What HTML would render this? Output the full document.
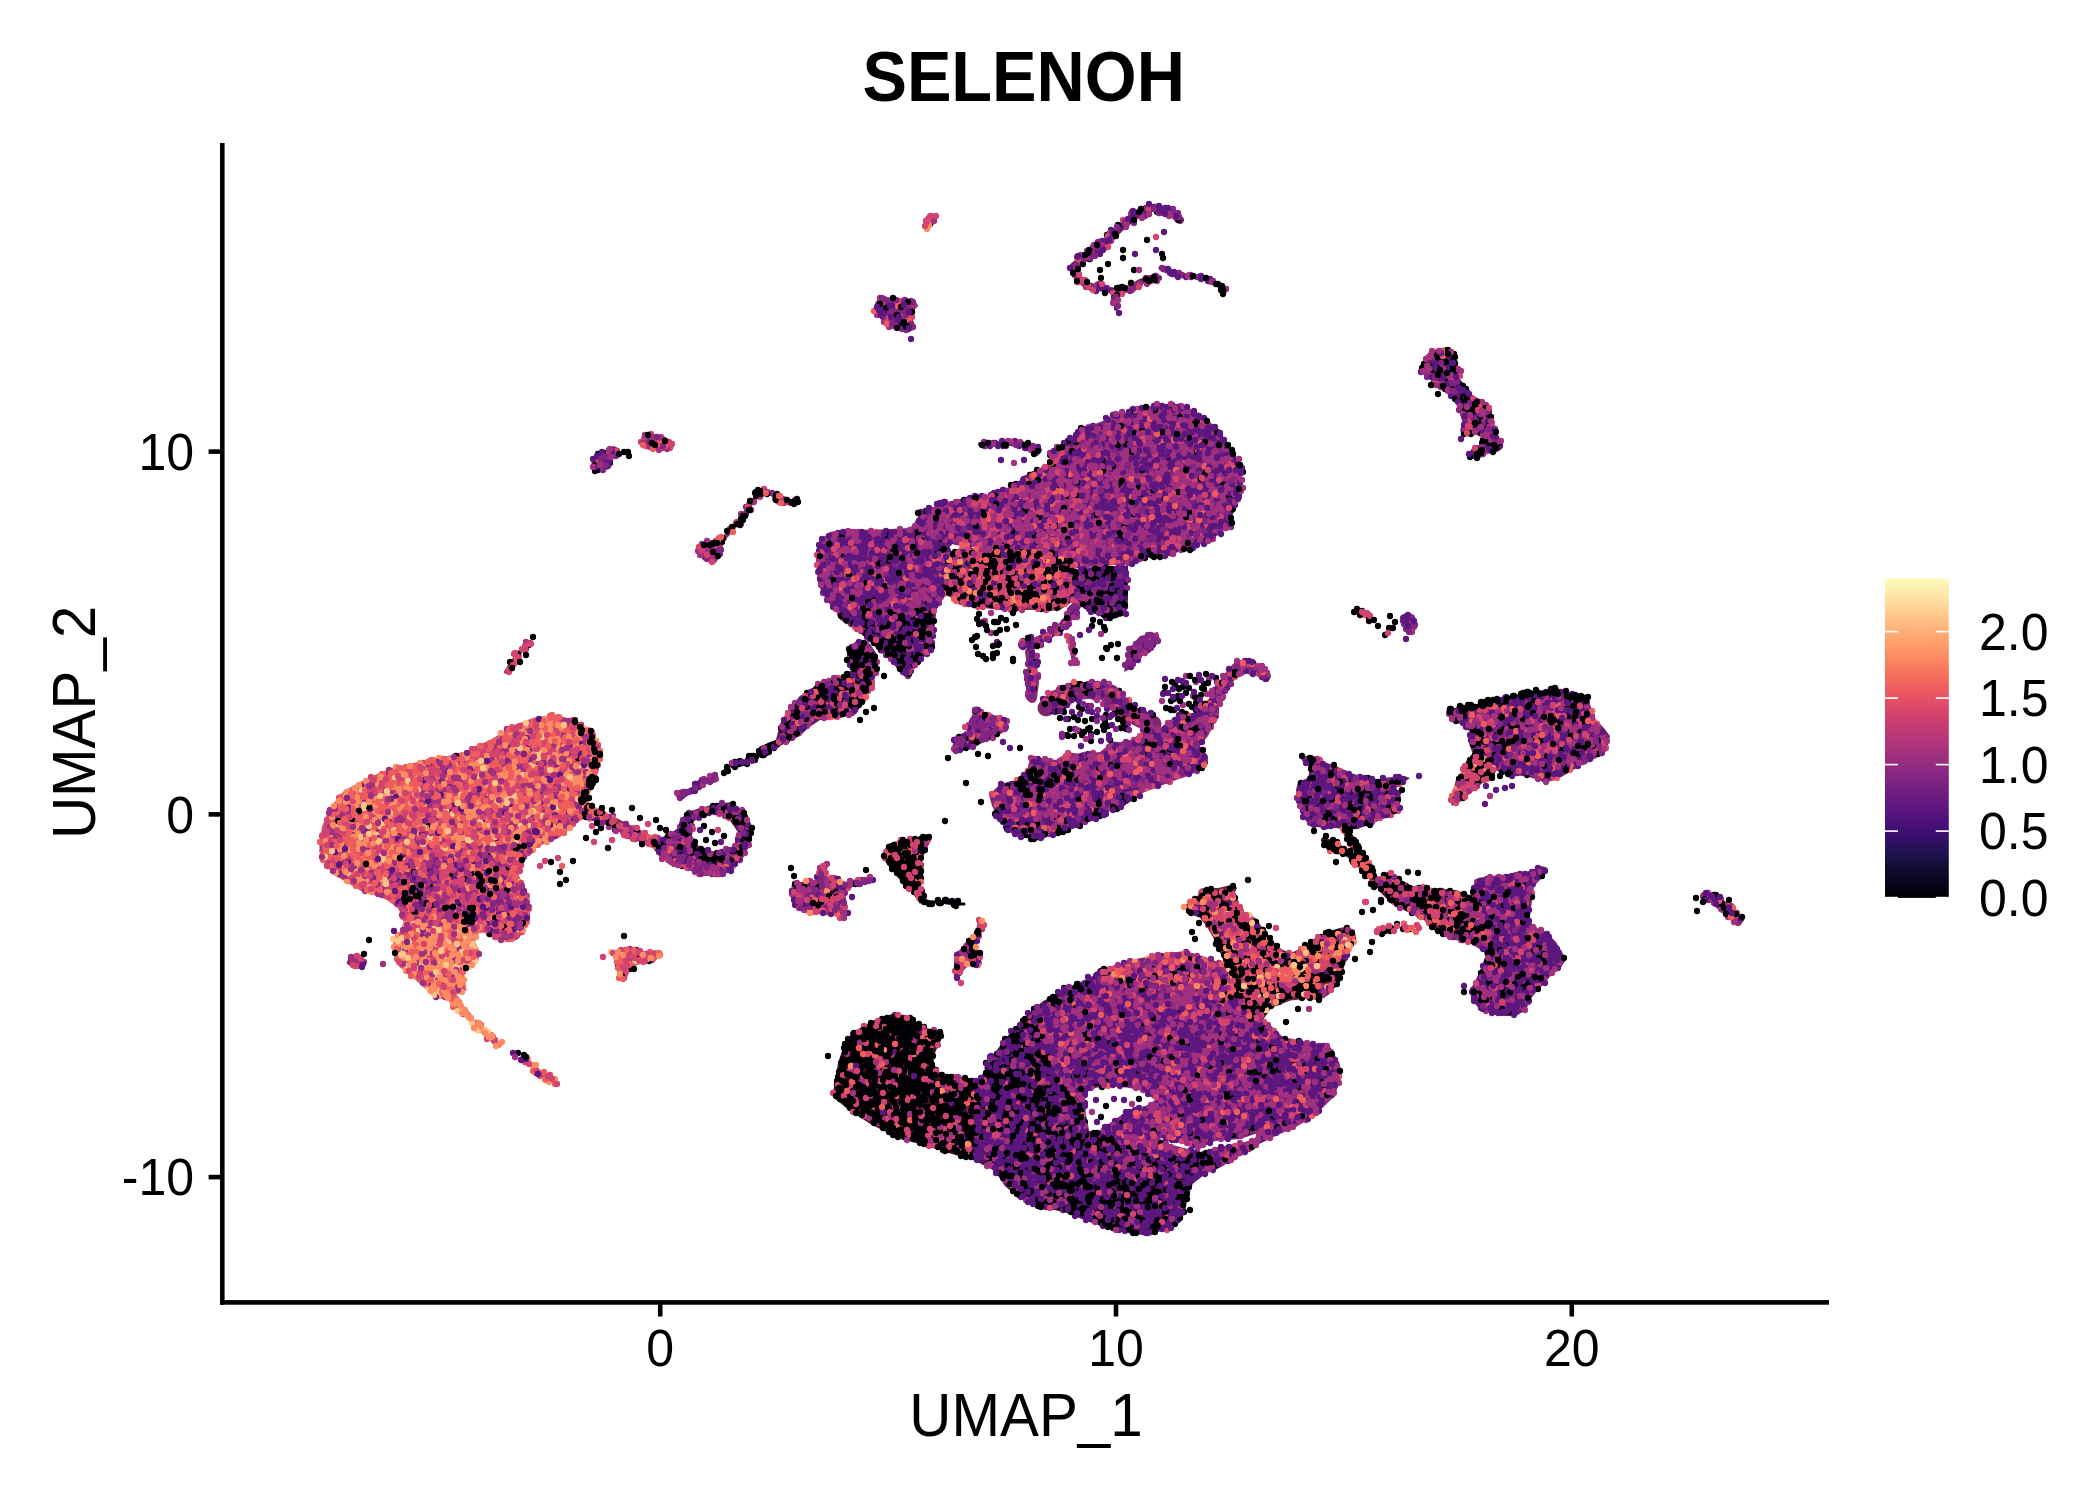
<!DOCTYPE html><html><head><meta charset="utf-8"><title>SELENOH</title><style>
html,body{margin:0;padding:0;background:#fff;width:2100px;height:1500px;overflow:hidden}
svg{position:absolute;left:0;top:0;display:block}
text{font-family:"Liberation Sans", Arial, Helvetica, sans-serif;fill:#000}
</style></head><body>
<svg width="2100" height="1500" viewBox="0 0 2100 1500">
<defs><linearGradient id="mg" x1="0" y1="1" x2="0" y2="0">
<stop offset="0.00" stop-color="#000004"/>
<stop offset="0.05" stop-color="#07061C"/>
<stop offset="0.10" stop-color="#140E36"/>
<stop offset="0.15" stop-color="#251255"/>
<stop offset="0.20" stop-color="#3B0F70"/>
<stop offset="0.25" stop-color="#51127C"/>
<stop offset="0.30" stop-color="#641A80"/>
<stop offset="0.35" stop-color="#782281"/>
<stop offset="0.40" stop-color="#8C2981"/>
<stop offset="0.45" stop-color="#A1307E"/>
<stop offset="0.50" stop-color="#B73779"/>
<stop offset="0.55" stop-color="#CA3E72"/>
<stop offset="0.60" stop-color="#DE4968"/>
<stop offset="0.65" stop-color="#ED5A5F"/>
<stop offset="0.70" stop-color="#F7705C"/>
<stop offset="0.75" stop-color="#FC8961"/>
<stop offset="0.80" stop-color="#FE9F6D"/>
<stop offset="0.85" stop-color="#FEB77E"/>
<stop offset="0.90" stop-color="#FECF92"/>
<stop offset="0.95" stop-color="#FDE7A9"/>
<stop offset="1.00" stop-color="#FCFDBF"/>
</linearGradient></defs>
<rect width="2100" height="1500" fill="#fff"/>
<style>.u path{}
.c0{stroke:#000004}.c1{stroke:#5C177F}.c2{stroke:#802582}.c3{stroke:#A1307E}.c4{stroke:#D24370}.c5{stroke:#EE5C5E}.c6{stroke:#FC8D63}.c7{stroke:#FEC589}
.pt path{fill:none;stroke-width:6.30;stroke-linecap:round}</style>
<g class="u"><path fill="#d65c6c" d="M319.1 851.2 321.9 826.6 330.1 807.5 343.7 791.1 368.3 777.5 395.7 766.5 423.0 761.1 450.3 755.6 469.4 750.1 491.3 739.2 513.2 725.5 535.0 717.3 556.9 714.6 573.3 720.1 589.7 728.3 600.6 744.7 600.6 761.1 595.2 777.5 589.7 793.9 587.0 813.0 573.3 826.6 559.6 837.6 546.0 843.0 535.0 848.5 524.1 859.4 518.6 875.8 526.8 892.2 529.6 908.6 526.8 925.0 518.6 938.7 505.0 941.4 491.3 936.0 480.4 930.5 464.0 925.0 436.6 922.3 414.8 919.6 403.9 919.6 398.4 908.6 387.5 900.4 376.5 895.0 362.9 892.2 349.2 884.0 335.5 875.8 324.6 864.9 Z"/><path fill="#ae3d6c" d="M403.9 864.9 436.6 859.4 464.0 854.0 491.3 848.5 518.6 843.0 535.0 848.5 524.1 859.4 518.6 875.8 526.8 892.2 529.6 908.6 526.8 925.0 518.6 938.7 505.0 941.4 491.3 936.0 480.4 930.5 464.0 925.0 436.6 922.3 414.8 919.6 403.9 919.6 398.4 908.6 392.9 886.8 Z"/><path fill="#e8766d" d="M403.9 919.6 414.8 916.8 436.6 922.3 464.0 925.0 480.4 930.5 474.9 941.4 480.4 952.4 477.6 963.3 464.0 971.5 466.7 990.6 453.0 996.1 436.6 998.8 414.8 979.7 398.4 966.0 392.9 952.4 392.9 938.7 401.1 930.5 Z"/><path fill="none" stroke="#f37f6a" stroke-width="5.0" stroke-linecap="round" stroke-linejoin="round" d="M444.8 993.4 458.5 1007.0 472.2 1020.7 485.8 1034.4 499.5 1045.3"/><path fill="none" stroke="#ee6b64" stroke-width="7.0" stroke-linecap="round" stroke-linejoin="round" d="M442.1 987.9 458.5 1001.6"/><path fill="none" stroke="#d75b6a" stroke-width="4.0" stroke-linecap="round" stroke-linejoin="round" d="M522.0 1058.0 532.0 1066.0 542.0 1074.0 552.0 1080.0 556.0 1085.0"/><path fill="none" stroke="#5f2036" stroke-width="6.0" stroke-linecap="round" stroke-linejoin="round" d="M573.3 722.8 589.7 733.7 597.9 752.9 595.2 772.0 587.0 788.4 584.2 804.8 589.7 818.5"/><path fill="#842769" d="M346.5 963.3 349.2 956.5 354.7 953.7 361.5 955.1 365.6 963.3 361.5 968.8 353.3 968.8 Z"/><path fill="none" stroke="#8e2e60" stroke-width="11.0" stroke-linecap="round" stroke-linejoin="round" d="M588.0 812.0 604.0 818.0 620.0 826.0 636.0 834.0 652.0 842.0 666.0 848.0"/><path fill="#52184f" fill-rule="evenodd" d="M680.0 820.0 688.0 812.0 700.0 808.0 716.0 804.0 732.0 802.0 744.0 812.0 752.0 826.0 752.0 840.0 744.0 856.0 736.0 866.0 720.0 876.0 704.0 874.0 688.0 868.0 676.0 864.0 664.0 858.0 654.0 850.0 660.0 840.0 670.0 834.0 678.0 828.0 Z M694.0 820.0 712.0 814.0 728.0 818.0 738.0 832.0 734.0 846.0 716.0 852.0 700.0 848.0 692.0 836.0 Z"/><path fill="#9a2f7a" d="M656.0 850.0 668.0 846.0 684.0 856.0 700.0 862.0 716.0 866.0 730.0 866.0 736.0 868.0 720.0 876.0 704.0 876.0 688.0 870.0 672.0 864.0 660.0 858.0 Z"/><path fill="none" stroke="#7f247f" stroke-width="4.0" stroke-linecap="round" stroke-linejoin="round" d="M678.0 796.0 690.0 790.0 705.0 782.0 716.0 776.0"/><path fill="none" stroke="#000004" stroke-width="2.0" stroke-linecap="round" stroke-linejoin="round" d="M722.0 772.0 728.0 768.0"/><path fill="none" stroke="#2a0c2d" stroke-width="4.0" stroke-linecap="round" stroke-linejoin="round" d="M732.0 766.0 744.0 762.0 756.0 756.0 768.0 750.0 778.0 744.0"/><path fill="#5e1d4a" d="M776.0 740.0 780.0 724.0 788.0 710.0 800.0 696.0 812.0 688.0 824.0 680.0 840.0 676.0 852.0 670.0 860.0 660.0 870.0 666.0 874.0 686.0 864.0 700.0 856.0 714.0 840.0 718.0 820.0 720.0 808.0 728.0 800.0 736.0 784.0 744.0 772.0 750.0 Z"/><path fill="#501746" d="M846.0 660.0 850.0 646.0 858.0 640.0 870.0 644.0 878.0 656.0 876.0 676.0 866.0 682.0 856.0 672.0 Z"/><path fill="#bb4562" d="M925.0 229.0 923.6 220.0 928.0 213.6 937.0 213.6 938.0 218.0 934.0 224.0 929.0 230.0 Z"/><path fill="#832968" d="M873.0 312.0 875.6 302.0 880.0 297.0 896.0 297.6 912.0 300.0 918.4 305.6 912.4 312.4 912.0 318.0 916.4 328.0 909.0 332.4 900.0 328.4 888.0 328.4 882.0 320.0 876.0 315.0 Z"/><path fill="#6c1f68" d="M591.0 468.0 592.0 460.0 596.0 454.4 606.0 450.0 613.6 446.0 620.0 449.0 618.0 456.0 610.4 458.4 609.0 468.4 602.0 472.4 593.6 471.0 Z"/><path fill="#b34067" d="M640.0 442.4 642.0 435.0 648.0 433.0 662.0 435.0 670.4 440.0 674.0 447.0 668.0 451.0 652.0 451.0 643.0 448.0 Z"/><path fill="none" stroke="#7c2854" stroke-width="4.0" stroke-linecap="round" stroke-linejoin="round" d="M710.0 552.0 720.0 542.0 730.0 532.0 740.0 520.0 748.0 508.0 754.0 500.0 760.0 491.0 768.0 492.0 780.0 499.0 790.0 504.0 798.0 502.0"/><path fill="#81275c" d="M697.0 552.0 700.0 543.0 710.0 540.0 720.0 542.0 722.0 550.0 718.0 560.0 710.0 563.0 703.0 560.0 Z"/><path fill="none" stroke="#a5356c" stroke-width="4.0" stroke-linecap="round" stroke-linejoin="round" d="M506.0 672.0 512.0 662.0 520.0 652.0 530.0 642.0"/><path fill="none" stroke="#6c1f68" stroke-width="8.0" stroke-linecap="round" stroke-linejoin="round" d="M1074.0 266.0 1084.0 258.0 1096.0 250.0 1110.0 238.0 1120.0 228.0 1132.0 218.0 1144.0 210.0 1154.0 207.6 1164.0 212.0 1174.0 215.0 1180.0 220.0"/><path fill="none" stroke="#6b205b" stroke-width="6.0" stroke-linecap="round" stroke-linejoin="round" d="M1074.0 266.0 1076.0 276.0 1084.0 284.0 1098.0 288.0 1110.0 290.0 1120.0 292.0 1130.0 288.0 1140.0 282.0 1150.0 278.0 1159.0 278.0"/><path fill="none" stroke="#571864" stroke-width="3.0" stroke-linecap="round" stroke-linejoin="round" d="M1160.0 268.0 1170.0 272.0 1182.0 275.0 1192.0 276.0 1204.0 279.0 1216.0 284.0 1225.0 292.0"/><path fill="none" stroke="#681e62" stroke-width="4.0" stroke-linecap="round" stroke-linejoin="round" d="M1116.0 294.0 1116.0 309.0"/><path fill="none" stroke="#571861" stroke-width="4.0" stroke-linecap="round" stroke-linejoin="round" d="M980.0 444.0 992.0 443.0 1010.0 444.0 1026.0 446.0 1040.0 450.0"/><path fill="#7d2473" d="M816.0 550.0 820.0 540.0 830.0 532.0 850.0 529.0 870.0 530.0 890.0 529.0 910.0 528.0 918.0 520.0 940.0 512.0 950.0 530.0 950.0 560.0 946.0 594.0 936.0 610.0 934.0 630.0 932.0 650.0 920.0 660.0 906.0 678.0 890.0 660.0 872.0 644.0 860.0 632.0 840.0 616.0 826.0 600.0 818.0 584.0 816.0 560.0 Z"/><path fill="#46134d" d="M840.0 616.0 860.0 610.0 890.0 612.0 920.0 615.0 936.0 612.0 934.0 630.0 932.0 650.0 920.0 660.0 906.0 678.0 890.0 660.0 872.0 644.0 860.0 632.0 Z"/><path fill="#862777" d="M918.0 514.0 940.0 504.0 960.0 499.0 990.0 496.0 1010.0 488.0 1030.0 476.0 1046.0 466.0 1054.0 450.0 1064.0 444.0 1080.0 430.0 1100.0 422.0 1120.0 414.0 1140.0 408.0 1160.0 405.0 1172.0 405.0 1190.0 410.0 1210.0 422.0 1222.0 436.0 1230.0 448.0 1236.0 458.0 1242.0 468.0 1242.0 482.0 1240.0 494.0 1234.0 510.0 1230.0 526.0 1220.0 534.0 1206.0 542.0 1190.0 548.0 1170.0 554.0 1150.0 556.0 1140.0 558.0 1130.0 564.0 1100.0 566.0 1075.0 568.0 1060.0 560.0 1040.0 552.0 1000.0 548.0 960.0 546.0 940.0 540.0 918.0 530.0 Z"/><path fill="#972e75" d="M960.0 500.0 990.0 496.0 1010.0 488.0 1030.0 476.0 1046.0 466.0 1060.0 470.0 1080.0 490.0 1090.0 520.0 1085.0 550.0 1075.0 566.0 1060.0 560.0 1040.0 552.0 1000.0 548.0 960.0 546.0 945.0 530.0 Z"/><path fill="#7c2b49" d="M946.0 556.0 960.0 548.0 1000.0 548.0 1040.0 552.0 1070.0 560.0 1080.0 575.0 1075.0 600.0 1060.0 610.0 1040.0 610.0 1000.0 610.0 960.0 605.0 946.0 594.0 Z"/><path fill="#4a1459" d="M1072.0 570.0 1100.0 566.0 1128.0 566.0 1128.0 600.0 1126.0 615.0 1110.0 620.0 1090.0 612.0 1078.0 600.0 Z"/><path fill="none" stroke="#742172" stroke-width="8.0" stroke-linecap="round" stroke-linejoin="round" d="M1082.0 596.0 1074.0 612.0 1062.0 626.0 1048.0 636.0 1034.0 642.0 1022.0 645.0"/><path fill="none" stroke="#8d2b6d" stroke-width="10.0" stroke-linecap="round" stroke-linejoin="round" d="M1030.0 652.0 1032.0 666.0 1034.0 682.0 1032.0 698.0"/><path fill="none" stroke="#772368" stroke-width="4.0" stroke-linecap="round" stroke-linejoin="round" d="M1070.0 636.0 1072.0 650.0 1074.0 664.0"/><path fill="#752270" d="M1124.0 672.0 1128.0 650.0 1140.0 636.0 1158.0 632.0 1160.0 642.0 1146.0 652.0 1132.0 668.0 Z"/><path fill="#882972" d="M989.0 795.0 1000.0 784.0 1016.0 780.0 1028.0 768.0 1030.0 758.0 1044.0 758.0 1056.0 760.0 1068.0 752.0 1080.0 754.0 1100.0 752.0 1110.0 744.0 1130.0 740.0 1140.0 734.0 1160.0 728.0 1170.0 720.0 1180.0 716.0 1192.0 714.0 1200.0 706.0 1210.0 698.0 1216.0 692.0 1224.0 680.0 1234.0 668.0 1244.0 661.0 1254.0 662.0 1262.0 670.0 1269.0 681.0 1264.0 682.0 1254.0 672.0 1242.0 672.0 1232.0 680.0 1222.0 692.0 1218.0 704.0 1216.0 720.0 1208.0 736.0 1200.0 746.0 1208.0 756.0 1208.0 764.0 1200.0 770.0 1188.0 776.0 1176.0 780.0 1160.0 786.0 1140.0 794.0 1120.0 806.0 1100.0 816.0 1080.0 824.0 1060.0 832.0 1040.0 838.0 1024.0 838.0 1010.0 832.0 1000.0 820.0 992.0 806.0 Z"/><path fill="none" stroke="#7e2668" stroke-width="17.0" stroke-linecap="round" stroke-linejoin="round" d="M1046.0 708.0 1055.0 699.0 1073.0 692.0 1095.0 689.5 1111.0 693.0 1119.0 703.0 1127.0 712.0 1140.0 719.0 1153.0 724.0"/><path fill="none" stroke="#8f2b75" stroke-width="10.0" stroke-linecap="round" stroke-linejoin="round" d="M1266.0 676.0 1250.0 664.0 1236.0 668.0 1226.0 680.0 1216.0 696.0 1210.0 712.0 1206.0 728.0"/><path fill="#812671" d="M952.0 748.0 954.0 738.0 966.0 734.0 970.0 720.0 976.0 706.0 986.0 714.0 1000.0 716.0 1008.0 720.0 1004.0 732.0 990.0 740.0 980.0 744.0 968.0 750.0 956.0 752.0 Z"/><path fill="none" stroke="#ac395d" stroke-width="4.0" stroke-linecap="round" stroke-linejoin="round" d="M1353.0 612.0 1360.0 613.0 1366.0 616.0 1371.0 619.0"/><path fill="#84267f" d="M1400.0 616.0 1406.0 613.0 1413.0 617.0 1415.6 625.0 1412.0 632.4 1408.0 632.4 1403.0 625.0 Z"/><path fill="#631d58" d="M1420.1 369.2 1423.9 358.0 1429.5 351.5 1437.9 348.7 1445.3 347.3 1454.6 351.5 1456.5 354.3 1453.7 360.8 1459.3 367.3 1463.0 373.9 1459.3 378.5 1465.8 386.0 1469.6 393.5 1473.3 397.2 1480.8 399.0 1487.3 404.6 1492.0 409.3 1492.0 419.6 1494.8 428.0 1499.4 437.3 1502.2 442.9 1501.3 449.4 1496.6 452.2 1486.4 453.2 1482.6 456.9 1478.0 458.8 1469.6 457.8 1468.6 453.2 1473.3 446.6 1478.0 444.8 1480.8 447.6 1482.6 437.3 1478.0 433.6 1468.6 436.4 1461.2 434.5 1460.2 428.9 1464.0 423.3 1462.1 417.7 1459.3 412.1 1456.5 404.6 1451.8 397.2 1445.3 389.7 1437.9 386.0 1432.3 387.9 1429.5 385.0 1431.3 380.4 1426.7 376.7 1421.1 372.9 Z"/><path fill="#742363" d="M1446.0 710.0 1460.0 707.0 1480.0 705.0 1498.0 698.0 1520.0 694.0 1540.0 692.0 1554.0 688.0 1570.0 693.0 1588.0 698.0 1592.0 710.0 1596.0 720.0 1604.0 728.0 1610.0 736.0 1608.0 746.0 1604.0 754.0 1592.0 760.0 1580.0 766.0 1570.0 772.0 1556.0 780.0 1546.0 782.0 1532.0 778.0 1524.0 775.0 1510.0 777.0 1500.0 772.0 1490.0 768.0 1480.0 760.0 1472.0 752.0 1468.0 740.0 1470.0 732.0 1464.0 726.0 1452.0 720.0 Z"/><path fill="none" stroke="#0f0418" stroke-width="3.0" stroke-linecap="round" stroke-linejoin="round" d="M1448.0 712.0 1470.0 707.0 1500.0 700.0 1530.0 694.0 1554.0 690.0 1572.0 696.0 1588.0 700.0"/><path fill="#8a3446" d="M1472.0 754.0 1492.0 756.0 1496.0 772.0 1486.0 780.0 1472.0 792.0 1460.0 802.0 1452.0 806.0 1450.0 800.0 1456.0 780.0 1464.0 768.0 Z"/><path fill="#641c64" d="M1300.0 757.0 1312.0 755.0 1324.0 762.0 1336.0 766.0 1348.0 772.0 1360.0 776.0 1376.0 780.0 1384.0 778.0 1392.0 777.0 1404.0 776.0 1410.0 778.0 1396.0 788.0 1400.0 800.0 1400.0 810.0 1392.0 816.0 1380.0 820.0 1372.0 824.0 1360.0 828.0 1348.0 830.0 1336.0 828.0 1324.0 828.0 1310.0 826.0 1302.0 816.0 1298.0 804.0 1296.0 790.0 1298.0 782.0 1308.0 778.0 1310.0 768.0 1302.0 760.0 Z"/><path fill="none" stroke="#4c1b24" stroke-width="8.0" stroke-linecap="round" stroke-linejoin="round" d="M1344.0 826.0 1350.0 838.0 1356.0 850.0 1362.0 862.0 1370.0 874.0 1378.0 884.0"/><path fill="#6e1f6e" d="M1474.0 888.0 1478.0 878.0 1492.0 876.0 1510.0 875.0 1520.0 874.0 1532.0 870.0 1542.0 866.0 1548.0 869.0 1542.0 878.0 1534.0 886.0 1532.0 900.0 1530.0 916.0 1532.0 926.0 1546.0 932.0 1556.0 942.0 1562.0 952.0 1566.0 960.0 1560.0 968.0 1552.0 974.0 1544.0 984.0 1536.0 992.0 1530.0 1000.0 1526.0 1010.0 1516.0 1016.0 1500.0 1016.0 1480.0 1010.0 1472.0 1000.0 1470.0 990.0 1476.0 980.0 1480.0 970.0 1486.0 960.0 1484.0 952.0 1472.0 944.0 1460.0 940.0 1450.0 936.0 Z"/><path fill="none" stroke="#87277c" stroke-width="3.0" stroke-linecap="round" stroke-linejoin="round" d="M1478.0 884.0 1500.0 880.0 1520.0 878.0 1536.0 874.0"/><path fill="#5c1e3c" d="M1376.0 878.0 1392.0 872.0 1408.0 886.0 1432.0 888.0 1456.0 890.0 1472.0 896.0 1480.0 910.0 1490.0 924.0 1492.0 940.0 1476.0 944.0 1456.0 940.0 1436.0 932.0 1424.0 920.0 1404.0 910.0 1392.0 904.0 1380.0 892.0 Z"/><path fill="none" stroke="#3c171a" stroke-width="6.0" stroke-linecap="round" stroke-linejoin="round" d="M1324.0 840.0 1340.0 848.0 1356.0 860.0 1372.0 874.0"/><path fill="#3a1325" d="M832.9 1093.7 838.0 1062.9 845.7 1039.7 861.1 1026.9 876.6 1019.1 892.0 1014.0 907.4 1015.3 915.1 1021.7 930.6 1029.4 943.4 1032.0 938.3 1044.9 933.1 1057.7 935.7 1068.0 943.4 1075.7 958.9 1075.7 974.3 1080.9 975.0 1110.0 974.3 1160.6 948.6 1152.9 922.9 1145.1 897.1 1137.4 871.4 1124.6 850.9 1111.7 835.4 1098.9 Z"/><path fill="#491451" d="M974.3 1080.9 987.1 1070.6 1000.0 1057.7 1012.9 1037.1 1025.7 1024.3 1040.0 1040.0 1060.0 1080.0 1100.0 1130.0 1160.0 1160.0 1200.0 1150.0 1231.4 1160.6 1218.6 1168.3 1205.7 1173.4 1192.8 1183.7 1187.7 1196.6 1185.1 1212.0 1180.0 1222.3 1167.1 1230.0 1154.3 1232.6 1136.3 1235.1 1115.7 1230.0 1090.0 1222.3 1064.3 1212.0 1038.6 1206.9 1020.6 1199.1 1005.1 1186.3 994.9 1170.9 974.3 1160.6 975.0 1110.0 Z"/><path fill="#7d2475" d="M1025.7 1024.3 1038.6 1011.4 1051.4 998.6 1066.8 990.9 1090.0 980.6 1105.4 970.3 1128.6 962.6 1154.3 960.0 1180.0 965.0 1210.0 985.0 1240.0 1000.0 1265.0 1020.0 1282.8 1037.1 1308.6 1042.3 1329.1 1044.9 1339.4 1062.9 1342.0 1075.7 1334.3 1096.3 1321.4 1109.1 1308.6 1119.4 1295.7 1127.1 1277.7 1134.9 1257.1 1145.1 1244.3 1152.9 1231.4 1160.6 1200.0 1150.0 1160.0 1160.0 1100.0 1130.0 1060.0 1080.0 1040.0 1040.0 Z"/><path fill="none" stroke="#330e3f" stroke-width="11.0" stroke-linecap="round" stroke-linejoin="round" d="M990.0 1068.0 1004.0 1050.0 1016.0 1034.0 1030.0 1020.0 1046.0 1006.0 1066.0 994.0 1090.0 984.0 1110.0 974.0"/><path fill="#9b3369" d="M1100.0 971.9 1119.0 964.3 1138.1 958.6 1166.7 952.9 1185.7 951.0 1204.8 956.7 1223.8 964.3 1233.3 971.9 1237.1 987.1 1233.3 998.6 1223.8 1002.4 1204.8 994.8 1185.7 991.0 1166.7 991.0 1147.6 987.1 1128.6 983.3 1109.5 983.3 1100.0 983.3 Z"/><path fill="#6a293b" d="M1183.8 907.1 1191.4 899.5 1202.9 891.9 1206.7 888.1 1218.1 888.1 1233.3 884.3 1237.1 888.1 1233.3 895.7 1244.8 912.9 1256.2 918.6 1263.8 930.0 1271.4 939.5 1281.0 949.0 1290.5 952.9 1300.0 949.0 1309.5 941.4 1319.0 935.7 1328.6 931.9 1340.0 928.1 1347.6 926.2 1353.3 930.0 1355.2 939.5 1347.6 956.7 1343.8 968.1 1338.1 983.3 1328.6 994.8 1319.0 1000.5 1309.5 998.6 1290.5 1000.5 1281.0 1004.3 1271.4 1008.1 1261.9 1021.4 1252.4 1021.4 1242.9 1013.8 1237.1 1002.4 1233.3 987.1 1229.5 971.9 1221.9 956.7 1214.3 939.5 1206.7 926.2 1199.0 916.7 1189.5 912.9 Z"/><path fill="none" stroke="#c34f5f" stroke-width="10.0" stroke-linecap="round" stroke-linejoin="round" d="M1203.0 893.0 1215.0 905.0 1226.0 922.0 1238.0 942.0 1252.0 958.0 1268.0 970.0"/><path fill="none" stroke="#be4e5c" stroke-width="19.0" stroke-linecap="round" stroke-linejoin="round" d="M1258.0 982.0 1285.0 976.0 1310.0 966.0 1330.0 952.0 1345.0 938.0"/><path fill="#591e31" d="M882.0 854.0 888.0 844.0 900.0 840.0 916.0 838.0 926.0 834.0 932.0 838.0 926.0 850.0 922.0 860.0 924.0 872.0 920.0 884.0 924.0 896.0 920.0 904.0 912.0 892.0 900.0 880.0 890.0 868.0 884.0 860.0 Z"/><path fill="none" stroke="#000004" stroke-width="3.0" stroke-linecap="round" stroke-linejoin="round" d="M918.0 898.0 930.0 902.0 942.0 902.0 954.0 904.0 964.0 904.0"/><path fill="#922f6a" d="M790.0 896.0 792.0 884.0 800.0 882.0 816.0 880.0 818.0 870.0 824.0 862.0 828.0 864.0 826.0 876.0 836.0 878.0 846.0 882.0 860.0 878.0 872.0 876.0 874.0 880.0 860.0 884.0 848.0 888.0 844.0 898.0 848.0 912.0 846.0 920.0 840.0 918.0 830.0 914.0 816.0 914.0 810.0 916.0 796.0 906.0 Z"/><path fill="#ca5460" d="M610.0 952.0 620.0 949.0 632.0 948.0 644.0 951.0 656.0 950.0 662.0 954.0 656.0 960.0 640.0 964.0 630.0 968.0 628.0 976.0 624.0 981.0 618.0 978.0 618.0 968.0 616.0 958.0 Z"/><path fill="#8e335d" d="M978.0 918.0 984.0 920.0 985.0 930.0 980.0 934.0 978.0 940.0 974.0 944.0 980.0 952.0 982.0 964.0 978.0 968.0 970.0 964.0 964.0 970.0 958.0 978.0 954.0 978.0 954.0 960.0 958.0 952.0 964.0 946.0 976.0 932.0 Z"/><path fill="none" stroke="#8d2d64" stroke-width="8.0" stroke-linecap="round" stroke-linejoin="round" d="M1704.0 896.0 1715.0 899.0 1724.0 905.0 1731.0 913.0 1738.0 922.0"/><path fill="#fff" d="M1084.8 1090.5 1104.0 1086.3 1125.4 1087.3 1141.4 1090.5 1155.2 1100.1 1146.7 1105.5 1130.7 1109.7 1120.0 1116.1 1109.3 1123.6 1098.7 1131.1 1089.1 1131.1 1085.9 1114.0 Z"/><path fill="#fff" d="M1160.0 1138.0 1180.0 1143.0 1200.0 1148.0 1215.0 1141.0 1240.0 1139.0 1258.0 1133.0 1259.0 1137.0 1242.0 1143.0 1218.0 1147.0 1200.0 1152.0 1180.0 1147.0 1160.0 1142.0 Z"/></g>
<g class="pt"><path class="c6" d="M528 725h0m25-2h0m17 5h0m10 9h0m-6 2h0m-23 0h0m0 5h0m-36 8h0m28 1h0m55-1h0m-4 5h0m-2-1h0m-133 8h0m-16 3h0m-4-9h0m105 21h0m11-10h0m12 4h0m4-3h0m16 20h0m-101-5h0m-77-1h0m-31 2h0m-21 7h0m165 17h0m-22-3h0m-23 2h0m-53-3h0m-14-2h0m-8 1h0m-2 4h0m-14 1h0m24 12h0m0-5h0m60 7h0m84 2h0m10 4h0m-158 0h0m-16 5h0m-40-4h0m99 18h0m79 4h0m-174 4h0m-10 11h0m28 3h0m52 1h0m17-7h0m45 5h0m0-4h0m-81 19h0m-58-4h0m99 9h0m39 12h0m-45 3h0m-14-1h0m-2 4h0m98 19h0"/><path class="c4" d="M560 723h0m-21 12h0m-23 5h0m-1-1h0m-3-4h0m-19 16h0m49-5h0m45-2h0m-2 13h0m-65 4h0m-9 0h0m-34-1h0m-7 4h0m-47-1h0m-15 5h0m123 1h0m17 6h0m-3 11h0m-54 1h0m-43-6h0m-12 8h0m-33 1h0m-34-7h0m39 12h0m41-2h0m7 0h0m75 6h0m27-2h0m-5 12h0m-5 4h0m-5-2h0m-22 3h0m-107 1h0m-76 1h0m-11 9h0m69-1h0m8-5h0m25 3h0m92-2h0m20 7h0m-32 3h0m-27 5h0m-16 0h0m-61 2h0m-30-6h0m-52 4h0m85 14h0m61-1h0m40 12h0m-49-7h0m-43 5h0m-56-4h0m-22 15h0m56 4h0m101-1h0m8 14h0m-106 10h0m49 1h0m45 2h0m2-7h0m31 4h0m4 11h0m-14-2h0m-6 6h0m-4-2h0m-10-8h0m-45 6h0m13 6h0m7 8h0m29-3h0m4 0h0m17-1h0m-7 12h0m-22 0h0"/><path class="c3" d="M496 747h0m27 9h0m-134 14h0m134 0h0m61 9h0m-25 9h0m-115 2h0m-34-9h0m-40 11h0m73 5h0m15 7h0m10-9h0m74 10h0m-79 8h0m-21-5h0m-17 6h0m-33 6h0m40-1h0m78 8h0m2-6h0m20 13h0m-106 0h0m-10 4h0m-2-3h0m-11 1h0m-10 2h0m-40-5h0m-20 3h0m35 15h0m36-9h0m106 5h0m-13 12h0m-5-1h0m-10-6h0m-102 20h0m9-4h0m78 17h0m-112-9h0m10 15h0m146-3h0m-37 31h0m23-7h0"/><path class="c2" d="M506 752h0m83 2h0m-152 8h0m69 45h0m-56 2h0m-19 54h0m-92 11h0m74-8h0m-50 17h0m122 21h0m-4 8h0"/><path class="c0" d="M401 832h0"/><path class="c1" d="M580 744h0m-219 42h0m150 21h0m-58-1h0m12 36h0m41 15h0m-54 24h0"/><path class="c7" d="M421 779h0m166-9h0m-225 20h0m91 24h0m35 12h0m33 0h0m-91 11h0m91 4h0m-96 21h0m-9 12h0m51-9h0m35 4h0m5 12h0m-32-1h0m-52 7h0m-30 0h0m61 3h0m-48 19h0m-5-4h0m59 14h0m5-1h0m14 3h0"/><path class="c5" d="M532 735h0m-23 9h0m-19-1h0m51 7h0m6 1h0m30-3h0m6 1h0m8 3h0m-111 12h0m-103 15h0m5-5h0m14-2h0m72 5h0m15 0h0m7-2h0m2 4h0m65 0h0m27 13h0m0-11h0m-47-1h0m-56 6h0m-65 0h0m-21-3h0m-11 4h0m-31 4h0m-3 10h0m16-3h0m31-5h0m48 2h0m57 0h0m72 8h0m-17 11h0m-12-10h0m-5 10h0m-44-6h0m-14 0h0m-79 5h0m-5-9h0m-48 11h0m91 7h0m7-1h0m17 6h0m59-9h0m40 15h0m-30 5h0m-45-7h0m-12 2h0m-11 4h0m-24 1h0m-120 6h0m38 1h0m18 3h0m119 3h0m41-6h0m-70 7h0m-60 4h0m-11-2h0m-25 5h0m-6 0h0m-28 4h0m-3-7h0m-12 4h0m0-5h0m23 14h0m147 5h0m16 3h0m-12 0h0m-39 4h0m-5 0h0m-16 7h0m-16-7h0m-46 3h0m-19 2h0m19 6h0m1-1h0m124-1h0m6 11h0m-110 1h0m-3-2h0m15 15h0m9 0h0m8 2h0m60 7h0m-1 4h0m-18-4h0m32 13h0"/><path class="c6" d="M561 728h0m17 5h0m-51 1h0m31 33h0m-23-1h0m-41-7h0m-44 1h0m49 14h0m83 11h0m-63 3h0m-18-2h0m-91 2h0m-18 4h0m-14-10h0m-20 19h0m113-4h0m45 4h0m37 2h0m3 8h0m-6-7h0m-13 0h0m-33 1h0m-19 1h0m-19 2h0m-43 8h0m-43 0h0m-24-11h0m-6-1h0m2 18h0m161-4h0m21 4h0m-49 15h0m-6-1h0m-23-7h0m-1 5h0m-101-5h0m-24 7h0m5 15h0m38 0h0m60-8h0m25-2h0m62 17h0m-60 6h0m-14 0h0m-84-5h0m-26 14h0m64 1h0m12-4h0m33 4h0m42-2h0m23-2h0m-8 9h0m-31-2h0m-31 2h0m-26 2h0m-21 9h0m95 3h0m2-3h0m33 21h0m-5-8h0m-21-1h0m-88 9h0m21 4h0m47-1h0m16 20h0"/><path class="c3" d="M568 725h0m-65 13h0m-1 13h0m7 1h0m-48 11h0m-64 5h0m164 7h0m14-4h0m-51 21h0m-61-10h0m30 11h0m48 9h0m4 10h0m-34 2h0m-10-3h0m-71-4h0m-100 20h0m5-8h0m101 0h0m20 7h0m5-4h0m85 2h0m-77 7h0m-38 2h0m-69 1h0m-39 14h0m69 14h0m-62 0h0m50 6h0m85 1h0m-68 7h0m-5 7h0m-6-5h0m-4 17h0m39 2h0m102 13h0m-21-7h0m-49 8h0m-50-1h0m4 5h0m22 5h0m71-1h0"/><path class="c0" d="M456 756h0m-28 70h0m155-10h0m-240 21h0m120 54h0"/><path class="c1" d="M529 751h0m38 9h0m-171 37h0m157 10h0m-69 13h0m75 3h0m-61 17h0m27 10h0m-99 14h0m6 39h0m14 11h0"/><path class="c7" d="M583 729h0m-3 36h0m-159 24h0m-34 5h0m52 6h0m68-2h0m-61 12h0m-108 17h0m133 16h0m-89 17h0m-6 4h0m87 34h0m-12 19h0m66-1h0m2 15h0"/><path class="c4" d="M556 731h0m29 7h0m-42 4h0m-21-8h0m-18 9h0m-20 7h0m18 4h0m50-7h0m46-2h0m-7 21h0m-22-8h0m-14 7h0m-5-1h0m-51-7h0m-65 8h0m-31 11h0m70-6h0m73 4h0m4 3h0m13 4h0m-50 3h0m-23-3h0m-38 1h0m-30 3h0m-21-4h0m0 6h0m-19-4h0m-43 15h0m149-2h0m38 5h0m35-1h0m-40 10h0m-50 4h0m-3 1h0m-31-10h0m-75 3h0m-17 7h0m-11 5h0m53 4h0m53-1h0m101 0h0m-10 8h0m-5 0h0m-10-2h0m-106 3h0m-9-1h0m-11 5h0m-53-2h0m-10 0h0m52 16h0m2-6h0m124 1h0m9-1h0m-5 11h0m-23 6h0m-5-4h0m-79 4h0m-24-8h0m-23 2h0m-21 9h0m39 5h0m9 2h0m138 0h0m-19 12h0m-41 2h0m-31-4h0m-67 4h0m-14-9h0m159 17h0m4 16h0m-41-6h0m-56-3h0m28 18h0m5 0h0m27 2h0m43 6h0"/><path class="c2" d="M570 745h0m2 8h0m-34 9h0m-29-3h0m86 19h0m-52 15h0m-15 40h0m-162-2h0m158 26h0m-134 18h0m7 20h0"/><path class="c5" d="M531 728h0m25-5h0m5 16h0m-66 2h0m87 6h0m4 2h0m-6 13h0m-35 4h0m-16-3h0m-7-2h0m-3-3h0m-30 7h0m-13 1h0m-20-7h0m-23 1h0m-30 11h0m17 1h0m93-2h0m70 1h0m12 1h0m-4 10h0m-58 2h0m-7 7h0m-24 0h0m-7-7h0m-19 0h0m-4 1h0m-2 5h0m-8 1h0m-31-4h0m-42-5h0m-24 8h0m38 9h0m34 3h0m77-9h0m57 2h0m11 20h0m-14-3h0m-179-8h0m-19 9h0m-18-5h0m-8 17h0m105-6h0m7 0h0m23-1h0m20 2h0m61 11h0m-58 3h0m0 5h0m-36-8h0m-83 7h0m-35-8h0m-23 18h0m60 2h0m47 1h0m52-11h0m33 4h0m-6 13h0m-62-3h0m-8 6h0m-32-5h0m-48 5h0m42 9h0m70 0h0m13 17h0m-84-5h0m10 13h0m23-1h0m4-4h0m68 10h0m4-3h0m-67 7h0m-1 6h0m-12-1h0m21 6h0"/><path class="c1" d="M584 765h0m-160 15h0m142 10h0m-132-7h0m140 37h0m-95 42h0m-32 14h0m11 15h0m59 2h0"/><path class="c0" d="M338 821h0"/><path class="c4" d="M528 723h0m29 10h0m-77 18h0m2 3h0m7 0h0m87 9h0m-127 0h0m-78 14h0m47-9h0m130 3h0m44 14h0m-54-1h0m-32-1h0m-136 6h0m-17 12h0m6-5h0m106 6h0m69-8h0m12-1h0m-101 13h0m-9-1h0m-24 10h0m-53-1h0m-32 6h0m83 4h0m18-7h0m65 9h0m2 0h0m73-1h0m-28 9h0m-64 3h0m-6-1h0m-51 2h0m-76-4h0m31 13h0m20-6h0m71 7h0m24-4h0m-28 16h0m-47-2h0m-75-5h0m42 13h0m15 5h0m27-2h0m32 3h0m58-7h0m-78 14h0m-64 2h0m18 16h0m36 3h0m15-2h0m58 10h0m-15 1h0m-15-7h0m-32 15h0m2-1h0m19 3h0m7 3h0m54-9h0m-18 22h0"/><path class="c5" d="M512 727h0m32-2h0m29 6h0m0-11h0m5 7h0m-54 20h0m76 12h0m-87-1h0m-45 8h0m-24-7h0m-13 1h0m-25 7h0m2 9h0m80 0h0m22 3h0m26-10h0m2 9h0m55-7h0m-4 17h0m-11-4h0m-37 4h0m-18-8h0m-42 1h0m-78 3h0m-29 18h0m48-4h0m31 1h0m4 4h0m125-6h0m4 9h0m-38 5h0m-73-7h0m-26 2h0m-2 9h0m-17-4h0m-66 3h0m0 5h0m93 2h0m50 0h0m31 18h0m-39-8h0m-29 1h0m-30 2h0m-36-1h0m-48 6h0m8 1h0m7 5h0m20-4h0m22 6h0m5 4h0m1-5h0m21-2h0m14-4h0m17 11h0m17-8h0m14-1h0m0 8h0m5 0h0m-91 10h0m-20 1h0m-24-8h0m-41 13h0m22 6h0m84-7h0m71 5h0m9 9h0m-114 5h0m52 12h0m3-4h0m2 4h0m26 3h0m21-10h0m12 20h0m-61 2h0m-3 11h0m31-10h0m6 3h0m33 7h0m-17 3h0"/><path class="c7" d="M532 765h0m-17 31h0m-122 11h0m-10 16h0m93 5h0m52-3h0m-12 16h0m13 1h0m-10 19h0m-67-6h0m-49 2h0m-21-1h0m-34 17h0m146-2h0m15 4h0m2 18h0m-100 8h0m-4 2h0m12 14h0m42-3h0m38 11h0"/><path class="c6" d="M542 732h0m26 3h0m-19 1h0m-4-2h0m-80 21h0m40-10h0m39 5h0m32-5h0m-61 17h0m-113 12h0m13 3h0m13-6h0m12 5h0m61-2h0m3-6h0m1 8h0m13-6h0m54 11h0m-42 8h0m-62 0h0m-33-5h0m-52 10h0m66 2h0m29 6h0m7-8h0m18 2h0m3-2h0m61 5h0m20-4h0m-3 14h0m-2-5h0m-46 8h0m-25-2h0m-12 6h0m-27-5h0m-5 0h0m-48-2h0m-29 7h0m-15-10h0m-2 8h0m-41 3h0m36 6h0m55 3h0m37 0h0m0-8h0m88 16h0m-128 0h0m-62 0h0m-5 3h0m-28 4h0m69 6h0m89-3h0m23-4h0m28 5h0m-145 9h0m-10 9h0m74 1h0m65 19h0m-37 1h0m0-1h0m-15-5h0m-80 4h0m-3-2h0m-17 0h0m-5-1h0m10 13h0m66 6h0m40-6h0m5-2h0m44 5h0m-28 12h0m-38-1h0m-27-5h0m57 16h0m3 1h0"/><path class="c3" d="M537 722h0m28-1h0m4 0h0m3 46h0m-143-2h0m112 3h0m19 19h0m-30-2h0m-8 2h0m-83 2h0m-55 1h0m-12-5h0m-7 18h0m68-2h0m-18 22h0m-1 26h0m52-5h0m5 3h0m17 1h0m30 5h0m-134 0h0m-40 23h0m156-11h0m-10 18h0m-73 1h0m-6 5h0m61 1h0m28 24h0m16 8h0"/><path class="c2" d="M564 736h0m-53 11h0m46 17h0m-13-1h0m-28 4h0m-11-5h0m49 36h0m-206 9h0m30 21h0m177 8h0m-28 8h0"/><path class="c7" d="M526 723h0m12 29h0m-145 26h0m84-2h0m46-1h0m-115 6h0m-26 20h0m79-6h0m51 2h0m21 14h0m10 5h0m-48 21h0m-101-7h0m-33 7h0m141 21h0m-114 1h0m65 27h0m66 13h0m-59 22h0m46 1h0"/><path class="c1" d="M529 744h0m19 35h0m-126 55h0m-24 5h0m-63 13h0m109 17h0m-16 45h0"/><path class="c4" d="M518 729h0m0-2h0m19 1h0m-4 8h0m-61 13h0m25 6h0m51 0h0m4 0h0m0-4h0m37-1h0m-99 10h0m-9-2h0m-11-2h0m-19 12h0m-53 8h0m14-2h0m26-5h0m18 1h0m0 4h0m72 4h0m34-7h0m2-2h0m-7 13h0m-48 9h0m-19 0h0m-24-11h0m-28 4h0m-7 4h0m-7 1h0m-50-9h0m-21 14h0m58 5h0m9 1h0m-79 8h0m-2-1h0m16 13h0m16-4h0m5 2h0m65-2h0m123 0h0m5 0h0m4 8h0m-207 12h0m-28-4h0m-11 13h0m4-5h0m70 2h0m104 12h0m-90-2h0m-7 8h0m-33 1h0m-24 0h0m-19-1h0m129 13h0m3 1h0m16-6h0m36 14h0m-89 6h0m-8-5h0m-28 4h0m4 9h0m13-2h0m30-3h0m11 5h0m50-3h0m24 13h0m-59 0h0m-16-4h0m54 22h0"/><path class="c3" d="M555 745h0m-63 15h0m-30 3h0m-13 2h0m92 8h0m49 4h0m-48 10h0m-7 1h0m-9-5h0m-134 8h0m30 12h0m6-7h0m11 5h0m32-6h0m15 4h0m91 6h0m-229 6h0m-6 4h0m172 10h0m-53 8h0m-90-4h0m-24 17h0m95-5h0m18 9h0m-49 12h0m-17 1h0m-50-9h0m76 22h0m28-6h0m47 14h0m-26-2h0m-27 0h0m-46 0h0m-18 3h0m0 9h0m149 8h0m-31 8h0m-46 10h0m60 9h0m-7 4h0"/><path class="c5" d="M555 718h0m-23 7h0m47 4h0m-2 11h0m-3 2h0m-9-5h0m-31 6h0m-61 11h0m18-8h0m9 0h0m39-2h0m21 10h0m13 4h0m-39 3h0m-40 7h0m-32-3h0m-24 0h0m-23 6h0m21 6h0m18-2h0m11 0h0m64 5h0m42-5h0m7 6h0m-99 6h0m-53 0h0m-33-4h0m-52 14h0m57 4h0m9-4h0m28 0h0m87 1h0m29-1h0m20 4h0m14 0h0m-13 6h0m-43-3h0m-2 8h0m-60-6h0m-10 7h0m-36-8h0m-11 4h0m-21 0h0m-48-2h0m-1 16h0m23 1h0m32-5h0m4 5h0m18-6h0m56 8h0m79-8h0m27 0h0m-23 15h0m-11-4h0m-59 1h0m-77-1h0m-60 4h0m-13 8h0m92 8h0m35-4h0m27-4h0m-36 15h0m-2-2h0m-22-1h0m-64 10h0m-11 0h0m-26-6h0m19 10h0m30 5h0m12-6h0m73 10h0m36-3h0m18-2h0m4-6h0m-98 23h0m-20 0h0m12 2h0m29 2h0m15 8h0m15-1h0m1-1h0m39-1h0m4-8h0m2 15h0m-11 8h0m-6-10h0m-22 3h0m-81-3h0m12 11h0m4 4h0m52-4h0m18 3h0m5 7h0m2-1h0m34-6h0"/><path class="c2" d="M527 738h0m3 21h0m-88 22h0m124 30h0m-40-5h0m-96 41h0m97 2h0m14-9h0m-200 22h0m32 16h0m135 26h0m-92 7h0"/><path class="c6" d="M522 729h0m36-4h0m1 17h0m-32 8h0m28 5h0m14 6h0m-83 7h0m-19-11h0m-47 6h0m-10 3h0m-14 1h0m-15 10h0m66 0h0m17 0h0m119 12h0m-112-8h0m-105 0h0m-7 4h0m-13 10h0m11 2h0m19 1h0m39-4h0m33 7h0m82-7h0m36 0h0m10 17h0m-60 3h0m-27-8h0m-1 6h0m-109 3h0m-13 2h0m118 8h0m21-9h0m11 5h0m36 8h0m-7 10h0m-48-5h0m-34 4h0m-5 0h0m-6-1h0m-7-3h0m-59-3h0m-52 0h0m6 18h0m33-6h0m5-1h0m7 4h0m7 3h0m34-8h0m15 8h0m14 3h0m38-2h0m30-6h0m16-3h0m-25 18h0m-147 12h0m153 16h0m-31-10h0m-25 5h0m-58-4h0m-3 16h0m76 4h0m-74 9h0m106 9h0m-6 23h0"/><path class="c5" d="M535 724h0m32 6h0m5-4h0m-19 8h0m-15 7h0m-8 2h0m-20-7h0m-21 13h0m41 5h0m64 8h0m-45-2h0m-54 3h0m-23-2h0m-18 0h0m-6 13h0m3 4h0m7-8h0m17 4h0m4-4h0m5 5h0m68 7h0m-34 1h0m-58 2h0m-20 2h0m-21-4h0m-4-3h0m-3 4h0m-60 12h0m15 0h0m15 3h0m26 5h0m7 0h0m67-5h0m14-5h0m55 0h0m11 17h0m-23-3h0m-20-1h0m-75 9h0m-22-2h0m-17-3h0m-21 1h0m-3-6h0m-12 4h0m-32 2h0m-5 2h0m25 4h0m34 7h0m60 0h0m12-7h0m3 5h0m22-3h0m37 7h0m13-2h0m22 7h0m-9 2h0m-30 5h0m-9-3h0m-113-6h0m-56 11h0m14 5h0m64 4h0m28-4h0m7 4h0m42-6h0m0 8h0m-56 5h0m-9 3h0m-41-7h0m-3 6h0m-36-4h0m-12 3h0m-15-4h0m36 10h0m40 1h0m3 3h0m28 5h0m7-3h0m48 16h0m-54 0h0m-19 12h0m92 6h0m-26 6h0m-43 1h0m-14 1h0m101 13h0"/><path class="c6" d="M557 739h0m-37 2h0m-5 4h0m0 5h0m44-2h0m37 13h0m-37 1h0m-72-6h0m-9 7h0m-55 4h0m77 9h0m17 1h0m14 2h0m35-3h0m14 0h0m0 6h0m-6 2h0m-10 0h0m-18-3h0m-8 5h0m-26-3h0m-2 1h0m-99 19h0m5-4h0m129-1h0m16-4h0m-78 15h0m-8 5h0m-39-3h0m-77 14h0m58-1h0m57-5h0m13-2h0m36 11h0m17 3h0m-21 1h0m-8-4h0m-9 2h0m-60-1h0m-30 7h0m-39-4h0m-24 18h0m54-5h0m108-4h0m36 1h0m-36 12h0m-28 10h0m-13-11h0m-48 7h0m-15-8h0m-61 20h0m10-4h0m134-2h0m2 11h0m-17 0h0m-53 9h0m-24-1h0m-29 2h0m49 10h0m1-5h0m6 3h0m95-3h0m-50 16h0m-9-6h0m-8 10h0m-32-10h0m-8 2h0m93 12h0m-3 11h0m-27-2h0"/><path class="c1" d="M539 719h0m42 35h0m-21 21h0m-119 20h0m20 14h0m-8 37h0m-75 13h0m-39 6h0m168 19h0m-108-3h0m116 34h0"/><path class="c2" d="M446 771h0m133 37h0m-24 7h0m-103 7h0m-38 9h0m66 15h0m52-5h0m-129 14h0m81 20h0m-49 29h0m-31 11h0"/><path class="c0" d="M578 758h0m-226 61h0m157 32h0"/><path class="c4" d="M520 726h0m52 9h0m-35 0h0m-61 14h0m9-3h0m52 3h0m26-4h0m9 6h0m10 7h0m-159 11h0m4 9h0m13-4h0m60-5h0m36 4h0m26 6h0m25 6h0m-65 6h0m-4-5h0m-11-1h0m-7-3h0m-125 8h0m109 11h0m0-8h0m43 8h0m14-4h0m-48 17h0m-122 12h0m104-5h0m15-4h0m18 2h0m26 6h0m12-8h0m9 1h0m5-1h0m-35 18h0m-17 4h0m-139 0h0m-32-9h0m60 18h0m8-3h0m37 7h0m-85 23h0m82-2h0m11 0h0m24 12h0m-17 0h0m-63-7h0m131 30h0m-46-1h0m-43 4h0"/><path class="c7" d="M380 796h0m179 11h0m-166 5h0m87 10h0m-104 13h0m47 9h0m22 4h0m52 12h0m-60 12h0m34 14h0m-68 12h0"/><path class="c3" d="M517 752h0m-15 12h0m-62-1h0m-51 11h0m54-6h0m31 9h0m8-2h0m9-4h0m65 16h0m-12 1h0m-59-6h0m-62 12h0m47 8h0m7-8h0m79-2h0m21 0h0m-59 24h0m-12-8h0m-22 6h0m-96-2h0m9 8h0m169 6h0m-15 13h0m-72-11h0m-100 10h0m-47-6h0m54 9h0m60 2h0m75 17h0m-170 9h0m14 7h0m62-2h0m24-5h0m15-3h0m29 1h0m2 4h0m13-6h0m-94 28h0m67 6h0m11 7h0m-72-2h0m-1 6h0m-15-9h0m-2 15h0m7 0h0m30 6h0m4-2h0"/><path class="c7" d="M564 725h0m-22 12h0m-22 11h0m-23 54h0m-133 6h0m5 18h0m12 1h0m148-9h0m-160 16h0m-37 17h0m47-10h0m89-1h0m-143 17h0m59 21h0m132 56h0"/><path class="c6" d="M545 719h0m0 4h0m5 7h0m46 11h0m-27-4h0m-44 2h0m-15-7h0m-9 1h0m63 14h0m2 6h0m33 3h0m-23 10h0m-26-8h0m-36 9h0m-30 1h0m-12-3h0m-67 10h0m103-2h0m9 0h0m59 6h0m2-8h0m2 4h0m-136 9h0m-51 3h0m-38 1h0m-8 4h0m-8 9h0m51 2h0m4-1h0m63-3h0m41 0h0m40 3h0m48 10h0m-55 0h0m-9-5h0m-59-1h0m-58 20h0m30-2h0m125 2h0m10 2h0m-54 6h0m-23 1h0m-54 4h0m-45-6h0m-7 2h0m-44-7h0m-2 16h0m23 1h0m108 19h0m-77-7h0m-24 6h0m3 3h0m35 1h0m8 2h0m1-4h0m61 10h0m27-10h0m-6 22h0m-116 0h0m-27-7h0m112 21h0m12 16h0m29 5h0"/><path class="c1" d="M597 765h0m-110-4h0m-59 40h0m77 12h0m-135-4h0m15 10h0m150 12h0m-97 2h0m-93 16h0m185-5h0m-182 18h0m44 8h0m19 13h0m19 7h0"/><path class="c0" d="M369 807h0m148 30h0m-117 21h0m-34 6h0"/><path class="c3" d="M507 729h0m79 13h0m-70-7h0m46 15h0m5-2h0m17 13h0m-62 6h0m-68-10h0m-25 15h0m3 7h0m11-3h0m111-1h0m24-3h0m8 0h0m-85 9h0m-2 8h0m-43 1h0m-87-4h0m62 7h0m68 7h0m35 1h0m43 1h0m-87 9h0m-62 4h0m-13-6h0m-80 0h0m-5 1h0m32 18h0m38-10h0m2 2h0m93 2h0m38-4h0m12 3h0m22 1h0m7-6h0m-66 16h0m-172 4h0m-4 9h0m85-2h0m102 5h0m-34 7h0m-18 8h0m-23-4h0m-97-1h0m7 8h0m17 7h0m75 12h0m-61 3h0m102 0h0m10 7h0m4 1h0m2-2h0m-57 17h0m-6-10h0m-43 3h0m72 14h0"/><path class="c5" d="M559 717h0m-50 13h0m35-9h0m8 3h0m37 19h0m-25-2h0m-25-5h0m-59 10h0m54-1h0m51 8h0m-59 5h0m-18 9h0m-6-9h0m-40 1h0m-34 3h0m-37 11h0m24 0h0m114-5h0m48 20h0m-7-3h0m-20 1h0m-56 3h0m-10 2h0m-93-5h0m-11 4h0m-29 4h0m12 1h0m15 7h0m108-1h0m35 0h0m6-2h0m59 0h0m3-1h0m-17 15h0m-127 0h0m-49 0h0m-50-4h0m15 12h0m14 6h0m12-5h0m28 2h0m5-2h0m59 3h0m16-9h0m7 9h0m35-8h0m-89 21h0m-12 1h0m-91 0h0m53 7h0m6 5h0m32-10h0m9 4h0m34-2h0m34 17h0m-11 3h0m-9 0h0m-19-5h0m-4 3h0m-113-5h0m-11-1h0m20 19h0m35-8h0m1 10h0m18-5h0m30-7h0m10 7h0m13 1h0m13 7h0m-48 7h0m-5-3h0m-9-4h0m-8-1h0m-8 2h0m-33 3h0m5 7h0m48 2h0m66-2h0m27 9h0m-75 5h0m-18 14h0m10 2h0m4-6h0m85-2h0m-46 14h0"/><path class="c2" d="M467 753h0m129-5h0m-126 21h0m-20 18h0m37 46h0m-78 39h0m74 23h0m19 33h0"/><path class="c4" d="M513 729h0m34 6h0m-21 7h0m-7-4h0m-2 6h0m60 5h0m-10 15h0m-23-8h0m-42 6h0m-82 17h0m13-6h0m36-1h0m-38 9h0m-56 12h0m12 9h0m15-1h0m89 1h0m19-9h0m1 8h0m36 0h0m25-2h0m-65 15h0m-52-4h0m-75 1h0m-35 12h0m4 3h0m1-9h0m17 5h0m47-5h0m19 3h0m10 5h0m40-8h0m20 3h0m27 0h0m-26 12h0m-6 4h0m-44-6h0m-3 3h0m-28 3h0m-98-5h0m-3 5h0m18 4h0m109 2h0m75-1h0m-37 21h0m-25-5h0m-23-2h0m-3 4h0m-109 7h0m36 6h0m153 1h0m-6 10h0m-66 4h0m-13-8h0m-3 5h0m-19-6h0m-45 6h0m106 6h0m2 4h0m6-5h0m-3 21h0m30 5h0m17 17h0m-16 3h0"/><path class="c0" d="M359 811h0"/><path class="c5" d="M552 715h0m-2 1h0m-5 12h0m44 11h0m-34 2h0m-50-3h0m-28 16h0m4-8h0m28 9h0m39-9h0m46 1h0m-31 19h0m-54 2h0m-10-1h0m-53-5h0m-30 4h0m-27 12h0m10-10h0m112 6h0m14 6h0m47 9h0m-5-7h0m-3 7h0m-97-2h0m-10-3h0m-1 2h0m-40 5h0m22 5h0m25 0h0m2-3h0m8 8h0m2-3h0m45-3h0m17 4h0m0-4h0m25 2h0m4 6h0m9-8h0m3 17h0m-12-5h0m-3 5h0m-2-6h0m-46 2h0m-21-2h0m-100 2h0m-11-1h0m-5 4h0m-23 4h0m-10 4h0m210 2h0m-67 17h0m-28-7h0m-20 0h0m-7-3h0m-2 3h0m-47-2h0m-10 9h0m-22 2h0m-32 2h0m17 4h0m12-3h0m0 1h0m4 5h0m34-3h0m25-4h0m2 4h0m18-1h0m52 5h0m32-2h0m-28 5h0m-9 5h0m-5-5h0m-5 6h0m-29 3h0m-15-7h0m-2 2h0m-57-2h0m20 19h0m1-8h0m36-1h0m68 6h0m15 3h0m-70 7h0m-56-4h0m-13 13h0m26 5h0m8-6h0m31 10h0m20-4h0m60 5h0m-23 7h0m-35-3h0m19 8h0m15 8h0m39 2h0m-15 2h0"/><path class="c1" d="M550 780h0m-71 9h0m71 36h0m-13 7h0m-117 20h0m49 20h0"/><path class="c6" d="M541 725h0m9-1h0m38 6h0m-8 3h0m-68 17h0m22 5h0m26 2h0m-134 16h0m24-1h0m11 1h0m66 2h0m62-1h0m-183 14h0m-7 1h0m-53 13h0m23 0h0m32-9h0m26 2h0m17 7h0m48-5h0m63 5h0m15 9h0m-131 4h0m-105-9h0m-1 19h0m42-5h0m58 7h0m11-1h0m25-9h0m79 6h0m-122 5h0m-60 12h0m-7 3h0m0 6h0m40 1h0m59-3h0m75 3h0m-59 13h0m-23-1h0m-20 2h0m-4-7h0m-38 4h0m-21-8h0m-11 10h0m-13-7h0m86 13h0m48-2h0m33 17h0m-23-2h0m-7-6h0m-24 1h0m-10 6h0m-3-4h0m-57 13h0m21 5h0m45 3h0m26 0h0m9 1h0m-16 3h0m-8 4h0m29 19h0m-6 3h0"/><path class="c7" d="M538 758h0m-55 10h0m-2-7h0m69 9h0m20 7h0m-75 6h0m-108 8h0m71 12h0m49 0h0m71-4h0m-214 6h0m84 26h0m-41 11h0m86 3h0m-7 11h0m-25 3h0m-5 3h0m1 6h0m61 14h0m-21-1h0m-111 3h0m130 5h0m-76 20h0"/><path class="c4" d="M536 725h0m45 0h0m-12 17h0m-56 2h0m-21 10h0m5-3h0m78 5h0m-22 2h0m-12 6h0m-15 2h0m-106 1h0m-34 12h0m45-10h0m32 1h0m32 7h0m2-7h0m22 8h0m12-3h0m24 14h0m-6 2h0m-37 0h0m-38-1h0m-8-3h0m-17 2h0m-68-2h0m24 6h0m8 8h0m4-6h0m108 17h0m-37-1h0m-54 2h0m-8-3h0m-5 0h0m-16 3h0m3 10h0m96 4h0m60-6h0m-16 8h0m-20 8h0m-54-5h0m-52-3h0m-39 3h0m-56-1h0m110 17h0m37-3h0m2 5h0m17 4h0m-46 8h0m-14-9h0m-87 11h0m24 12h0m36-3h0m29-3h0m44 12h0m-26-4h0m-34 10h0m-67-10h0m19 11h0m53 3h0m40 2h0m3 15h0m-36-7h0m-12 5h0m62 16h0m37-3h0m-29 14h0m-11-5h0m23 7h0m8 3h0"/><path class="c2" d="M592 737h0m-68 17h0m-177 44h0m44 1h0m80 7h0m-46 15h0m70 10h0m-81 44h0m34 17h0m22 5h0m10-5h0m18 30h0m16 12h0"/><path class="c3" d="M530 731h0m62 2h0m-7 2h0m-86 7h0m88 19h0m-25-2h0m-11 3h0m-17-5h0m-80 21h0m4 0h0m35-5h0m-39 15h0m-83 8h0m17 3h0m39-3h0m41 3h0m31 16h0m-20-3h0m-150 1h0m24 14h0m25-4h0m95 0h0m52-1h0m51-2h0m-46 19h0m-167 10h0m60-7h0m97 12h0m-88 2h0m-110 1h0m11 14h0m28-1h0m115-1h0m36 7h0m-158 5h0m95 8h0m15 4h0m33 38h0m-27-5h0m45 11h0"/><path class="c6" d="M408 869h0m112 41h0m-47-2h0m50 22h0"/><path class="c1" d="M413 913h0m100 15h0"/><path class="c4" d="M499 855h0m-77 15h0m15 8h0m-30 7h0m-13 1h0m5 7h0m1 4h0m94-2h0m33 1h0m-9 10h0m-77 0h0m-25-2h0m33 10h0"/><path class="c0" d="M516 849h0m-66 26h0m22-2h0m-7 6h0m-5 25h0m50 9h0"/><path class="c5" d="M476 853h0m3 19h0m15-1h0m22 3h0m-1 8h0m-67-3h0m-32 6h0m43 10h0m2 2h0m51 0h0m11 0h0m6 12h0m-13 2h0m-33-10h0m-60 12h0m19 8h0m16 1h0m30-6h0"/><path class="c3" d="M522 856h0m-41 0h0m-56 7h0m77 2h0m14 21h0m-11-2h0m-18-4h0m-78 13h0m53 5h0m46-3h0m-2 10h0m-3 6h0m-32-9h0m-34 14h0m38-3h0m37 6h0"/><path class="c2" d="M500 862h0m-20-7h0m-73 11h0m49 7h0m25 12h0m-66 3h0m113 19h0m-7 20h0"/><path class="c5" d="M525 850h0m-53 11h0m-6-4h0m-33 6h0m-11 13h0m5-1h0m51-2h0m9-8h0m21 12h0m-4 4h0m-29-1h0m-13 4h0m-13 3h0m-15-1h0m-30 1h0m-5 1h0m52 9h0m25-2h0m21 10h0m-9-2h0m-85 14h0m100 1h0m3 10h0m-25 2h0m31 9h0"/><path class="c3" d="M431 862h0m-25 14h0m78-4h0m12-4h0m9-2h0m-58 17h0m-5 11h0m28 1h0m2-6h0m29 1h0m15 11h0m0 4h0m-8 5h0m-27-9h0m-34 9h0m5 7h0m9 1h0m3-3h0"/><path class="c0" d="M430 886h0m-11 5h0m1 6h0m3 8h0m67 29h0"/><path class="c4" d="M412 870h0m15 1h0m74 2h0m17-2h0m-5 15h0m-42-7h0m-9 0h0m-18 8h0m-29-6h0m-11 14h0m18-1h0m1-5h0m45-1h0m12 4h0m-5 12h0m-28 2h0m-41 13h0m3-4h0m75 8h0m17 1h0m1 6h0"/><path class="c1" d="M474 861h0m-44 9h0m47 13h0m-82 8h0m92 33h0m27 5h0"/><path class="c6" d="M506 857h0m-50 2h0m12 29h0m-36 13h0"/><path class="c2" d="M488 849h0m11-1h0m22 4h0m-69 9h0m-7 2h0m-9-3h0m-28 15h0m23-9h0m70 16h0m-32-1h0m-16 14h0m46 13h0m-1-6h0m-83 3h0m12 12h0m44-4h0m50 3h0"/><path class="c4" d="M521 847h0m7 6h0m-55 1h0m-3 15h0m12-3h0m15 6h0m24 11h0m-38 0h0m-27-4h0m-45 3h0m4 16h0m75 11h0m-10 3h0m-73-10h0m8 15h0m2-4h0m10 0h0m43 5h0m8-5h0m9 1h0m8 19h0"/><path class="c6" d="M493 856h0m-3 31h0m-77-1h0m41 19h0"/><path class="c1" d="M513 860h0m-2 21h0m-57-2h0m6 11h0m19 9h0m10-8h0m-3 17h0m10 7h0"/><path class="c5" d="M461 859h0m-42 14h0m91 0h0m-27 7h0m-41 1h0m-16 7h0m88 12h0m-79 11h0m-15 7h0m13-4h0m60-1h0m-9 11h0"/><path class="c3" d="M492 849h0m14 3h0m-70 18h0m20-1h0m13 6h0m9-10h0m17 8h0m-3 9h0m-54 0h0m-31 8h0m38 2h0m9-3h0m23 2h0m43-2h0m8 19h0m-74 7h0m26 2h0"/><path class="c0" d="M488 856h0m-74 16h0m-10 27h0m45 7h0m-17-1h0m-17 7h0m108 11h0"/><path class="c2" d="M451 857h0m53 20h0m-25 3h0m-46 1h0m-26 13h0m21-5h0m84 0h0m-107 20h0m103 9h0m7 3h0m2 6h0"/><path class="c4" d="M508 846h0m1 5h0m-23 9h0m-63 5h0m88 14h0m-21 0h0m-27 17h0m8 4h0m14-7h0m3 2h0m23 1h0m1 16h0m-19-9h0m-14 3h0m-30-4h0m-45 8h0m1 6h0m100 6h0m-8 14h0"/><path class="c2" d="M490 858h0m8 24h0m-77 6h0m-8-8h0m-7-3h0m89 23h0m29-9h0m-23 11h0m-8 2h0m-53 7h0m-35-6h0m68 15h0m10-6h0m13 17h0"/><path class="c0" d="M518 847h0m-11 43h0m-12 28h0m9 9h0"/><path class="c3" d="M497 849h0m4 2h0m2 2h0m-8 9h0m-37-7h0m-59 20h0m14-9h0m50-1h0m0 7h0m4-1h0m42-4h0m13 19h0m-48-3h0m-46-6h0m-18 22h0m14-5h0m23 3h0m36 1h0m-36 18h0m2 1h0m71 6h0m5-8h0m-24 25h0m5-3h0"/><path class="c6" d="M509 885h0m-75 32h0"/><path class="c1" d="M486 861h0m-71 17h0m42 24h0m70 16h0"/><path class="c5" d="M520 856h0m-10 6h0m-53 0h0m-39 2h0m97 3h0m-16 19h0m-47-3h0m-28-5h0m-19 11h0m21 11h0m55-9h0m5 14h0m-10 5h0m-66-10h0m-1 6h0m1 11h0m49 2h0m52 5h0m-4 7h0m-6-5h0"/><path class="c1" d="M438 876h0m18-11h0m67 42h0m-12 0h0m-51 5h0m-61-10h0m103 12h0m-12 16h0"/><path class="c5" d="M509 854h0m-59 7h0m-45 7h0m72 3h0m5 3h0m13 11h0m-64 15h0m18-10h0m3 13h0"/><path class="c2" d="M504 847h0m-73 26h0m-14 10h0m-13-2h0m30 8h0m54 10h0m10-3h0m26 5h0m-53 24h0"/><path class="c4" d="M514 861h0m-16-2h0m-38 2h0m12 26h0m-38-9h0m-37 7h0m45 5h0m50 1h0m26 2h0m-117 13h0m79 15h0m30 12h0m-15 4h0"/><path class="c3" d="M514 845h0m-23 15h0m-12 3h0m-23 24h0m-3-1h0m-25-3h0m-27 0h0m14 10h0m99-3h0m7 12h0m-7 1h0m-50 2h0m-14 18h0"/><path class="c6" d="M472 868h0m28 12h0m-61 13h0m65 22h0"/><path class="c5" d="M502 857h0m-41 16h0m29-4h0m1 4h0m-41 20h0m71 5h0m-96 12h0m6 8h0m82-4h0m-4 16h0"/><path class="c0" d="M506 870h0m-33 38h0m-28 0h0m-19-5h0"/><path class="c4" d="M515 863h0m-47-5h0m-27 7h0m1 10h0m2-4h0m4 0h0m58 2h0m15-8h0m-45 22h0m-15-2h0m-19-8h0m-2 10h0m-36-9h0m36 21h0m61 9h0m-89 1h0m28 10h0m1-4h0m14 7h0m6-8h0m59-1h0m-4 22h0m-30-5h0"/><path class="c1" d="M461 869h0m-40 34h0m48 19h0"/><path class="c2" d="M437 865h0m70 32h0m16-4h0m-14 9h0m-72 3h0m-20 1h0m101 12h0"/><path class="c3" d="M415 873h0m14-8h0m67 11h0m-11 12h0m-17 8h0m29-5h0m5 5h0m-36 4h0m0 10h0m-14 1h0m-9-10h0m-4 1h0m-10 8h0m-27-6h0m42 16h0m49 3h0m18 13h0m-7-3h0m-16-5h0"/><path class="c6" d="M444 866h0m35 61h0"/><path class="c2" d="M466 861h0m-42 20h0m68 29h0m-56-6h0m-14 5h0m62 8h0"/><path class="c4" d="M477 859h0m-31 16h0m5-9h0m2 4h0m15-4h0m24-2h0m11 6h0m-43 12h0m-5 0h0m-21 12h0m19 2h0m21 1h0m-6 8h0m-5-4h0m-34 4h0m36 14h0m34-2h0m-3 9h0m-19 1h0"/><path class="c5" d="M518 855h0m-4-1h0m-11 7h0m-31-2h0m42 9h0m1 10h0m-21 19h0"/><path class="c3" d="M530 851h0m-20 9h0m-25-5h0m-47 8h0m-1 9h0m23-7h0m-41 14h0m5 18h0m4-5h0m9-3h0m0 8h0m26-7h0m41 4h0m-45 15h0m61 19h0"/><path class="c0" d="M524 846h0m-2 14h0m-58 62h0"/><path class="c1" d="M487 873h0m-4 34h0m-8 11h0m20 6h0"/><path class="c6" d="M444 922h0"/><path class="c0" d="M478 874h0m2 2h0m9-5h0m7-2h0m-1 12h0m-4-1h0m-9 1h0m-2 4h0m-1 1h0m-58-1h0m-17-3h0m1 11h0m0 1h0m5 5h0m2-8h0m1-3h0m3 8h0m4-2h0m63-4h0m7 4h0m6-6h0m-26 20h0m-17-1h0m-48-5h0m51 14h0m9-2h0m2 3h0m2 4h0m3-4h0m1-3h0"/><path class="c4" d="M418 928h0m-10 4h0m67 25h0m-5-5h0m-40 3h0m-3 4h0m34 22h0"/><path class="c2" d="M423 936h0"/><path class="c5" d="M415 918h0m14 4h0m46 10h0m-36-4h0m-25 16h0m26 4h0m22-1h0m-53 8h0m-2 8h0m20 9h0m7-1h0m-5 6h0m14 17h0"/><path class="c7" d="M460 931h0m-26-2h0m-41 10h0m26 1h0m46-2h0m9 10h0m-30 11h0m-27-6h0m-14-3h0m15 18h0m0-3h0m4 2h0m18-7h0m1 13h0m-6 5h0m-6 11h0"/><path class="c3" d="M429 929h0m-22 0h0m1 10h0m52 10h0m-30 2h0m8 29h0"/><path class="c6" d="M423 923h0m2 1h0m45 6h0m-24 5h0m-4-5h0m-10 1h0m-6 0h0m-28 4h0m-4 12h0m25-6h0m1-1h0m5-1h0m3 7h0m8 2h0m8-9h0m3 8h0m4-3h0m11-2h0m12 13h0m-3-6h0m-8 5h0m-3 5h0m-7-10h0m-2 8h0m-27 2h0m-12 1h0m-1-12h0m15 20h0m10 0h0m7-6h0m4 0h0m19 2h0m-7 15h0m-11 0h0m-25 2h0m-7-8h0m-5 0h0m19 12h0m3 7h0m4-2h0m3 6h0m2-9h0m3 1h0m6 5h0m4-1h0"/><path class="c3" d="M417 919h0m18 23h0m20 18h0m-24-11h0m-26 1h0m27 25h0"/><path class="c7" d="M417 931h0m27 15h0m5-5h0m13 11h0m-57 14h0m49 3h0m1-2h0m6-1h0m14-5h0"/><path class="c4" d="M441 936h0m-39-1h0m38 9h0m1-5h0m23 21h0m-4 2h0m-38 16h0"/><path class="c5" d="M413 931h0m3 14h0m35-8h0m9 2h0m13 18h0m-24-8h0m-2 2h0m-27 6h0m-23 2h0m5 6h0m29 0h0m26 7h0m-37 7h0"/><path class="c2" d="M423 930h0"/><path class="c6" d="M470 936h0m-8-3h0m-7 0h0m-20 2h0m-29-11h0m0 23h0m4-1h0m20 2h0m25-3h0m9 1h0m-6 9h0m-7-7h0m-7 6h0m-25-5h0m-17 10h0m8 6h0m17 1h0m2-5h0m20 7h0m-2 23h0m3-6h0"/><path class="c5" d="M410 921h0m44 4h0m15 17h0m6 10h0m-58 0h0m-4 3h0m-2 21h0"/><path class="c7" d="M431 935h0m-17-11h0m-6 34h0m-5-4h0m37 38h0"/><path class="c4" d="M455 940h0m-7 14h0m-12-4h0m32 12h0m-49 15h0m35 10h0m8 2h0"/><path class="c3" d="M474 929h0m-20-2h0m-14-2h0m-18 29h0m34 16h0m7-1h0m-11 8h0"/><path class="c6" d="M460 927h0m-2 9h0m-5-3h0m-30-6h0m11 11h0m12 7h0m6 10h0m-11 1h0m-4 3h0m-14 1h0m41 6h0m-28 17h0m18 1h0m8 8h0"/><path class="c4" d="M433 931h0m-19-5h0m-14 16h0m54-2h0m-21 20h0"/><path class="c2" d="M428 983h0m8 14h0"/><path class="c5" d="M450 931h0m-8-2h0m-25 6h0m46 37h0m-14 7h0m-25-6h0"/><path class="c7" d="M439 930h0m-30 11h0m63 3h0m-3 23h0m-35 28h0"/><path class="c3" d="M424 920h0m7 3h0m23 11h0m-26 1h0m-21-10h0m-4 5h0m76 24h0m-81-5h0m5 15h0m13-1h0m10-1h0m8 1h0m11 14h0m-3 7h0m16 6h0m0-3h0"/><path class="c2" d="M445 997h0"/><path class="c6" d="M418 922h0m-19 22h0m30 0h0m2-5h0m37 2h0m8-4h0m-49 16h0m-21 18h0m8-8h0m18 5h0m9 2h0m10-6h0m0-1h0m13 17h0m-9-8h0m-28 6h0m6 11h0m17 1h0m10-5h0"/><path class="c5" d="M448 925h0m-32 11h0m40 8h0m-44 8h0m-15-3h0m52 25h0m-2-1h0m-16 7h0m-5 3h0"/><path class="c4" d="M414 938h0m28 18h0m-33 15h0m35 0h0m-24 2h0"/><path class="c7" d="M398 941h0m59 3h0m-16 7h0m-46 2h0m41 19h0"/><path class="c3" d="M409 929h0m15 23h0m-3 16h0m2 15h0"/><path class="c6" d="M467 933h0m-4-5h0m-15-2h0m-2 1h0m-35 7h0m11 14h0m12-6h0m34 16h0m0-6h0m-33 1h0m-19 4h0m24 9h0m18-5h0m14 4h0m-14 12h0m-13 3h0m-4-1h0m-1-2h0m-9 14h0"/><path class="c4" d="M436 923h0m-12 21h0m46 9h0m-71 9h0m15 4h0m0 2h0m39 12h0"/><path class="c7" d="M402 938h0m-1 17h0m45 10h0"/><path class="c5" d="M466 931h0m-59 6h0m59 16h0m-27 31h0"/><path class="c2" d="M407 942h0"/><path class="c4" d="M455 999h0m-1 5h0m-2-4h0m11 14h0m3-1h0m3 4h0m9 7h0m-1-1h0m10 16h0m5-2h0m2 4h0m1-1h0"/><path class="c5" d="M461 1007h0m-5-2h0m-3 2h0m0-11h0m15 19h0m13 10h0m-3 5h0m-1-1h0m-1-6h0m-2 3h0m17 9h0m2 2h0"/><path class="c7" d="M458 1011h0m4-3h0m23 22h0m-7 0h0m-6-7h0m16 9h0m2 5h0"/><path class="c6" d="M447 995h0m2 0h0m12 11h0m-1-2h0m-7 0h0m0-6h0m-1 3h0m-1-4h0m0 1h0m11 15h0m3-3h0m2 5h0m2 2h0m1 1h0m1 0h0m10 9h0m-2-4h0m-5 5h0m11 5h0m4 4h0m3-1h0m10 6h0m-6 4h0"/><path class="c5" d="M442 992h0m1-3h0m0 1h0m1 1h0m0 3h0m3-4h0m2 0h0m5 4h0m2 5h0m-3 0h0"/><path class="c6" d="M444 991h0m2 5h0m3-3h0m4-2h0m4 10h0m-1 2h0m-8-5h0"/><path class="c4" d="M444 987h0m9 5h0"/><path class="c6" d="M524 1060h0m3-2h0m1 1h0m5 6h0m3 0h0m19 14h0m-2 1h0m-8 0h0m4 2h0"/><path class="c3" d="M536 1073h0"/><path class="c5" d="M526 1062h0m23 14h0m-3 3h0m-2-7h0m-4 4h0m-7-5h0m22 13h0"/><path class="c4" d="M525 1062h0m4 2h0m23 15h0m-2-4h0m-2 1h0m-8-1h0m-3-4h0m20 13h0"/><path class="c1" d="M521 1060h0m5-1h0m12 15h0"/><path class="c0" d="M518 1053h0"/><path class="c1" d="M513 1053h0"/><path class="c3" d="M515 1057h0"/><path class="c0" d="M524 1055h0m2 2h0"/><path class="c3" d="M575 720h0m6 5h0m7 6h0m5 12h0m-3-3h0m-1-3h0m-5-2h0m11 10h0m1 8h0m-15 45h0m4-5h0m6 22h0m-9-4h0"/><path class="c4" d="M573 728h0m22 16h0m3 21h0m-3-7h0m-2 8h0m-3 20h0m-3 1h0m-3 3h0"/><path class="c5" d="M580 726h0m6 5h0m7 4h0m-1 14h0m4 5h0m4-3h0m-6 15h0m-13 32h0m9 11h0m-2 3h0m0 2h0m3 4h0"/><path class="c0" d="M575 721h0m0 1h0m5 5h0m2 3h0m9 1h0m2 12h0m-1-6h0m-1 5h0m-1 0h0m-9-9h0m13 16h0m1 3h0m5 2h0m0 1h0m0-1h0m-3 11h0m-2-5h0m-2 6h0m-1-1h0m-2 14h0m2-2h0m1 1h0m3 1h0m0 1h0m-3 3h0m-2 1h0m0 3h0m-2-2h0m0-4h0m-8 19h0m1 2h0m1-4h0m1-5h0m0 7h0m2-8h0m3 6h0m0 8h0m-2 2h0m-2 6h0m1 3h0"/><path class="c3" d="M357 958h0m-2 0h0m-2 2h0m-2-3h0m1 6h0m8-1h0m4 0h0"/><path class="c1" d="M362 967h0m1-3h0"/><path class="c4" d="M361 959h0m-4-3h0m-4 9h0m3 1h0"/><path class="c0" d="M369 940h0m-5 14h0"/><path class="c3" d="M402 915h0m-19 49h0"/><path class="c1" d="M394 931h0"/><path class="c0" d="M395 953h0"/><path class="c4" d="M592 826h0"/><path class="c0" d="M601 828h0m-5 4h0m12 16h0"/><path class="c4" d="M612 840h0"/><path class="c0" d="M586 838h0"/><path class="c4" d="M594 842h0m-36 16h0"/><path class="c0" d="M551 862h0m9 10h0"/><path class="c5" d="M562 866h0"/><path class="c0" d="M566 880h0m-6 4h0"/><path class="c4" d="M545 861h0m-5 5h0"/><path class="c0" d="M573 861h0m-101 61h0m-7 8h0m1 38h0"/><path class="c2" d="M594 818h0m8 5h0m3-3h0m6-3h0m2-1h0m13 8h0m23 14h0m-14 1h0m-3-2h0m-3-5h0m0-3h0m13 15h0m7-3h0"/><path class="c5" d="M604 814h0m-7-2h0m-3-2h0m0 5h0m-4-8h0m0 9h0m11 1h0m12 1h0m7 8h0m14 2h0m21 9h0m-1 3h0m-2-2h0m-5-1h0m-3-3h0m-19-4h0m24 14h0m6 2h0"/><path class="c1" d="M597 820h0m32 16h0m-14-6h0m42 14h0"/><path class="c3" d="M601 810h0m-12 7h0m20 1h0m0 9h0m49 11h0m-15-1h0m-4 0h0m-2-2h0m-2 4h0m-1-5h0m-3-5h0m-8 3h0m-7-1h0m26 13h0m10-2h0m6 0h0m1-1h0"/><path class="c0" d="M602 813h0m-1-1h0m-2 0h0m-2 1h0m0 10h0m12 0h0m0-1h0m6 3h0m3 1h0m19 4h0m5 14h0m13 0h0m6 6h0m2-9h0m0 12h0"/><path class="c4" d="M600 812h0m6 5h0m6 5h0m2-1h0m5 5h0m36 12h0m-10-5h0m-3 5h0m-5-10h0m-2 7h0m-2 4h0m0 0h0m-6-3h0m-1-6h0m-2 5h0m24 8h0m3-3h0m11 6h0m3 4h0"/><path class="c0" d="M632 808h0m-20 2h0m-10-2h0m-10-2h0m48 12h0"/><path class="c4" d="M648 824h0"/><path class="c0" d="M726 812h0m-9-6h0m-4 0h0m-22 8h0m-35 6h0m34 2h0m3-4h0m40-1h0m8 1h0m2 4h0m7 10h0m-9-2h0m-57 8h0m-6 0h0m-10-2h0m-2-6h0m-6-2h0m-6 14h0m13 5h0m13 5h0m59-11h0m-6 19h0m-13 2h0m-35-3h0m-1-2h0m17 9h0m15 5h0m4-1h0"/><path class="c4" d="M676 852h0"/><path class="c2" d="M683 820h0m2 3h0m7 18h0m25 18h0m-37 0h0"/><path class="c1" d="M725 807h0m-39 22h0m1 20h0m35 3h0m-15 3h0m-37 2h0m46 17h0"/><path class="c3" d="M742 810h0m-5 1h0m-2 4h0m-1-4h0m-3-5h0m-29 3h0m-22 18h0m12-1h0m7-8h0m49 9h0m-65 9h0m-7-1h0m-5-1h0m3 7h0m16 9h0m15 1h0m30-5h0m-19 9h0m-42 8h0m32 7h0"/><path class="c2" d="M720 807h0m-32 20h0m35 47h0"/><path class="c4" d="M739 848h0m-25 19h0m6-1h0"/><path class="c1" d="M728 809h0m-19 4h0m-20 0h0m10 4h0m41 0h0m-61 15h0m-19 19h0m17-2h0m2 1h0m1-9h0m65 1h0m-68 13h0m11 9h0m24 10h0"/><path class="c0" d="M704 815h0m-17 0h0m48 3h0m6 5h0m-54 11h0m-21 5h0m20 7h0m9-4h0m16 18h0m-7-4h0m-11 1h0m-29-1h0m44 12h0m6 2h0"/><path class="c2" d="M738 819h0m2 41h0m-68-8h0m53 17h0m5 0h0"/><path class="c4" d="M719 814h0m10 4h0m-36 11h0m-9 13h0m24 29h0m19-4h0"/><path class="c1" d="M715 812h0m-33 13h0m66 0h0m-3 7h0m-84 12h0m2-4h0m22 8h0m9 0h0m5 13h0m-4-3h0m-9-4h0m-1 0h0m-2 10h0m10 2h0m8 6h0m18 2h0"/><path class="c3" d="M720 813h0m-30 26h0m-29 11h0m17-6h0m10 1h0m38 4h0m23-4h0m-15 10h0m-6-1h0m-19 10h0"/><path class="c0" d="M733 804h0m-9 4h0m-12 2h0m-6 2h0m-4 2h0m-18 11h0m52-3h0m9-5h0m7 11h0m-1 5h0m-2 6h0m-4-2h0m-61-4h0m-20 11h0m1 4h0m3 3h0m3-1h0m9-3h0m14-2h0m1 6h0m47-8h0m-4 15h0m-21-5h0m-3 4h0m-6 2h0m-3 3h0m-9 0h0m-18-1h0m0 2h0m-7-4h0m16 8h0m6-2h0"/><path class="c2" d="M690 830h0m-16 8h0m-2 8h0m69 9h0m-15 8h0m-27-8h0m26 11h0"/><path class="c4" d="M728 812h0m9 46h0m-17-2h0m-3 9h0"/><path class="c1" d="M736 809h0m-6 1h0m-16-2h0m-26 11h0m51 9h0m7 6h0m-8 5h0m-72 2h0m58 15h0m-27-2h0m1 13h0"/><path class="c3" d="M696 813h0m29 3h0m22 4h0m-6 8h0m-2 7h0m-70 7h0m18-1h0m3 10h0m39 1h0m10-7h0m6 8h0m-19 6h0m-16-5h0m-42 6h0m20 8h0"/><path class="c4" d="M707 810h0m3 58h0"/><path class="c0" d="M744 813h0m-15 3h0m-17-5h0m-30 20h0m-23 17h0m7 4h0m35-3h0m2 2h0m29 0h0m2 0h0m8-4h0m-2 6h0m-18 5h0m-3 0h0m-5 5h0m-13-4h0m-21-3h0m-13 0h0m15 10h0"/><path class="c1" d="M708 850h0m25 0h0m12-3h0m0-3h0m-10 20h0m-40-4h0m-4 0h0m39 6h0"/><path class="c2" d="M722 803h0m-28 14h0m49 16h0m-65 3h0m50 14h0m0 13h0m-9-10h0m-20 11h0"/><path class="c5" d="M671 849h0m16 14h0m-13-5h0m-4-5h0m-3 6h0m59 8h0"/><path class="c4" d="M666 848h0m27 11h0m-8 3h0m-5 2h0m-16-7h0m16 8h0m6 2h0m8 0h0m5 7h0m5-9h0m10 8h0m9-5h0"/><path class="c1" d="M663 852h0m33 10h0m-12-1h0m-9-6h0m-3 1h0m-13-4h0m51 13h0m1 5h0m9 0h0m7 0h0m4 1h0"/><path class="c3" d="M699 862h0m-7-1h0m-18 3h0m0-11h0m-3 9h0m-2-3h0m-2-3h0m-3-3h0m-2 6h0m16 6h0m17 7h0m10-3h0m1 3h0m3-3h0m1 4h0m3-6h0m3 4h0m1-3h0m1 6h0m6-3h0"/><path class="c2" d="M664 848h0m40 16h0m-14-5h0m-7-2h0m-2 4h0m-2-4h0m0 2h0m10 6h0m6 5h0m2-5h0m2 5h0m2 4h0m6-7h0m16 5h0"/><path class="c0" d="M704 826h0m8 6h0"/><path class="c4" d="M718 830h0"/><path class="c0" d="M724 836h0m-18 4h0m9 3h0"/><path class="c1" d="M711 780h0m-1 1h0m-8-1h0m-2 3h0m-1 4h0m-3 0h0m0-3h0m0 2h0m-1-2h0m0 7h0m-3 0h0m-11 3h0m1 2h0m3-4h0m4 0h0m11 38h0m21 12h0"/><path class="c3" d="M704 779h0m6-3h0m6 3h0m-13 5h0m0 1h0m-26 8h0m3 0h0m2 0h0"/><path class="c2" d="M713 780h0m2-5h0m-5 7h0m-2-1h0m-2 0h0m-2 0h0m-9 7h0m-15 10h0m3-6h0m2 2h0m3-2h0"/><path class="c0" d="M777 743h0m-23 13h0m5-5h0m3 4h0m0-6h0m2 6h0m0-5h0m1 0h0m1 3h0m0 0h0m1-6h0m1 4h0m1-3h0m0-2h0m0 6h0m2-7h0m3-1h0m0 4h0m-18 9h0m-1 3h0m-3-4h0m-1 4h0m-2-4h0m-1 4h0m-1 4h0m-5-1h0m-2-2h0m-1 3h0m-4 3h0m0-2h0m0-3h0m-1 4h0m-7 1h0m-3 6h0m3-5h0m1 3h0"/><path class="c3" d="M764 748h0m-12 13h0m-20 2h0"/><path class="c1" d="M765 752h0m9-5h0m-22 13h0m-5 2h0m-5 0h0m-6 1h0"/><path class="c0" d="M843 682h0m21 1h0m3-5h0m-9 11h0m-18 2h0m-5-2h0m-18-1h0m-10 9h0m7 2h0m6 9h0m23-8h0m12 0h0m3-4h0m-21 14h0m-38 6h0m-16 15h0m4-8h0m3 0h0"/><path class="c4" d="M862 668h0m10 16h0m-24 9h0m-24-2h0m-5 0h0m9 14h0m23 6h0m-46 0h0"/><path class="c1" d="M869 675h0m-58 23h0m16 10h0m-34 2h0m20 10h0m-34 21h0"/><path class="c2" d="M850 676h0m-9 29h0m-9 9h0m-32-3h0m-23 34h0"/><path class="c3" d="M829 681h0m31-4h0m8 14h0m-45 13h0m0-3h0"/><path class="c4" d="M866 671h0m-28 7h0m17 2h0m17 2h0m-15 9h0m0-5h0m-15 1h0m-12 0h0m7 30h0m-20-1h0m-6 3h0m-17 3h0"/><path class="c2" d="M802 713h0m-11 4h0"/><path class="c3" d="M860 671h0m-29 12h0m6 13h0m9 6h0m2-6h0m-65 40h0"/><path class="c5" d="M831 717h0m-27 5h0"/><path class="c0" d="M868 666h0m-13 4h0m0-2h0m-11 9h0m20 15h0m-13-4h0m-4-1h0m-16 4h0m-24 2h0m0 9h0m52 3h0m-13 6h0m-54 2h0m-5 18h0m12-1h0m0-10h0m-7 17h0m-5 3h0"/><path class="c1" d="M802 699h0m28 1h0m0 7h0m10 5h0m-46-1h0m-19 35h0"/><path class="c3" d="M818 684h0m6-2h0m38 4h0m-71 21h0m4-4h0m16 4h0m5-6h0m7-3h0m40 2h0m-40 13h0m-14 9h0m-10 11h0m-13 9h0"/><path class="c0" d="M843 684h0m6-7h0m9 4h0m11 3h0m-17 8h0m-30 2h0m-2-5h0m-22 17h0m17-9h0m8 8h0m29 1h0m6-1h0m3-4h0m-26 14h0m-1-3h0m-7 3h0m-12-6h0m-2 0h0m-16 3h0m-1 4h0m-15 12h0m-4 15h0"/><path class="c4" d="M854 695h0m-27 17h0m-18-1h0m-21 2h0m-1 5h0m-8 24h0"/><path class="c1" d="M841 695h0m6 11h0m-53 18h0"/><path class="c2" d="M870 671h0m-7 13h0m-37 5h0m-17 27h0m-27 22h0"/><path class="c4" d="M861 696h0m-56 0h0m28 7h0m2 2h0m4-6h0m2 10h0m-22 7h0"/><path class="c0" d="M838 681h0m1 2h0m8-9h0m3 2h0m13 12h0m-58 11h0m2 8h0m10-9h0m8 0h0m9 1h0m3 5h0m14 0h0m6 0h0m-14 10h0m-18-2h0m-19 7h0m-18 10h0m16-2h0m-7 6h0"/><path class="c1" d="M853 675h0m5 3h0m-23 15h0m-4-5h0m-1 6h0m-25 11h0m43-6h0m-35 9h0m-10 9h0m-19 13h0m17-1h0m-18 10h0"/><path class="c2" d="M848 684h0m-8 21h0m-33 9h0m-15 24h0"/><path class="c5" d="M849 681h0m-7 13h0m-27-2h0m51 5h0m-68 26h0"/><path class="c3" d="M859 693h0m-40 18h0m-37 16h0m8 5h0m17-6h0"/><path class="c2" d="M828 684h0m22 2h0m-51 17h0m53 10h0"/><path class="c0" d="M861 663h0m-27 18h0m25-6h0m5 3h0m4 3h0m-2 9h0m-14 0h0m-18 6h0m-9-5h0m-3-5h0m30 14h0m10 2h0m-43 12h0m-6-1h0m-24 24h0"/><path class="c4" d="M861 675h0m11 13h0m-59 8h0m-11 12h0m19-6h0m24 3h0m10-3h0m-27 15h0"/><path class="c1" d="M858 666h0m-14 17h0m1 12h0m-34-3h0m44 18h0m-71 10h0m8 5h0m12 1h0"/><path class="c3" d="M870 668h0m-36 10h0m2 5h0m31-10h0m-56 30h0m38 12h0m-25 3h0m-30 10h0m7-6h0"/><path class="c1" d="M859 642h0m-7 5h0m1 9h0m2-6h0m8 8h0m5-10h0m1 9h0m1 3h0m-1 3h0m-9-2h0m-2 6h0m-8-2h0m22 12h0"/><path class="c4" d="M849 659h0m13-9h0m1-2h0m4 4h0m-5 16h0m1 4h0m0 4h0"/><path class="c3" d="M866 644h0m-11 2h0m10 7h0m5-3h0m4 6h0m3 6h0m-5 6h0m-5-3h0m-1 4h0m-15-9h0m9 13h0m11-1h0m5 1h0"/><path class="c0" d="M864 643h0m-2 5h0m-13 1h0m1 4h0m2 3h0m3-3h0m3 4h0m1-5h0m2 1h0m5 7h0m1-5h0m5 1h0m2 4h0m1-3h0m2 12h0m-2-3h0m-7 3h0m-6-4h0m-5 1h0m-1-5h0m-3 5h0m0 2h0m-6-8h0m19 18h0m0-6h0m4 2h0m4 34h0m-8 4h0m-6 8h0"/><path class="c3" d="M888 648h0"/><path class="c0" d="M930 224h0m-46 452h0"/><path class="c5" d="M928 221h0"/><path class="c3" d="M934 221h0"/><path class="c6" d="M929 225h0m-2 4h0"/><path class="c4" d="M936 216h0m-5 0h0m-6 10h0m1-5h0m1 1h0"/><path class="c3" d="M880 298h0m34 7h0m-15-2h0m-8-1h0m-2 7h0m-3 1h0m-9 5h0m7 7h0m5 0h0m15-3h0m2-1h0m6-6h0m-16 14h0m-4 0h0m-3 1h0"/><path class="c4" d="M907 307h0m-8-6h0m-3 3h0m-13-1h0m3 15h0m26-1h0"/><path class="c5" d="M898 306h0m-24 5h0m13 13h0m13-10h0m9 6h0"/><path class="c2" d="M882 298h0m2 1h0m12 1h0m17 2h0m-2-1h0m-4 8h0m-2-9h0m-1 2h0m-1 9h0m-4 1h0m-5 0h0m-3-9h0m-3 0h0m-4 9h0m-2-4h0m1 9h0m6-4h0m5 1h0m0 8h0m2-4h0m5 3h0m5-6h0m5 9h0m2 3h0m-7 3h0m-4-1h0m-3-4h0m-7-1h0"/><path class="c0" d="M893 298h0m19 14h0m-4-10h0m-7 5h0m-15 1h0m-6-4h0m17 11h0m5 8h0m2-1h0m3 4h0m-1 1h0m-9 1h0"/><path class="c1" d="M904 305h0m-12 1h0m-2 0h0m-11 4h0m-2-3h0m4 8h0m3-2h0m7 4h0m7 3h0m1-3h0m10-5h0m0 16h0m2 11h0"/><path class="c0" d="M616 451h0m-12 2h0m-6 1h0m-2 10h0m6-1h0m8 0h0m-12 7h0m-3 1h0"/><path class="c4" d="M616 451h0m-7 1h0m-11 8h0"/><path class="c1" d="M612 452h0m-10 0h0m-2 4h0m-7 3h0m3 8h0m1-11h0m7 4h0m4 6h0m1-2h0m1-4h0"/><path class="c2" d="M616 456h0m-15 7h0m0-4h0m3-2h0m2 8h0m2-8h0m-5 13h0"/><path class="c3" d="M610 449h0m-1 1h0m-16 17h0m7-2h0m11-8h0"/><path class="c0" d="M628 452h0m-4 0h0m-5 2h0m10 2h0"/><path class="c6" d="M656 443h0m7 0h0"/><path class="c4" d="M641 442h0m5-2h0m5-6h0m6 7h0m4-4h0m8 5h0m3 2h0m-2 4h0m-13-2h0m-11 0h0"/><path class="c3" d="M643 443h0m2-8h0m4 4h0m3-2h0m2 1h0m7 0h0m6 11h0m-8 1h0m-9-4h0"/><path class="c5" d="M659 444h0m6 2h0m-12 3h0m-10-4h0"/><path class="c2" d="M649 442h0m8-5h0m6 9h0"/><path class="c0" d="M648 435h0m4 8h0m13-2h0m-10 4h0"/><path class="c2" d="M772 493h0m-6 0h0m-15 8h0m-5 13h0m0-7h0m3-2h0m-8 19h0m-13 8h0m2-3h0"/><path class="c4" d="M764 489h0m21 13h0m-1 1h0m-5-1h0m-18-9h0m-1 4h0m-2-5h0m-10 15h0m-5 10h0m-6 5h0m-1 1h0m-12 15h0m-3 4h0m-1 4h0m-4 2h0m-5 1h0"/><path class="c3" d="M767 492h0m28 8h0m-9 0h0m-2 2h0m-1-3h0m-5-2h0m-3 2h0m-14-4h0m-7 7h0m-13 12h0m10-4h0m-20 21h0m-13 12h0m-2-2h0"/><path class="c0" d="M758 490h0m2 1h0m38 11h0m-1-3h0m-1 2h0m-4 1h0m-5-2h0m-10-6h0m-1 2h0m0 4h0m0-3h0m-9-3h0m-6 0h0m-5-2h0m0 4h0m-1-3h0m-5 8h0m-1 9h0m1 0h0m44-6h0m-49 12h0m-2 0h0m0 4h0m-1 0h0m-1-1h0m-1 6h0m-1-1h0m-2 0h0m-5 3h0m-10 12h0m1-1h0m4-7h0m5-2h0m-10 13h0m-6 4h0m-1-1h0m0 3h0m-1-5h0m-2 2h0"/><path class="c5" d="M781 503h0m-1-7h0m-1 0h0m-13-3h0m-48 47h0m1-2h0m2-1h0m12-5h0"/><path class="c3" d="M718 547h0m-7 2h0m-3-2h0m-1-6h0m0 10h0m-3-6h0m-2 7h0m0-8h0m-4 7h0m2 4h0m7 4h0m3-3h0m2-3h0m2 7h0m0-3h0m0-3h0"/><path class="c2" d="M721 550h0m-4 1h0m-4-4h0m-7 11h0m14-4h0"/><path class="c4" d="M715 545h0m-13 5h0m-3-3h0m8 8h0m5 7h0"/><path class="c0" d="M717 543h0m-4 9h0m0-8h0m-3 1h0m-6 0h0m14 11h0"/><path class="c5" d="M517 658h0m1-2h0m1 1h0m-4 6h0m-6 8h0"/><path class="c1" d="M529 644h0m-11 10h0"/><path class="c3" d="M530 643h0m-4-1h0m0 7h0m-14 16h0m0 3h0m0-5h0m-1 3h0"/><path class="c0" d="M529 645h0m-11 9h0m-8 8h0"/><path class="c4" d="M531 644h0m-2 0h0m-4 2h0m-11 8h0m1-1h0m3 4h0m4-8h0m3 1h0m-12 15h0m-4 7h0"/><path class="c0" d="M533 637h0m-7 18h0m-6 7h0m-8 6h0"/><path class="c1" d="M1167 213h0m-2-5h0m0 1h0m-17 4h0m-13 2h0m-24 15h0m-18 17h0m9-6h0m4 6h0m1-2h0m-7 9h0m-22 4h0m0 9h0"/><path class="c4" d="M1132 212h0m-9 8h0m52-4h0m-67 31h0m-27 14h0m-3-2h0"/><path class="c0" d="M1159 211h0m-2 1h0m-8 2h0m-31 11h0m7 1h0m4-5h0m49-1h0m-67 15h0m-1-1h0m-3 1h0m-10 9h0m-7 15h0m-1 0h0m-6 5h0"/><path class="c3" d="M1160 213h0m-20 0h0m-14 14h0m8-8h0m43-2h0m-67 16h0m-23 18h0m15-6h0m-12 13h0m-9-3h0m-5 11h0"/><path class="c2" d="M1178 213h0m-8-1h0m-8-1h0m-13-2h0m-3-1h0m0 0h0m-1 8h0m-4-2h0m-29 24h0m-4-2h0m-16 14h0m1-2h0m5-6h0m1 6h0m4 1h0m-8 7h0m-11 3h0"/><path class="c4" d="M1149 209h0m-22 13h0m4-5h0m-23 19h0"/><path class="c2" d="M1176 214h0m-3-5h0m-13 3h0m-1 1h0m-4-5h0m-1 1h0m-13 0h0m-24 18h0m8-3h0m0-2h0m9 1h0m45-6h0m-68 21h0m-21 20h0m-13-1h0m0 9h0"/><path class="c3" d="M1169 216h0m-1-5h0m-19 3h0m-18 0h0m-4 10h0m15-6h0m-48 27h0m17-4h0m-24 16h0"/><path class="c1" d="M1149 204h0m27 12h0m-8-8h0m-3 6h0m-2-5h0m-3 2h0m-1-5h0m-26 5h0m-5 8h0m5 0h0m0-3h0m-20 17h0m-4 7h0m-6 10h0m-25 6h0"/><path class="c0" d="M1141 209h0m-2 3h0m-5 8h0m-18 16h0m-1-2h0m-26 16h0m8-5h0m-9 8h0m-3 2h0"/><path class="c3" d="M1075 275h0m4 0h0m78 6h0m-5-1h0m-1 1h0m-1 0h0m-3 3h0m-1-6h0m-6 6h0m-5 1h0m-38 0h0m-11 2h0m-3-5h0m8 6h0m16 0h0m12 4h0m1-2h0m9-1h0m3 1h0m1-1h0"/><path class="c2" d="M1155 276h0m1 0h0m-21 11h0m-30 1h0m-6-4h0m-5 5h0m25 3h0m2-4h0m9 3h0"/><path class="c1" d="M1070 268h0m5 7h0m3 0h0m25 12h0m-3-1h0m-4 5h0m0 0h0m10-2h0m6 2h0m11-2h0"/><path class="c4" d="M1077 270h0m2 4h0m60 13h0m-8-4h0m-29 1h0m0 0h0m-14 2h0m-3-6h0m-2 0h0m-4 2h0m-2 0h0m0-2h0m16 10h0m20 3h0m9 1h0"/><path class="c0" d="M1073 273h0m5-4h0m77 11h0m-1-3h0m-5 4h0m-1-1h0m0 0h0m-2-1h0m-15 4h0m-6 5h0m-3-1h0m-35-5h0m-10-1h0m28 12h0m12-5h0m0 7h0m2-7h0"/><path class="c2" d="M1162 268h0m1 1h0m3 0h0m0 1h0m9 3h0m4 0h0m3 2h0m8 0h0m23 6h0m-16-4h0m-10-1h0"/><path class="c1" d="M1168 269h0m1 2h0m1 2h0m2 1h0m2-2h0m0 2h0m27 2h0m9 5h0m0-2h0m-2 1h0m0 1h0m-7-2h0m0 0h0m-10-2h0m-5 0h0m-8 0h0m48 12h0"/><path class="c3" d="M1212 282h0m-19-6h0m-1 0h0m-4 0h0m38 13h0"/><path class="c0" d="M1193 276h0m29 10h0m-4-2h0m-2 0h0m-10-6h0m-92 20h0m107-8h0m2 4h0m0-4h0m-108 13h0m0-2h0"/><path class="c2" d="M1114 299h0m2-2h0m1 2h0m1 7h0m-1-5h0"/><path class="c3" d="M1118 300h0m-5 3h0"/><path class="c4" d="M1156 237h0"/><path class="c1" d="M1156 250h0"/><path class="c0" d="M1123 250h0m24-10h0m-24 18h0m-23 12h0m8-6h0m-7 14h0"/><path class="c1" d="M1135 254h0"/><path class="c0" d="M1134 270h0"/><path class="c3" d="M1139 270h0"/><path class="c1" d="M1164 232h0"/><path class="c0" d="M1163 258h0m-1-4h0"/><path class="c1" d="M1119 313h0m-126 130h0m2 0h0m7-2h0m8 1h0m5-1h0m23 6h0m-9-1h0m-2 2h0m-2 0h0m-6-2h0m-3-2h0m-13 2h0m-5 0h0m-8 0h0m-5 0h0"/><path class="c3" d="M989 443h0m19-2h0m3 1h0m9 0h0m11 8h0m-38-6h0"/><path class="c2" d="M984 442h0m38 2h0m14 9h0m-1-3h0m-2-4h0m-17-1h0m-10 1h0m-1-1h0m-20 1h0"/><path class="c0" d="M988 443h0m40 0h0m10 8h0m-13-6h0m-19 0h0m-2 0h0m-22 0h0m0 0h0"/><path class="c1" d="M1001 460h0"/><path class="c3" d="M1014 463h0"/><path class="c1" d="M1024 460h0"/><path class="c0" d="M1034 454h0"/><path class="c2" d="M889 549h0m-49 4h0m-13 47h0m49 6h0m37-2h0m2 18h0m-45 1h0"/><path class="c1" d="M918 523h0m-80 10h0m58 0h0m18-4h0m19-1h0m10 8h0m-25 12h0m-1-5h0m-49 3h0m-34 0h0m-3-2h0m-2 3h0m-9 17h0m31-3h0m2-6h0m25-1h0m29 6h0m8-2h0m24 17h0m-47-7h0m-59 3h0m1 12h0m44-5h0m3 7h0m1 0h0m53 13h0m-5-4h0m-16-5h0m-45 9h0m-4-7h0m-16 0h0m-6-2h0m4 16h0m57 4h0m19-6h0m12 3h0m-3 15h0m0-4h0m-5 2h0m-1 4h0m-76-9h0m30 12h0m6 5h0m21-6h0m5 4h0m-2 18h0m-7-8h0m-17 16h0m25 16h0"/><path class="c3" d="M833 536h0m26-4h0m0 5h0m0-1h0m20-3h0m69-1h0m-15 18h0m-74-7h0m-9 9h0m-28-8h0m52 20h0m28-9h0m22 16h0m-22-1h0m-69 5h0m-4 12h0m11-11h0m71 7h0m8-3h0m27 9h0m-23 4h0m-83 19h0m30-1h0m20 8h0m-13 4h0m-18 6h0m6 0h0m4 2h0m43-1h0m15-1h0m-30 7h0m2 21h0m5 0h0m7-7h0m-7 16h0"/><path class="c0" d="M844 556h0m66 87h0"/><path class="c5" d="M874 584h0m16 62h0"/><path class="c4" d="M871 545h0m2 30h0m-13-4h0m-13 3h0m68 21h0m-5 21h0m-20 36h0m22 4h0m2-8h0"/><path class="c3" d="M836 534h0m8 2h0m5-3h0m63 5h0m32 3h0m-14 3h0m-59-2h0m-12 9h0m-13-3h0m-7-1h0m31 15h0m39-6h0m15 5h0m-7 12h0m-6-8h0m-24 7h0m-4-4h0m-2 2h0m-4 0h0m-45-2h0m-5 11h0m89 7h0m10 13h0m0-2h0m-33 1h0m-51-4h0m19 16h0m36-7h0m17-2h0m0 7h0m6 0h0m-1 14h0m-40-7h0m-36 3h0m-3-4h0m48 14h0m21 6h0m20 3h0m-23 17h0"/><path class="c1" d="M864 537h0m4-4h0m9 5h0m9-7h0m5 2h0m13 1h0m44 17h0m-47-2h0m-63 12h0m23-8h0m5 0h0m3 8h0m4-5h0m40-1h0m4 8h0m1-4h0m3-7h0m7 4h0m13 12h0m0 3h0m-9-5h0m-4 2h0m-71 3h0m-12-3h0m-3 12h0m4 7h0m7 0h0m0-4h0m2-7h0m17 3h0m22 0h0m1 4h0m7 2h0m1-4h0m20-5h0m17 12h0m2-5h0m-34 7h0m-30 2h0m-3 3h0m-6-5h0m-5 8h0m-16-6h0m-10 4h0m-8-5h0m16 9h0m1 11h0m57-10h0m-8 20h0m-2-4h0m3 23h0m-6-1h0m-3 1h0m-18-1h0m11 11h0"/><path class="c0" d="M842 535h0m31 65h0m-5 2h0m60 1h0m-1 21h0m-8-9h0m-63 0h0m43 26h0"/><path class="c5" d="M942 575h0"/><path class="c4" d="M941 517h0m3 15h0m6 10h0m-109 20h0m31 3h0m-11 41h0m20 39h0"/><path class="c2" d="M926 538h0m-31 30h0m-71 13h0m111-5h0m-112 17h0m116 10h0"/><path class="c3" d="M934 525h0m-7-5h0m-75 12h0m45 5h0m39 4h0m-11 2h0m-23 3h0m-33 6h0m-25-3h0m-25 11h0m10-3h0m98 7h0m20-4h0m-88 15h0m-14 9h0m25 3h0m7 0h0m16-1h0m48 11h0m-7-7h0m-15 9h0m-87-1h0m20 12h0m14-1h0m8-7h0m4 9h0m25-10h0m-5 20h0m-3 6h0m-12 17h0m15 19h0"/><path class="c5" d="M840 588h0m104 6h0m-88 7h0m29 28h0"/><path class="c2" d="M908 564h0m12 3h0m16 16h0m-14 24h0m-63 12h0"/><path class="c4" d="M907 539h0m-9 14h0m41 7h0m-122 5h0m88 64h0m13 30h0m-18 9h0"/><path class="c0" d="M941 539h0m1 11h0m-49-1h0m-44 26h0m49 40h0m-14 6h0"/><path class="c1" d="M838 540h0m31-5h0m21 3h0m26-2h0m24-5h0m9 12h0m-8 3h0m-5-3h0m-1 0h0m-25 7h0m-4-5h0m-41-3h0m-3 4h0m-3 1h0m-6-2h0m-34 0h0m0 7h0m9 5h0m28 2h0m3-4h0m1 6h0m17 0h0m28-8h0m18 1h0m20 18h0m-15 3h0m-22-8h0m-28-1h0m-8 2h0m-1 5h0m-17-4h0m-1-2h0m-30 1h0m-1 11h0m10-2h0m35 0h0m21 7h0m41 3h0m9-6h0m6 13h0m-3-2h0m-39 4h0m-47-2h0m-11 5h0m-3 1h0m-11-6h0m-4-3h0m11 13h0m67 4h0m26-2h0m4 5h0m0-7h0m-20 17h0m-28-9h0m-2 10h0m-1-1h0m-7-7h0m-31-1h0m80 23h0m11-6h0m-59 11h0m31 28h0"/><path class="c4" d="M884 550h0m-67 5h0m69 3h0m-44 26h0m1 1h0m67 12h0m-40 8h0m25-4h0m9-1h0m-44 28h0m27 8h0m-6 4h0m26 19h0"/><path class="c5" d="M850 607h0m-1 10h0"/><path class="c3" d="M939 524h0m-8-1h0m-2 3h0m-104 14h0m23-9h0m72-3h0m15 4h0m-10 16h0m-79 4h0m8 11h0m13 0h0m30-1h0m12-2h0m-63 9h0m-22 7h0m12 0h0m21 10h0m43 0h0m14 0h0m17-2h0m-1 6h0m-9 1h0m-77 11h0m47 1h0m7 8h0m9-1h0m2-5h0m2 3h0m7-5h0m11-3h0m10 0h0m-32 15h0m-7 13h0m-5 19h0m-17-2h0m53 4h0"/><path class="c1" d="M944 522h0m-24-2h0m-77 20h0m19-3h0m0-5h0m38 6h0m21-8h0m13 4h0m2 1h0m-39 9h0m-7-1h0m-3 3h0m-5-2h0m-2 2h0m-31-5h0m-2 2h0m-11 7h0m13 13h0m33-2h0m0-4h0m40 4h0m18 4h0m-41 6h0m-34-5h0m-24 2h0m-3-1h0m-1 5h0m62 7h0m35 6h0m-25 10h0m-39 1h0m-14 4h0m-15 7h0m65 2h0m30-5h0m-11 8h0m-47 16h0m11-3h0m26 6h0m0 13h0m-2 10h0m-5 13h0"/><path class="c2" d="M859 567h0m-30 5h0m48 65h0m31 16h0"/><path class="c0" d="M918 537h0m-39 26h0m2 40h0m49 11h0m-58 14h0m55 20h0"/><path class="c5" d="M926 536h0m-41 45h0"/><path class="c1" d="M941 527h0m-16-6h0m-94 18h0m38 0h0m16-2h0m15-5h0m2 0h0m25 5h0m15 8h0m-39-3h0m-3 6h0m-4 1h0m-22-2h0m-53 2h0m10 15h0m14-5h0m4-3h0m14 4h0m33-2h0m8 5h0m25-4h0m7 12h0m-5 2h0m-24-1h0m-6-5h0m-5 8h0m-3 1h0m-3-3h0m-22-1h0m-30 8h0m11 0h0m17-1h0m57 7h0m8-8h0m-29 18h0m-15-3h0m-4 6h0m-2-4h0m-9-6h0m-6 6h0m-33 12h0m22-1h0m47 17h0m-10-10h0m-20 5h0m-26-2h0m44 17h0m28 5h0m-5 4h0m-46-5h0m31 12h0m5 1h0m8 9h0m11-5h0m-19 15h0"/><path class="c2" d="M826 556h0m121 18h0m-39 17h0m0 47h0m-27-1h0"/><path class="c3" d="M915 526h0m-15 3h0m0 5h0m32 14h0m-11-1h0m-34-4h0m-65 17h0m11 3h0m82-7h0m17 1h0m7 11h0m-80-3h0m-39 9h0m-2-2h0m42 11h0m41 1h0m42-5h0m-9 15h0m-39 0h0m-4 13h0m1 3h0m19 8h0m-43-3h0m-17 9h0m27 5h0m24 1h0m1-3h0m21 4h0m-6 16h0m-24-3h0m-8 9h0m5 6h0m14 4h0"/><path class="c0" d="M886 535h0m35 5h0m-32 21h0m7-8h0m6 5h0m-3 15h0m-66 7h0m112 7h0m-80 38h0"/><path class="c4" d="M877 550h0m-36 11h0m75 7h0m-32 7h0m18 41h0m-41-1h0m-5 8h0m53 16h0"/><path class="c0" d="M944 549h0m-7 2h0m-108-7h0m-9 12h0m97-3h0m-46 19h0m-6 11h0m14-6h0m6 9h0m-22 22h0m54 3h0m6-1h0m-7 16h0m-38 17h0"/><path class="c4" d="M936 518h0m-28 30h0m-3-8h0m-33 4h0m-18 5h0m-31 2h0m13 4h0m113 9h0m-3 2h0m-60 3h0m-60 1h0m107 18h0m1 23h0m-83 7h0m69 7h0m-8 42h0"/><path class="c5" d="M876 532h0m59 27h0m-87 12h0m45 33h0m2 29h0"/><path class="c2" d="M939 554h0m-94 51h0m66 6h0m-39 11h0m45 18h0"/><path class="c1" d="M829 536h0m14-4h0m48 4h0m19-1h0m15-2h0m6-1h0m1 5h0m15 0h0m-11 11h0m-103 11h0m39-6h0m58-1h0m5 4h0m11 9h0m-9-1h0m-23 11h0m-2-5h0m-19 0h0m-69-5h0m-5 6h0m5 17h0m11-3h0m42-2h0m64-3h0m0 10h0m-43 1h0m-10 4h0m-27 4h0m-34-6h0m11 15h0m2-5h0m48 3h0m0 5h0m8-5h0m33 13h0m-13-1h0m-28-2h0m-6-2h0m-25-1h0m-10 8h0m56 13h0m24 10h0m-37 10h0m7 0h0m11-6h0m16 3h0m-13 11h0m-11-1h0"/><path class="c3" d="M935 515h0m1 11h0m-16-4h0m-86 17h0m37-8h0m6 2h0m33-3h0m2 12h0m-22 4h0m-50 5h0m16 1h0m7 12h0m12-5h0m74-4h0m-104 9h0m-16 4h0m-1 14h0m22 1h0m40 2h0m14-1h0m17-4h0m3 1h0m2 0h0m-2 9h0m-10 5h0m-23-3h0m-2 7h0m-53 10h0m38-2h0m7-2h0m5-1h0m27 9h0m-9 7h0m-22 11h0m11 0h0m5-1h0m-12 18h0m-15-11h0m29 11h0m24 2h0"/><path class="c2" d="M886 575h0m-50 11h0m87 34h0m-16 3h0m1 53h0"/><path class="c5" d="M910 567h0m-56 12h0m52-1h0"/><path class="c1" d="M941 518h0m-119 21h0m62-5h0m-2 7h0m-5 2h0m-11-3h0m-1 11h0m-24-7h0m-14 6h0m-3-3h0m59 16h0m1-6h0m7 3h0m5 1h0m29-9h0m0 18h0m0-1h0m-17 6h0m-53-8h0m6 13h0m20 1h0m7-2h0m3 3h0m18 3h0m5-1h0m5-8h0m-33 20h0m-23-2h0m-2 9h0m9 2h0m9-4h0m30 18h0m-35 2h0m-9-4h0m1 9h0m10 8h0m40 2h0m13-11h0m1 6h0m1 4h0m-26 9h0m-15-3h0m-11 3h0m21 13h0m17-8h0m-4 15h0"/><path class="c3" d="M932 515h0m0 6h0m-7 2h0m-1 5h0m-70 12h0m1-5h0m19-1h0m45 4h0m-26 3h0m51 19h0m-32 15h0m-85-1h0m-6 11h0m40 0h0m52-5h0m5 4h0m9-2h0m-67 10h0m-2 2h0m-5-2h0m-6 5h0m-11-7h0m-3 5h0m92 22h0m-32 5h0m-11-10h0m-16 3h0m-5 15h0m67 6h0m-2 10h0m-2-7h0m-11-2h0m-20 13h0m3 8h0"/><path class="c4" d="M921 542h0m-70 1h0m-14 2h0m-3 4h0m110 7h0m-15 8h0m-72 14h0m13 5h0m11 7h0m-13-2h0m-14 17h0m7 20h0m13 6h0m47 1h0m-2 23h0"/><path class="c0" d="M918 532h0m-5 15h0m-18 0h0m-5 10h0m12 32h0m-50 9h0m11 20h0m61 24h0"/><path class="c4" d="M917 619h0m-27 14h0m-2 12h0"/><path class="c0" d="M934 621h0m-24 3h0m-7-4h0m-36 2h0m-3 2h0m-11-8h0m-1 4h0m16 7h0m4 4h0m42 1h0m10 0h0m3-6h0m-29 11h0m-7 3h0m-17 3h0m7 7h0m9 4h0m9-1h0m8-2h0m-4 14h0m0-2h0m6 11h0"/><path class="c3" d="M926 614h0m-27 17h0m30-1h0m-18 16h0m-12 0h0"/><path class="c1" d="M929 624h0m-16-5h0m-1 1h0m-52 1h0m0-4h0m-11 2h0m22 8h0m26 6h0m13-4h0m17 12h0m-7-1h0m-9-2h0m-12 6h0m-19-7h0m2 13h0m13 9h0m10-2h0"/><path class="c0" d="M868 611h0m61 5h0m-17 1h0m-18-2h0m-3 9h0m-1-12h0m-25 5h0m-12 7h0m12 9h0m12 0h0m6-8h0m12 0h0m7 5h0m6 4h0m14-9h0m1 2h0m6 15h0m-10-6h0m-8 5h0m-8-3h0m-8 2h0m-6 7h0m-4-8h0m-6 6h0m15 4h0m17 6h0m7 7h0m-6 3h0m-2-5h0"/><path class="c3" d="M912 614h0m-15 5h0m-25-2h0m-4-1h0m-11 13h0m74-1h0m-12 17h0m-22 13h0m27-6h0m-9 13h0m-6 7h0"/><path class="c4" d="M869 614h0"/><path class="c1" d="M881 618h0m-3 5h0m-2-7h0m-8 19h0m2-10h0m6 5h0m9 5h0m18-2h0m15-6h0m15 9h0m-1 7h0m-16-3h0m-17-1h0m-14 4h0m3 8h0m11 3h0m20-4h0m-8 11h0m-2 1h0m-1 5h0m-5 5h0"/><path class="c3" d="M885 615h0m-10 7h0m4 8h0m10-1h0m7-1h0m35 5h0m-2 8h0m-7 4h0m-50-7h0m37 12h0"/><path class="c0" d="M904 622h0m-2-6h0m-4 3h0m-11 1h0m-15 3h0m-26-3h0m-5-4h0m62 9h0m14 7h0m4-1h0m1 6h0m-13 9h0m-4-8h0m-2 9h0m-3-10h0m0 6h0m-3 5h0m-6-5h0m0-6h0m-12 10h0m-8-9h0m24 17h0m21 4h0"/><path class="c4" d="M855 627h0m61 7h0"/><path class="c1" d="M913 623h0m-5-5h0m-14 4h0m-7-4h0m-8 2h0m-3-5h0m-14 8h0m-6 0h0m0 1h0m-2-7h0m-9-2h0m16 16h0m8 1h0m13-1h0m11-4h0m12 2h0m11-2h0m0 18h0m-8-6h0m-32-2h0m32 18h0m8-2h0m11 1h0m-28 12h0m7 7h0"/><path class="c0" d="M929 622h0m-4-6h0m-1 4h0m-6 1h0m-2 3h0m-37-12h0m-16 0h0m19 16h0m5-2h0m42 8h0m3 13h0m-6-1h0m-45-4h0m-1 5h0m7 2h0m1 5h0m13-4h0m2 7h0m15-2h0m2 1h0m-20 13h0m-2-8h0"/><path class="c4" d="M892 619h0m-32 11h0m28 6h0m-12 4h0m51 12h0"/><path class="c1" d="M921 616h0m-37 6h0m-13 0h0m-12-9h0m-12 2h0m74 32h0m-4-1h0m-8-2h0m-2 15h0m14 0h0m10-9h0m-37 12h0"/><path class="c3" d="M899 624h0m-4-7h0m-41-4h0m30 20h0m21 10h0"/><path class="c2" d="M1091 498h0m-121 26h0m0 6h0"/><path class="c0" d="M1189 438h0m5 15h0m-134 1h0m139 25h0m-95-8h0m-46 18h0m63-4h0m17 2h0m91 9h0m-87-2h0m-130-2h0m177 20h0m-55 4h0m24 33h0"/><path class="c3" d="M1164 410h0m24 2h0m-33 20h0m-9-3h0m-17-2h0m-16-7h0m-11 11h0m-35 12h0m5-4h0m29 2h0m90 11h0m-54-8h0m-25 10h0m-3-5h0m-36-2h0m76 16h0m10-2h0m57 4h0m6 12h0m-16 1h0m-32-1h0m-15-7h0m-2 10h0m-10-7h0m-19 6h0m-10-8h0m-9 2h0m-48 3h0m-33 4h0m38 9h0m38-1h0m54 2h0m15-6h0m40 2h0m-1 12h0m-73-5h0m-18 2h0m-30 9h0m-47-7h0m-26-4h0m-80 13h0m10 3h0m29-2h0m31 4h0m39-3h0m46 6h0m74 1h0m31-7h0m12-1h0m4 16h0m-16 0h0m-32 1h0m-24-7h0m-28 4h0m-12-5h0m-6 7h0m-19 4h0m-6-8h0m-40-2h0m-3-1h0m-26 5h0m-2 5h0m-60 4h0m20 0h0m36 10h0m190 5h0m-14-4h0m-6 4h0m-12-3h0m-18 5h0m-3-7h0m-3 4h0m-13 4h0m-23-2h0m-55-1h0m-6 4h0m47 11h0m8-6h0m4-1h0m4 7h0m9 2h0m14-9h0"/><path class="c5" d="M1143 439h0m-185 72h0m30 4h0m16 17h0m50-3h0m138 8h0m-120 18h0"/><path class="c1" d="M1126 416h0m19 0h0m35-5h0m25 18h0m-51-8h0m-42 6h0m-13 7h0m86 8h0m35-1h0m2 15h0m-41-5h0m-74 3h0m-53 3h0m27 3h0m2 4h0m22 2h0m3-6h0m18 6h0m9-8h0m8 5h0m2 1h0m28 3h0m14 0h0m11-8h0m40 8h0m-81 2h0m-118 3h0m-13 14h0m16 3h0m30-1h0m121 1h0m24 10h0m-10-6h0m-12 5h0m-17 3h0m-29-4h0m-36 6h0m-12 1h0m-101-2h0m57 7h0m45-2h0m4 3h0m1-4h0m52 5h0m10-6h0m2 6h0m47 0h0m9 9h0m-24 6h0m-28-5h0m-5-1h0m-54-3h0m-30 10h0m-4-4h0m-2-5h0m-44 3h0m-8 5h0m-20-1h0m-2 2h0m-38-1h0m-42 1h0m23 9h0m35-7h0m7 11h0m9-5h0m7 0h0m51 0h0m7-7h0m15 2h0m15 4h0m7-3h0m45 0h0m7 3h0m48 3h0m-43 11h0m-77-6h0m-13 10h0m-66-5h0m-27-4h0m89 12h0m13 2h0m32 0h0"/><path class="c4" d="M1109 441h0m96 10h0m-106-3h0m-41 9h0m28 3h0m114 8h0m-71 9h0m-11 0h0m-34 2h0m-30-7h0m-13 8h0m13 8h0m14 1h0m139-4h0m9 7h0m-38 3h0m-9 0h0m-8 8h0m-132-1h0m-38 0h0m-1 2h0m-10 0h0m-34 12h0m11-11h0m14 5h0m100 1h0m15 2h0m21 1h0m68-3h0m46 5h0m3 12h0m-17-3h0m-14 3h0m-33-2h0m-8-6h0m-117 8h0m-75-5h0m-26 9h0m19 2h0m98 3h0m64 1h0m18 1h0m33-5h0m13 5h0m24-5h0m-106 7h0m-36 1h0m7 20h0m11-9h0m23 12h0"/><path class="c3" d="M1157 405h0m-20 10h0m11 2h0m10 2h0m18-7h0m8 2h0m22 10h0m-10-1h0m-7-2h0m-21 4h0m-16 5h0m-28-9h0m-33 8h0m-13 5h0m8 7h0m3-6h0m16-3h0m42 8h0m37-3h0m14 0h0m32 14h0m-28-1h0m-30 0h0m-115 1h0m-2 4h0m9 10h0m2 2h0m16-1h0m50-2h0m16-6h0m33 9h0m17-2h0m23-1h0m12 9h0m-14 1h0m-63-1h0m-37 4h0m-5-3h0m-34 4h0m-36 9h0m38 4h0m2-2h0m12-3h0m27 3h0m44-2h0m10 1h0m11 3h0m23-1h0m-27 11h0m-2-6h0m-113 3h0m-20 4h0m-8-1h0m-9-1h0m-47-1h0m-13 4h0m-47 9h0m24 1h0m1-8h0m6 6h0m28-6h0m1 1h0m13 7h0m12-1h0m5-7h0m35 8h0m4-6h0m12 0h0m63 1h0m10 0h0m10 2h0m72-1h0m2 3h0m-3 16h0m-30-1h0m-5-7h0m-4-4h0m-1 5h0m-48-1h0m-16 0h0m-42 0h0m-57-1h0m-21 7h0m-41-1h0m-10 0h0m-8 0h0m29 15h0m0-8h0m6 5h0m10-6h0m43 2h0m3 0h0m2-3h0m6 1h0m11 4h0m31-1h0m7-5h0m0 3h0m16 0h0m27 5h0m53 13h0m-18-10h0m-13 6h0m-20-5h0m-32 7h0m-14 1h0m-21 0h0m-21-8h0m-27 0h0m-27 4h0m117 11h0m24 3h0m12-6h0"/><path class="c1" d="M1159 408h0m2 7h0m26 1h0m25 11h0m-22 1h0m-48-2h0m-4 1h0m-45-1h0m3 17h0m22-9h0m30 9h0m11-7h0m24-3h0m26-1h0m1 5h0m8 16h0m-56-2h0m-34-2h0m-5-1h0m-19-4h0m-21 10h0m-13-10h0m-7 16h0m25 2h0m112-3h0m11 1h0m17 7h0m11 12h0m-22-8h0m-18-1h0m-35 9h0m-56-3h0m-14 2h0m-48-3h0m-3 2h0m-9-3h0m-11 14h0m46-8h0m42 9h0m1-5h0m35 3h0m9-3h0m13 4h0m62 16h0m-2-11h0m-33-1h0m-68 4h0m-35-3h0m-6 9h0m-13 0h0m-21-5h0m-24 2h0m-37-4h0m-13 17h0m42-8h0m15 9h0m13-8h0m11 0h0m54 5h0m40 3h0m66 14h0m-28-5h0m-12 5h0m-15-7h0m-11 2h0m-18 2h0m-25-7h0m-61 6h0m-10 5h0m-84-10h0m-10 9h0m119 9h0m10 1h0m18-1h0m42-7h0m11 8h0m45-4h0m18 2h0m5-2h0m-39 17h0m-2 1h0m-6-2h0m-28-1h0m-49 12h0m9-6h0m26 1h0"/><path class="c5" d="M1172 419h0m-11 23h0m12-2h0m61 26h0m-147 14h0m36 20h0m-53 7h0m129 13h0m-9 0h0m-133 31h0m13 7h0m42 4h0"/><path class="c0" d="M1233 456h0m-65 1h0m-5 42h0m-144 16h0m38 9h0m92 27h0m-100-3h0"/><path class="c2" d="M1210 427h0m-116 0h0m-12 14h0m18-4h0m7 5h0m23 0h0m74-2h0m15 11h0m-40 2h0m-65-3h0m50 7h0m41 4h0m-6 13h0m-30-3h0m-17 0h0m-36 16h0m-160 15h0m103 9h0m158 6h0m-11 4h0m-97 16h0m4-1h0m75 1h0m17-4h0m14-1h0m-164 13h0"/><path class="c3" d="M1158 412h0m11 1h0m14 16h0m-47 0h0m-40 3h0m83 9h0m35-8h0m1 18h0m-37-3h0m-33-4h0m-65 4h0m-18 4h0m31 9h0m12-2h0m12 3h0m80 3h0m8-6h0m6-3h0m10 4h0m7 2h0m3 12h0m-2 4h0m-40 1h0m-11-4h0m-17-2h0m-67-3h0m-54 3h0m-34 19h0m27-7h0m14-3h0m3 4h0m65-2h0m28 5h0m2-7h0m78 12h0m-45 8h0m-22-4h0m-3 1h0m-5-6h0m-61-1h0m-2 9h0m-43 1h0m-26-3h0m-19 5h0m-5-5h0m-9-1h0m-14 5h0m-34 8h0m54-1h0m14 6h0m19-6h0m18-2h0m14 7h0m1-1h0m58-1h0m22 0h0m7-2h0m5 5h0m48-5h0m16-6h0m-65 16h0m-42 2h0m-14-2h0m-100 2h0m-42-1h0m-9-2h0m-10 13h0m68-4h0m54 1h0m5 9h0m3-3h0m34-6h0m57 2h0m21 6h0m43-8h0m-98 20h0m-13-10h0m-19 7h0m-4 4h0m-4-5h0m-31 5h0m-28-9h0m-36-1h0m84 21h0m35 0h0m21 0h0m14-3h0"/><path class="c4" d="M1145 414h0m58 7h0m-60 20h0m38 0h0m-40 12h0m45 8h0m45 2h0m-43 14h0m-178 13h0m48 12h0m-107 8h0m138-1h0m75 3h0m-141 12h0m-4-5h0m-37 3h0m-49 2h0m246 22h0m-15 2h0m-129-3h0"/><path class="c0" d="M1180 417h0m-38 14h0m-89 35h0m100 24h0m67-6h0m4 1h0m-216 19h0"/><path class="c5" d="M1201 443h0m-150 20h0m154 3h0m-38 6h0m-35 7h0m-136 30h0m4-1h0m152 2h0m-129 38h0m92 12h0"/><path class="c1" d="M1129 416h0m3-5h0m4 5h0m5 3h0m23-6h0m34 17h0m-28-9h0m-45 10h0m-1-4h0m-24 0h0m18 13h0m40 0h0m35 3h0m5-8h0m-10 20h0m-30-5h0m-38-1h0m-13 3h0m-36 1h0m3 6h0m18 0h0m38 0h0m15 0h0m80 14h0m-88 7h0m-26-11h0m-4 10h0m-17-5h0m3 14h0m45-6h0m65 3h0m3 3h0m16 0h0m13 8h0m-80 8h0m-9-8h0m-2 7h0m-6-4h0m-9 2h0m-25 0h0m-20-5h0m-32 4h0m-40-5h0m-4 6h0m-62 10h0m68-3h0m2 4h0m9-7h0m94 0h0m19 11h0m39-6h0m50 5h0m2-9h0m2 5h0m-66 7h0m-6 10h0m-51-6h0m-35 5h0m-41-2h0m-2-5h0m-6 2h0m-57-2h0m-31 2h0m5 12h0m51-4h0m5 1h0m16-2h0m58 5h0m33 3h0m10-6h0m37-1h0m59-1h0m-68 12h0m-3 9h0m-14-9h0m-51 1h0m-11 3h0m-34-2h0m-30 2h0m-5 1h0m65 8h0m26 6h0m0 3h0m45-10h0m36 0h0"/><path class="c0" d="M1155 410h0m-23 42h0m-6-8h0m-23 17h0m-25 22h0m100 9h0m-157 35h0m-51-9h0m89 12h0m148 11h0"/><path class="c4" d="M1162 406h0m17 19h0m-6 3h0m-37-2h0m-1 16h0m-73 11h0m73 15h0m49 18h0m-64 15h0m-82-1h0m-65 14h0m69 0h0m146 13h0m-34 21h0m-73 18h0"/><path class="c3" d="M1138 409h0m47 12h0m-4 10h0m-20-8h0m-48 13h0m1-2h0m10 1h0m19-2h0m6 5h0m32 9h0m-37 7h0m-7-1h0m-29-6h0m-30 2h0m-11-1h0m48 10h0m8 5h0m30 2h0m2-8h0m33 6h0m4-2h0m17 1h0m27 12h0m-54 4h0m-4-1h0m-27-3h0m-13 2h0m-12-1h0m-19 1h0m-36-4h0m-35 8h0m113 4h0m1 2h0m33 6h0m1-10h0m11-1h0m30 11h0m-24 5h0m-2 2h0m-51 0h0m-68-1h0m-139 9h0m2 8h0m41-2h0m20 0h0m2-4h0m18 1h0m62 6h0m11-10h0m36 5h0m6-6h0m43 4h0m8-2h0m7 8h0m13 5h0m-88 0h0m-5 7h0m-8 1h0m-12-8h0m-20-2h0m-12 4h0m-4-3h0m-37-2h0m-28 1h0m-63 18h0m25-4h0m5 2h0m15-4h0m30 6h0m5-4h0m20 7h0m64-10h0m28 5h0m0-4h0m16-2h0m4 5h0m37-1h0m4 0h0m40-4h0m-35 12h0m-16 1h0m-21 9h0m-18-1h0m-32-2h0m0 2h0m-78-7h0m-81-2h0m102 14h0m14 4h0m71 4h0"/><path class="c1" d="M1144 419h0m30-9h0m1 8h0m-10 10h0m-17 4h0m-39-3h0m-20 9h0m37 0h0m13 4h0m19-5h0m18 2h0m5 0h0m19-6h0m27 22h0m-14-10h0m-63 10h0m-11-4h0m-27-5h0m-32 5h0m-20 12h0m17 4h0m132 0h0m28-4h0m-32 12h0m-38-1h0m-18 5h0m-3-8h0m-63 4h0m-15 1h0m-43 7h0m2-1h0m2 9h0m3 0h0m6-8h0m1 7h0m17 1h0m62 0h0m34-6h0m78 15h0m-97 1h0m-71 0h0m-19-9h0m-10 5h0m-10 2h0m-45 1h0m-48 11h0m84 5h0m16-9h0m8 8h0m8-9h0m16 3h0m18 3h0m44-2h0m3 6h0m1-5h0m41-1h0m4-2h0m22-2h0m32 1h0m-12 19h0m-4 0h0m-49-1h0m-2-5h0m-76 0h0m-64 7h0m-13-7h0m-26-3h0m-16 3h0m-11-3h0m38 19h0m6 4h0m69-10h0m11 6h0m79-5h0m4 3h0m5 5h0m6-5h0m1-5h0m5 3h0m-49 12h0m-12-4h0m-41 9h0m-1-8h0m-23 2h0m-49 5h0m-18-6h0m117 18h0m4 3h0m67-10h0m-96 12h0"/><path class="c5" d="M1157 434h0m-87 40h0m91 19h0m-29 4h0m-112-1h0m132 21h0m-9 3h0m-32 26h0"/><path class="c2" d="M1176 409h0m-13 18h0m-2 2h0m-42 25h0m-21-7h0m95 20h0m-108 17h0m57 26h0m85 4h0m-199 23h0m175-7h0m-94 17h0"/><path class="c5" d="M1150 419h0m-74 71h0m69 10h0m-80 16h0m-54 6h0m115 35h0"/><path class="c1" d="M1171 405h0m-9 11h0m32 15h0m-8-5h0m-30 3h0m-63 7h0m92-2h0m-9 13h0m-6 7h0m-1-3h0m-8 3h0m-21-10h0m-38 10h0m-31 9h0m15 5h0m9-8h0m4 3h0m9 0h0m29-6h0m13 8h0m5-3h0m14 5h0m2-5h0m3 0h0m48 7h0m-9 4h0m-25-4h0m-109 1h0m-34 0h0m-29 19h0m45 2h0m2-8h0m43 7h0m5 0h0m50-8h0m6 0h0m21 7h0m14-1h0m34-2h0m-13 17h0m-17-4h0m-56 4h0m-6-10h0m-43 1h0m-2 4h0m-73-3h0m-14 8h0m-5-9h0m-14 20h0m38-1h0m10-3h0m24 1h0m47-2h0m73 0h0m27 8h0m-60 8h0m-8 0h0m-79 0h0m-68-3h0m-17 4h0m-15-9h0m-31 10h0m-10-4h0m24 10h0m11 5h0m8-3h0m10-3h0m26 5h0m13-8h0m2 3h0m25-2h0m47 4h0m68 6h0m13-12h0m26 13h0m-55 9h0m-70 1h0m-19 1h0m-100-11h0m119 20h0m23 0h0m24-2h0m2-7h0m23 1h0"/><path class="c3" d="M1140 417h0m34 2h0m-76 10h0m-9 2h0m2 10h0m30-4h0m47 2h0m27-3h0m7 17h0m-6-7h0m-10 2h0m-2-2h0m-10 9h0m-48-4h0m-36 1h0m-17 14h0m2-7h0m1 2h0m19 5h0m46 1h0m23-4h0m14 1h0m0 2h0m35-4h0m3-1h0m-33 14h0m-58-4h0m-14 7h0m-35-3h0m-2-4h0m-26-2h0m-2 21h0m17-9h0m44 5h0m18 0h0m9 4h0m86-1h0m7-3h0m7 8h0m-16 2h0m-31 5h0m-91-9h0m-14 11h0m-3-4h0m-5-2h0m-8-2h0m0-3h0m-50 4h0m-72 9h0m97 10h0m156 12h0m-7-9h0m-54 2h0m-49 8h0m-44-4h0m-111-7h0m-8 10h0m-3 2h0m15 4h0m42 6h0m56-5h0m37 5h0m16-3h0m47-3h0m5-1h0m4 6h0m57 1h0m0 2h0m-17 1h0m-57 7h0m-65-3h0m-21 2h0m-75-3h0m138 9h0m-17 13h0"/><path class="c0" d="M1195 424h0m-119 18h0m58-9h0m-16 12h0m-5 21h0m92 7h0m-63-3h0m-20 11h0m-184 31h0m158 3h0m137-6h0m-113 30h0m68 4h0m-133 12h0"/><path class="c2" d="M1131 439h0m83 4h0m-113 48h0m89 8h0m-238 5h0m-26 11h0m60 0h0"/><path class="c4" d="M1135 410h0m12 15h0m-38-2h0m-26 10h0m126 12h0m-125 4h0m-28 12h0m33-5h0m138 11h0m-68 12h0m-64-5h0m-9-4h0m1 16h0m120 16h0m-5 2h0m-29-11h0m-137 1h0m87 17h0m76 3h0m30-6h0m-9 12h0m-116-1h0m70 25h0m-6-1h0m-121 2h0m-66 0h0m161 12h0"/><path class="c1" d="M1164 420h0m44 8h0m-35-4h0m-1 4h0m-12-1h0m-6 0h0m-22-5h0m-2 7h0m-16-6h0m-26 10h0m18 5h0m23-4h0m6 4h0m31 1h0m2 3h0m6-9h0m18-1h0m14 3h0m2 18h0m-18-9h0m-27 2h0m-69-1h0m-29 13h0m36 1h0m11 5h0m6-5h0m39 1h0m20-3h0m3-1h0m13 1h0m28 10h0m12-8h0m-19 18h0m-114 0h0m-16-7h0m-18 1h0m-21 8h0m-8 8h0m21-4h0m19 5h0m24-5h0m3-3h0m20 10h0m5 1h0m2-3h0m31-1h0m38 4h0m17-7h0m4 6h0m15 3h0m-16 8h0m-12-6h0m-17-2h0m-26 1h0m-29 9h0m-24-2h0m-94 1h0m-14 2h0m-48 4h0m3 2h0m4 2h0m2-8h0m120 2h0m40 0h0m1 9h0m50 0h0m25-10h0m34 0h0m-14 17h0m-37 5h0m-25-10h0m-21 6h0m-9 4h0m-18-1h0m-65-4h0m-5-2h0m-52 2h0m-33-1h0m6 8h0m10 5h0m13 0h0m28 3h0m7-1h0m27 3h0m35-7h0m52-2h0m17 9h0m6-8h0m50 5h0m6 1h0m-86 14h0m-8-10h0m-20 9h0m-15-7h0m-5 4h0m-23-5h0m-7 2h0m-3-3h0m-12 2h0m-62 0h0m136 13h0"/><path class="c2" d="M1224 447h0m-219 54h0m-38 6h0m134 6h0m17 12h0m-110 5h0m120 5h0m35-5h0m33 5h0m-191 10h0m-49-3h0"/><path class="c0" d="M1163 432h0m56 13h0m-33 25h0m-136 7h0m82 25h0m-164 9h0m81 5h0m25-6h0m50 17h0m-68-9h0m-74 18h0m-19 5h0"/><path class="c4" d="M1120 419h0m4 11h0m-46 9h0m31-6h0m46 21h0m-57 1h0m96 24h0m-174 5h0m161 2h0m19 1h0m19-7h0m-26 17h0m-82 0h0m-16 0h0m-27 6h0m-92 13h0m68-5h0m18 5h0m18-10h0m41 12h0m-133 10h0m65 6h0m32 3h0m21-5h0m-127 12h0m139 19h0m19-10h0"/><path class="c5" d="M1196 415h0m-20 55h0m-76 3h0m-69 7h0m184 14h0"/><path class="c3" d="M1149 409h0m4 8h0m40-1h0m-75 4h0m-4 22h0m8-1h0m17-7h0m29-2h0m57 16h0m-80 2h0m-22 4h0m-27-6h0m-3 6h0m-6-10h0m-3 2h0m-4 15h0m10 5h0m19 2h0m17-6h0m47-6h0m57 2h0m9 19h0m-47-5h0m-27-3h0m-20 7h0m-12-6h0m-33 8h0m-38-6h0m-39 18h0m9-1h0m74-7h0m63 8h0m10-6h0m8-2h0m6 3h0m37 3h0m5-5h0m0 19h0m-16 2h0m-34-2h0m-10-4h0m-16-2h0m-25 1h0m-26-1h0m-105 0h0m-32 2h0m-4 2h0m-35 10h0m85-3h0m71 5h0m10 1h0m23-4h0m58 4h0m35-1h0m2-2h0m10 16h0m-50-2h0m-5 2h0m-45-4h0m-32-1h0m-17-2h0m-7-2h0m0 8h0m-9 1h0m-13-3h0m-34 2h0m-14-7h0m-55 1h0m-15 8h0m-1-5h0m25 15h0m11 2h0m23-1h0m52-2h0m26-2h0m72 7h0m-109 7h0m-26-6h0m47 12h0m64 1h0m14 8h0"/><path class="c0" d="M1197 421h0m-76 5h0m56 8h0m28 8h0m-133 9h0m-7 11h0m121 55h0m-87 6h0m-163-5h0m184 15h0m-83 9h0"/><path class="c5" d="M1198 450h0m-32 49h0m-185 0h0m194 7h0m28 5h0m-206 25h0"/><path class="c1" d="M1167 407h0m16 18h0m-109 15h0m44-3h0m36 6h0m41-3h0m19-2h0m-5 10h0m-7-3h0m-3 8h0m-2-6h0m-38 1h0m-13 2h0m-67 3h0m-4 0h0m61 11h0m31-8h0m18 1h0m32 1h0m19 12h0m-7 0h0m-17 10h0m-20-4h0m-24 2h0m-20 0h0m-5-10h0m-6 2h0m-14 2h0m-65 7h0m-5-5h0m-12 10h0m29 1h0m0 6h0m13-8h0m43 2h0m29 4h0m77-5h0m8-1h0m-50 12h0m-31 6h0m-45 0h0m-13 0h0m-24-2h0m-16-4h0m-7-3h0m-3 4h0m-12-1h0m-42 2h0m-4 3h0m-4 12h0m31 2h0m35-9h0m11-1h0m8 7h0m23-4h0m51 5h0m9-4h0m43 7h0m7 0h0m0-7h0m-101 9h0m-15-1h0m-1 9h0m-35-6h0m-16 5h0m-15 4h0m-32-7h0m-15-1h0m-6 2h0m-20 3h0m-29-1h0m-3-3h0m23 16h0m61-8h0m8 11h0m7-2h0m43-6h0m48 2h0m26 5h0m25-2h0m12 10h0m-103-2h0m-51 0h0m49 15h0m15-4h0m78-3h0"/><path class="c2" d="M1130 445h0m-2 20h0m69 10h0m34 6h0m-196 22h0m194 15h0m-290 19h0m52-5h0m44 7h0m119-1h0m-6 2h0m-29 10h0m-54-7h0"/><path class="c3" d="M1140 411h0m10 0h0m19 7h0m33 8h0m-11 0h0m-10-6h0m-45 1h0m-7 0h0m-11 6h0m-10 0h0m-2 0h0m-3 11h0m108 6h0m8-7h0m-35 16h0m-15-7h0m-15 6h0m0-5h0m-3-3h0m-17 6h0m-8 4h0m-80 14h0m13-1h0m43-1h0m24-9h0m100 2h0m-15 17h0m-33-3h0m-46 0h0m-11-5h0m-37 6h0m-27 3h0m-5 7h0m2-4h0m22 1h0m14 2h0m27 7h0m13-5h0m3 0h0m76 0h0m14 15h0m-51 0h0m-8 4h0m-47-8h0m-20 3h0m-10-2h0m-13 5h0m-6-3h0m-145 17h0m37 0h0m72-9h0m83 7h0m8-9h0m10 5h0m19 1h0m11-1h0m10 6h0m11-2h0m4-9h0m13 3h0m8 6h0m-16 12h0m-12-3h0m-34 3h0m-33 1h0m-1-2h0m-65-6h0m-41-1h0m-22 7h0m-26-6h0m-11 8h0m-7-2h0m11 6h0m20-2h0m71 4h0m56 3h0m25-7h0m60 7h0m-38 9h0m-22 3h0m-13-7h0m-1 7h0m-10-3h0m-1-2h0m-7-1h0m-2 9h0m-1-3h0m-60-2h0m-11 3h0m-8-4h0m59 8h0m22 4h0m46 2h0m14-4h0"/><path class="c4" d="M1082 437h0m74 29h0m52 4h0m-6 8h0m-26 1h0m-108 3h0m26 2h0m49-4h0m62 15h0m-224 15h0m26-3h0m72-1h0m-104 17h0m198 15h0m-148 7h0m60 8h0"/><path class="c0" d="M1172 405h0m45 27h0m-152 11h0m3-2h0m-18 14h0m193 17h0m-206-2h0m-11 9h0m-48 20h0m-14 1h0m266 24h0m-85 34h0"/><path class="c3" d="M1181 406h0m-10-2h0m-50 11h0m1-3h0m-72 41h0m189 6h0m-236 31h0m240-2h0m-4 9h0m-26 42h0m-73 20h0"/><path class="c1" d="M1177 407h0m-23-1h0m0 2h0m-12 0h0m-36 10h0m2 2h0m91-4h0m-135 27h0m156-8h0m3 5h0m16 55h0m-1 4h0m-247-4h0m-7 3h0m-2-2h0m-38 6h0m287 25h0m-20 10h0m-14 8h0m-4 3h0m-57 13h0m7-4h0m22-1h0m5-3h0"/><path class="c3" d="M1188 411h0m-99 16h0m-4 2h0m-28 18h0m-34 33h0m218 11h0m-11 36h0m-69 29h0m12-2h0m0-1h0"/><path class="c1" d="M1187 407h0m-80 12h0m26-10h0m66 8h0m16 10h0m-2 1h0m-122 0h0m-4 1h0m-17 9h0m154 2h0m-170 11h0m188 17h0m-1 5h0m-197-4h0m-13 6h0m-6 4h0m-22 11h0m-5 2h0m-4 1h0m-14 4h0m-5-1h0m-5 2h0m-33 6h0m5 0h0m279 30h0m-12 6h0m-5 4h0m-9 1h0m-63 19h0"/><path class="c0" d="M1146 407h0m-16 5h0m102 38h0m-182 12h0m-20 13h0m-14 9h0m-90 27h0m305 7h0m-90 38h0m13 1h0m6 0h0"/><path class="c1" d="M1162 406h0m-49 9h0m4 1h0m12-4h0m65-1h0m0 3h0m10 4h0m-128 17h0m2-3h0m142 1h0m13 21h0m-6-8h0m-182 22h0m-21 11h0m214 18h0m-293 5h0m-5 1h0m-19 9h0m7-1h0m1-3h0m301 16h0"/><path class="c0" d="M1207 421h0m-126 7h0m152 26h0m-5-9h0m-166 2h0m-3 1h0m180 17h0m1 0h0m-229 20h0m228 4h0m-244 7h0m-20 2h0m-57 15h0m314 10h0m-42 27h0m-6-1h0m-33 6h0"/><path class="c3" d="M1175 408h0m-18-4h0m-41 10h0m-34 16h0m-30 27h0m190 23h0m-285 22h0m251 39h0"/><path class="c1" d="M1027 478h0m33 21h0m-28-1h0m-19 5h0m-52 3h0m6 0h0m7 6h0m20-2h0m54 4h0m5-2h0m19 2h0m8-1h0m-51 10h0m-71-4h0m0 15h0m21 6h0m20-5h0m19-1h0m28 1h0m7 4h0m-2 10h0"/><path class="c3" d="M1055 470h0m-25 12h0m48 10h0m-21 9h0m-17-3h0m-61 2h0m-9 4h0m19 1h0m0 11h0m22-3h0m18 1h0m22-6h0m8 5h0m29 3h0m-7 11h0m-3-9h0m-28 9h0m-30-1h0m-40-2h0m-1-4h0m-16-3h0m-7 4h0m23 16h0m3 0h0m53-5h0m50 14h0m-3 0h0m-25 4h0m-26-9h0m-41 6h0m66 11h0"/><path class="c4" d="M1043 476h0m-6 0h0m-8 13h0m46 1h0m-49 9h0m-9 9h0m46 10h0m-92 16h0m4 4h0m97 17h0"/><path class="c5" d="M1026 481h0m-8 64h0"/><path class="c0" d="M1029 484h0m-53 14h0m58 37h0m27 21h0"/><path class="c2" d="M1067 505h0m0 10h0m-15 30h0"/><path class="c4" d="M1032 476h0m-40 20h0m-4 3h0m-3 3h0m-4 0h0m-16 11h0m78 4h0m-5 4h0m-83 3h0m17 16h0m19-6h0m78-3h0m2 7h0m1-8h0m11 17h0m-88-2h0"/><path class="c0" d="M1077 496h0m-9 0h0m-16 27h0"/><path class="c3" d="M1045 482h0m2 2h0m1-1h0m21-1h0m1 10h0m1-4h0m1 10h0m-19-6h0m-43 10h0m-25-5h0m22 8h0m56-1h0m12 15h0m-14 5h0m0-2h0m-46 1h0m-14-2h0m-9 1h0m-22 14h0m12-7h0m20 0h0m18 10h0m27 0h0m34-7h0m4 10h0m-28 0h0m19 13h0m3 2h0"/><path class="c5" d="M1012 542h0m63 23h0"/><path class="c1" d="M1065 475h0m-42 11h0m11 2h0m31-2h0m-30 15h0m-70 0h0m-4 12h0m11-2h0m114 9h0m-41-3h0m-67 11h0m48 7h0m33 7h0m-42 0h0"/><path class="c4" d="M1061 478h0m-3 24h0m-10-6h0m-47 15h0m32-3h0m-70 16h0m46 9h0m50 5h0m-16 12h0m0-9h0m28 23h0"/><path class="c1" d="M1057 479h0m-18-5h0m-25 26h0m1 13h0m8-5h0m3 1h0m33 1h0m-15 10h0m-8 6h0m-27 0h0m-47 13h0m2-5h0m12-2h0m53 3h0m3-3h0m11-2h0m31 18h0m-4 13h0"/><path class="c0" d="M983 510h0m42 1h0m-13 21h0m-10 14h0"/><path class="c5" d="M1046 474h0m-12 1h0m23 43h0"/><path class="c3" d="M1062 480h0m-10-10h0m-3 4h0m-30 18h0m8-4h0m14-3h0m18-4h0m2 11h0m7-2h0m-42 3h0m-11 0h0m-5 4h0m-8 3h0m-3-1h0m72 23h0m-18 5h0m-24-1h0m-6 0h0m-4-7h0m-14 6h0m-11-7h0m-24-1h0m-13 8h0m-9 1h0m45 12h0m47-10h0m46 4h0m-7 9h0m-11 8h0m-28-2h0m-2-6h0m-18 4h0m-39-2h0"/><path class="c2" d="M973 518h0m-11 11h0m113 13h0m-15 6h0m-24 3h0"/><path class="c5" d="M1010 520h0m69 31h0m-22-7h0m-95 0h0"/><path class="c2" d="M1008 491h0m66 34h0m-120-4h0m124 12h0m-93 14h0"/><path class="c0" d="M1038 480h0"/><path class="c4" d="M1050 489h0m29 12h0m-36 0h0m-70 2h0m-13 7h0m75 4h0m9-7h0m21 19h0m-15-5h0m-4 5h0m-22-9h0m21 19h0m8 4h0m-29 9h0"/><path class="c1" d="M1046 479h0m0-9h0m-27 14h0m16-1h0m18 15h0m-28 5h0m-8-7h0m-22 5h0m-17 11h0m23-7h0m13 11h0m1-8h0m-20 19h0m-16-11h0m-10 7h0m41 6h0m0 7h0m17-1h0m30-5h0m5 17h0m-49-3h0m-23-1h0m66 11h0"/><path class="c3" d="M1053 473h0m10 30h0m-16-8h0m-8-1h0m-6 3h0m-4 5h0m-25-7h0m42 19h0m12-8h0m18 3h0m5 13h0m-52-5h0m-25 0h0m-18 1h0m-12 6h0m-19 15h0m1-5h0m52-4h0m13-1h0m1 6h0m28-3h0m22 13h0m-9 6h0m-48-3h0m-11-8h0m-2 7h0m59 7h0m22-1h0"/><path class="c1" d="M1053 481h0m1 4h0m-62 15h0m-22 11h0m1 3h0m51 0h0m15-7h0m40 16h0m-106-3h0m-13 8h0m-2 8h0m19-5h0m58-3h0m32 16h0m-42-2h0m-54 4h0m0-4h0"/><path class="c5" d="M1056 491h0m-69 24h0m1 4h0"/><path class="c3" d="M1014 486h0m24 1h0m11-3h0m-4 18h0m-21-7h0m-3 0h0m-13 4h0m-39 2h0m7 8h0m50-3h0m7 9h0m9-5h0m32 4h0m-6 5h0m-16-2h0m-33 4h0m-3 3h0m-49-3h0m-16 7h0m88 8h0m23 2h0m4-8h0m0 4h0m19-6h0m-36 17h0m-3-3h0m-16 5h0m-24 1h0m-7-3h0m-5-3h0m72 19h0"/><path class="c2" d="M964 529h0"/><path class="c4" d="M1045 467h0m-23 21h0m22 8h0m-12 6h0m-28-6h0m2 15h0m66-6h0m-18 21h0m-71-8h0m-27 1h0m31 17h0m9 2h0m22 0h0m61-9h0m2 7h0m-34 11h0m-20-6h0m-17 1h0"/><path class="c0" d="M996 504h0m75 21h0m-3 14h0"/><path class="c5" d="M1055 492h0m-3 12h0m-35-1h0m42 17h0m-25 6h0m-67 19h0"/><path class="c4" d="M1017 491h0m28 0h0m30 10h0m-1-7h0m-8 0h0m-90 10h0m23 9h0m79-5h0m8 3h0m-101 16h0m-1-5h0m-24 0h0m-9 14h0m14 4h0m36-3h0m75 7h0m-30 1h0m20 9h0m7 0h0"/><path class="c3" d="M1041 489h0m28-5h0m-11 13h0m-47-2h0m-30 11h0m13 7h0m17 2h0m57-5h0m10-4h0m-8 11h0m-39 11h0m-4-7h0m-9 7h0m-50 7h0m17-1h0m5-5h0m9 11h0m87-2h0m-21 5h0m-91 1h0"/><path class="c1" d="M1032 487h0m4 16h0m-31-2h0m-49 14h0m32-6h0m32-5h0m27 5h0m40 17h0m-117 1h0m102 6h0m4-2h0m-43 15h0m-1 3h0m-14-1h0m-28-7h0"/><path class="c0" d="M1064 508h0m-25 9h0m13 36h0"/><path class="c2" d="M1039 509h0"/><path class="c4" d="M1058 472h0m-46 19h0m-28 15h0m7 5h0m49 1h0m43 6h0m-82-1h0m-2 3h0m-6 10h0m4-1h0m6 6h0m56-3h0m-79 13h0m84 14h0"/><path class="c0" d="M984 515h0m-8 11h0m-9 10h0m97-6h0m-57 17h0"/><path class="c1" d="M1023 481h0m30 7h0m29 8h0m-31 5h0m-52 9h0m48-4h0m-6 20h0m-35-5h0m-7 5h0m-16 8h0m24 3h0m62 5h0m-44 5h0"/><path class="c5" d="M1061 491h0m0 28h0"/><path class="c2" d="M965 509h0m29-2h0"/><path class="c3" d="M1063 474h0m-13 3h0m-10-6h0m-7 21h0m28-7h0m9 17h0m-27-10h0m-28 12h0m-13-9h0m4 19h0m3-3h0m22-6h0m25 5h0m8 2h0m15-6h0m5 1h0m-7 19h0m-22-6h0m-19 0h0m-44 5h0m-18-3h0m-15 17h0m35-5h0m30-5h0m19 5h0m14 0h0m20 3h0m-32 14h0m-19-3h0m-41-6h0m63 12h0m21 2h0"/><path class="c0" d="M1021 552h0m-63 6h0m0-5h0m10 10h0m13-2h0m28 2h0m3-2h0m16-6h0m2 2h0m7 0h0m21 3h0m8 4h0m-31 3h0m-10-3h0m-78 23h0m81-7h0m29-3h0m14 17h0m-2 4h0m-36-1h0m-51 3h0m3 4h0m6 1h0m22-2h0"/><path class="c6" d="M1046 571h0m-76 1h0m-3 7h0m6 4h0"/><path class="c3" d="M1019 563h0m46 2h0m-65 4h0m-10 4h0m-8-1h0m57 11h0m-21 20h0"/><path class="c1" d="M949 574h0"/><path class="c5" d="M990 551h0m17 1h0m39 10h0m-59 4h0m-7 4h0m16 16h0m69-4h0m-77 13h0m-18 4h0"/><path class="c4" d="M1029 561h0m9-9h0m12 3h0m-12 19h0m-9 0h0m-38-5h0m-14-3h0m-26 5h0m6 15h0m43-4h0m19-6h0m40 10h0m11-8h0m6 12h0m-50 8h0m-11-4h0m-38 11h0m48 0h0m15 0h0m6 5h0m7-6h0"/><path class="c3" d="M983 550h0m-20 10h0m67 22h0m48 0h0m-61 6h0m-6 1h0m-58 5h0"/><path class="c0" d="M996 548h0m-41 4h0m58 4h0m33 2h0m-29 11h0m-60 3h0m3 5h0m14 10h0m26-1h0m5-8h0m2 2h0m10 0h0m3 2h0m54 3h0m-17 4h0m-29 11h0m-20-11h0m-9 0h0m-29 0h0m-4 3h0m-10 1h0m-7 0h0m49 11h0m7-3h0m36 8h0"/><path class="c6" d="M947 570h0"/><path class="c1" d="M970 562h0m-6 13h0m2 25h0"/><path class="c5" d="M962 549h0m-11 14h0m9-9h0m39 5h0m35-7h0m24 19h0m-106 12h0m33-4h0m9 7h0m50 14h0m-75 0h0m-13 1h0m55 1h0m29-2h0"/><path class="c4" d="M970 557h0m26-2h0m47 20h0m-83 0h0m24 12h0m7-9h0m77 15h0m-3 3h0m-32-7h0m-51 6h0m-17 9h0m38-1h0m35 6h0m22-4h0"/><path class="c0" d="M991 561h0m4 2h0m69-2h0m11 11h0m-5-4h0m-46 1h0m-33-3h0m-36 2h0m56 15h0m4 2h0m25 10h0m-10-3h0m-70 6h0m37 2h0m3 1h0"/><path class="c3" d="M989 549h0m84 25h0m-30-9h0m-93 1h0m25 15h0m91 10h0m-9 6h0m-7 1h0m-8-4h0m-47-4h0m-7 12h0m17 7h0"/><path class="c1" d="M1006 558h0m11 3h0m-1 14h0m25 11h0m14-3h0"/><path class="c6" d="M1061 559h0m-48 37h0"/><path class="c5" d="M1004 560h0m33 11h0m-12-6h0m-17 11h0m-46 8h0m5 1h0m25-3h0m35 3h0m40-7h0m-20 19h0m-12 3h0"/><path class="c4" d="M968 550h0m3 9h0m7-1h0m23 3h0m31-5h0m14 1h0m13 18h0m-19-10h0m-23 3h0m-9-2h0m-9 9h0m-1-6h0m-16 4h0m-15 0h0m-2 9h0m40 1h0m10-5h0m2 6h0m18-2h0m10-5h0m2 5h0m3 4h0m13-2h0m1-5h0m-4 16h0m-2-2h0m-51 3h0m-16 3h0m-4-10h0m-9-1h0m-22 7h0m7 7h0m15 5h0m29-3h0m4 6h0m41-2h0"/><path class="c5" d="M1070 569h0m-102 10h0m10-1h0m8 6h0m73-2h0m-34 8h0m-3 1h0m-61 3h0m35 11h0m55-3h0"/><path class="c3" d="M956 559h0m31-7h0m81 22h0m-105-7h0m113 12h0m-9 20h0m-29-9h0m-40 5h0m24 15h0m9-4h0"/><path class="c6" d="M1049 562h0m-102 15h0"/><path class="c1" d="M963 552h0m62 8h0m4 10h0m-63-2h0m8 22h0"/><path class="c0" d="M953 554h0m36 2h0m5-2h0m68 14h0m-10 7h0m-57-2h0m-9 1h0m-11 1h0m-16-10h0m-3 14h0m14 5h0m13 4h0m7 0h0m54-6h0m7-1h0m-23 17h0m-65-2h0m-9-8h0m-5 3h0m32 11h0m68 6h0m5-6h0"/><path class="c3" d="M977 552h0m52 16h0m-25-3h0m-57 17h0m75-4h0m45 3h0"/><path class="c5" d="M976 549h0m6 11h0m52-1h0m8 1h0m37 15h0m-29-10h0m-76 0h0m99 24h0m-26 0h0m-43 4h0m-11 0h0m72 11h0"/><path class="c1" d="M1034 562h0m-21 4h0m-19 17h0m30 3h0m30-1h0m-69 10h0"/><path class="c4" d="M956 563h0m67-7h0m41 19h0m-12-11h0m-19 11h0m-3-3h0m-79 12h0m54 2h0m-3 7h0m17 15h0m25-2h0"/><path class="c6" d="M976 593h0"/><path class="c0" d="M972 553h0m12 10h0m5 0h0m3-1h0m7-7h0m7 7h0m13-2h0m40 2h0m11-1h0m-2 8h0m-4 0h0m-10-2h0m-8 7h0m-33-1h0m-10 0h0m-32 1h0m14 8h0m24 4h0m24 0h0m19 5h0m-50 7h0m-7 0h0m-15 6h0m37-4h0m6 0h0m12 6h0m14 0h0m8 2h0"/><path class="c3" d="M974 554h0m66 8h0m-34 10h0m-32 5h0m81 1h0m-9 13h0m-85 0h0"/><path class="c4" d="M958 553h0m11 5h0m11-3h0m38-2h0m55 14h0m-25 0h0m-26 0h0m-21-1h0m-19 1h0m-4 18h0m2-3h0m91 9h0m-88 16h0m72-3h0"/><path class="c0" d="M996 551h0m-48 10h0m17-6h0m8 6h0m12-5h0m25 4h0m18-7h0m9 11h0m0-8h0m2-2h0m-63 16h0m12 8h0m20 0h0m58 7h0m-12 7h0m-10-2h0m-21 5h0m-5-2h0m-7 0h0m-37 12h0m1-5h0m89 1h0"/><path class="c1" d="M1004 555h0m22 21h0m-56 7h0m65 1h0m37 15h0m-91-3h0m-12 8h0m33 3h0"/><path class="c6" d="M949 560h0m11 2h0m89 15h0m-80 14h0m46 9h0"/><path class="c5" d="M1041 571h0m-45 7h0m40-1h0m-17 21h0m-24-5h0m-30-4h0m-11 10h0"/><path class="c6" d="M1043 598h0"/><path class="c1" d="M1002 549h0m-56 8h0"/><path class="c3" d="M966 570h0m-12 2h0m1 10h0m107 6h0m-86 11h0"/><path class="c4" d="M1053 560h0m-41 12h0m-9 5h0m24 4h0m15-3h0m30 9h0m2-5h0m-10 10h0m-14 0h0m-32 6h0m-14-7h0m-7 16h0m76-7h0"/><path class="c5" d="M986 560h0m11-8h0m27 1h0m33 23h0m-36-4h0m-58-1h0m81 16h0m-25 16h0m13-1h0"/><path class="c0" d="M994 561h0m16-9h0m0 2h0m8 0h0m37 15h0m-7 1h0m-39-2h0m-15-1h0m-7 4h0m-35 5h0m9 7h0m69 5h0m2-11h0m3 17h0m-9-1h0m-36 2h0m-10-2h0m-8 5h0m43 11h0m43-8h0"/><path class="c1" d="M1119 567h0m-2 9h0m-27-5h0m-12 11h0m6 4h0m24-7h0m5 2h0m5 6h0m1-6h0m2-1h0m5-3h0m-6 20h0m-11-1h0m-15-3h0m-12 1h0m43 13h0m-19 11h0m-15-6h0"/><path class="c2" d="M1124 573h0m-45 2h0m18 7h0m31-2h0m-13 17h0m-13-2h0m-4 2h0m-14-3h0m20 9h0m19 8h0"/><path class="c0" d="M1113 572h0m-7-4h0m-10 4h0m-10 2h0m-10 0h0m4 14h0m3-7h0m7-2h0m34 6h0m-7 5h0m-10 4h0m-21 12h0m11 5h0m14-8h0m3 5h0m8-4h0m-12 14h0m-6-3h0"/><path class="c3" d="M1108 572h0m-26 7h0m6 5h0m4 14h0"/><path class="c1" d="M1115 570h0m-12-1h0m-20 0h0m-1 15h0m11-1h0m3 4h0m2-3h0m5-4h0m20 7h0m-12 12h0m-8 0h0m-19 0h0m-4 0h0m7 6h0m2 4h0m2-7h0m11 10h0m10-4h0m11-8h0m3 14h0"/><path class="c2" d="M1084 577h0m5 5h0m16 5h0m3-4h0m19 5h0m-28 1h0m-6 5h0m-6 1h0m11 13h0m16 2h0m4 1h0m-8 3h0"/><path class="c0" d="M1117 574h0m-6-5h0m-4 3h0m-9-2h0m-3-1h0m-7 7h0m-4-5h0m-12 0h0m3 8h0m18-1h0m6-1h0m4 0h0m9 1h0m0 8h0m13 7h0m-14-4h0m0 4h0m-9 1h0m-3-1h0m-2 7h0m-7-7h0m-7-3h0m-1 3h0m6 9h0m7 7h0m3-7h0m4 0h0m7 6h0m1 2h0m9-7h0m3-2h0m3 4h0m-5 8h0m-5 2h0m-6 0h0"/><path class="c2" d="M1122 566h0m-31 8h0m29 2h0m-5 23h0m-9-2h0m-12-7h0m18 13h0m-13 10h0"/><path class="c3" d="M1107 610h0"/><path class="c1" d="M1126 573h0m-3-4h0m-4 2h0m-20 3h0m-18-4h0m-6 13h0m12 5h0m15-8h0m1 5h0m5-7h0m9 7h0m4-2h0m0 15h0m-1-6h0m-8-3h0m-6 10h0m-21-1h0m-2-1h0m-6-6h0m-5 17h0m32 0h0m15-1h0m-46 7h0m-6 8h0m-3 0h0m-21 10h0m10-1h0m3-4h0m3 5h0m1 1h0m4-8h0m2 1h0m-17 14h0m-1-2h0m-7 7h0m-1-3h0m-1 1h0m-5 3h0m-3-9h0m-1 11h0m-1-6h0m-1-2h0m-5 1h0m0 6h0"/><path class="c4" d="M1075 602h0m9-2h0m-19 24h0m-16 11h0m1-5h0m7 3h0m1-5h0m4-1h0m-17 10h0m-8 9h0m-15-4h0"/><path class="c3" d="M1086 598h0m-3-1h0m-4 0h0m2 7h0m-4 13h0m-3 0h0m-7-3h0m-12 16h0m11-3h0m-26 18h0m-3-5h0m-15 4h0"/><path class="c0" d="M1083 604h0m-16 14h0m-6 11h0m-24 17h0m-9-8h0"/><path class="c2" d="M1078 595h0m-1 1h0m-7 14h0m4-4h0m3 7h0m-8 11h0m-19 5h0m1 2h0m4-6h0m8 2h0m4-1h0m-20 13h0"/><path class="c3" d="M1032 652h0m5 4h0m-6 14h0m-1-9h0m-3 14h0m5 8h0m1-5h0m2 0h0m3-3h0m-5 21h0m-4-11h0m-1 10h0m0-2h0"/><path class="c0" d="M1034 662h0m-5 11h0m5 15h0m-5-1h0"/><path class="c4" d="M1034 671h0m-5-7h0m5 8h0m-1 13h0"/><path class="c5" d="M1028 683h0m2-7h0"/><path class="c2" d="M1030 660h0m5 4h0m-7 0h0m-2 8h0m1 3h0m0 4h0m1 1h0m10-3h0m-5 19h0m0-5h0m-4-2h0m-1-5h0m1 13h0"/><path class="c1" d="M1072 647h0m-40 6h0m0 2h0m40-6h0m2 3h0m1 8h0m-37 2h0m-1 3h0m-6-2h0m0 15h0m2 11h0"/><path class="c4" d="M1071 647h0m-2-6h0m-2-5h0m6 17h0"/><path class="c3" d="M1073 644h0m-1-5h0m0 2h0m1 8h0m1 4h0m1 7h0m2 3h0m-3-1h0m-3 1h0"/><path class="c0" d="M1075 651h0"/><path class="c3" d="M991 613h0m-6 8h0m-3 1h0m-1 1h0m10 10h0m-15 4h0"/><path class="c1" d="M997 642h0"/><path class="c0" d="M1100 622h0m-7-2h0m-80-7h0m-7 7h0m-5-2h0m-3 4h0m-2 0h0m-2 0h0m-11 1h0m-4-9h0m-2 5h0m0 17h0m2-12h0m7 2h0m1 4h0m9 3h0m4-3h0m7-1h0m9-4h0m76 1h0m12 1h0m1 3h0m13 14h0m-7 1h0m-5 3h0m-107-4h0m-1 1h0m-5 1h0m-17 1h0m-1-10h0m-3 3h0m6 14h0m5 2h0m3 3h0m7-1h0m0-4h0m4-1h0m16 6h0m89-1h0m5-9h0m10 9h0m-104 3h0"/><path class="c3" d="M1101 634h0"/><path class="c1" d="M1080 635h0m9-5h0m64 15h0m-8-5h0m-4 4h0m-10 7h0m2 7h0m5 2h0m0-7h0m6-4h0m4 1h0m-17 17h0"/><path class="c4" d="M1150 638h0"/><path class="c0" d="M1130 655h0m1-6h0m3 2h0"/><path class="c3" d="M1156 636h0m-6 8h0m-11 3h0m-4 0h0m-6 13h0m10-4h0m4-4h0m2 1h0"/><path class="c2" d="M1148 635h0m3 0h0m7 6h0m-1-1h0m-4-3h0m-2 6h0m-3 0h0m-1 3h0m-1-8h0m-4 2h0m-2 3h0m-4 1h0m-8 11h0m1-6h0m7 8h0m4-7h0m11-2h0m-18 16h0m-5-1h0m-3 2h0"/><path class="c3" d="M1186 676h0m10 6h0m13-3h0m-2 15h0m-14 2h0m-31 5h0m21 4h0m26-1h0m-5 8h0"/><path class="c0" d="M1172 682h0m3 2h0m15-8h0m5 4h0m11-6h0m2 9h0m8-5h0m2 13h0m0-5h0m-4 7h0m-10-9h0m0 5h0m-2-1h0m-1 7h0m-12-7h0m-3 5h0m-3-6h0m-4 2h0m-1-1h0m-13-1h0m-1 6h0m2 15h0m5-7h0m3-2h0m4-3h0m2 5h0m9 3h0m3 3h0m3-10h0m1 6h0m16 5h0m1-4h0m0-6h0m-7 10h0m-6 5h0m-3 4h0m-1-7h0m-7 7h0m-3-3h0m-4-2h0m-8-2h0m-3 0h0m-1-1h0"/><path class="c1" d="M1165 679h0m13 1h0m4 1h0m4 2h0m13-8h0m2 5h0m11-4h0m5 6h0m-23 10h0m-12 4h0m-9-7h0m-5 4h0m-5 1h0m10 3h0m27 3h0m15-1h0m-12 16h0m-6-6h0m-18 6h0m-2-7h0"/><path class="c2" d="M1105 762h0m29 29h0m-141 6h0m10-3h0m110 2h0m-101 18h0m18 14h0m6 7h0"/><path class="c0" d="M1191 731h0m-21 20h0m33-1h0m-115 9h0m-29 9h0m49 19h0m-81 36h0"/><path class="c5" d="M1115 750h0m32 38h0m-92 24h0m-58-7h0"/><path class="c1" d="M1218 702h0m-44 24h0m27-1h0m3 7h0m-30 11h0m-47 12h0m11-1h0m33-6h0m19 0h0m5 17h0m-12 2h0m-32-6h0m-4 3h0m-30-4h0m-53 4h0m-3 0h0m-23-5h0m40 17h0m47-5h0m14 5h0m12-7h0m38 5h0m-53 17h0m-12 0h0m-14-6h0m-45 5h0m-48-1h0m-16-5h0m8 14h0m72-4h0m20 3h0m25 4h0m-41 12h0m-6-4h0m-10 2h0m-30-3h0m-11 1h0m6 11h0m11-2h0m4 0h0m25 0h0m3 4h0m12-5h0m-48 21h0m-2-10h0"/><path class="c4" d="M1250 665h0m-12 1h0m26 11h0m-91 55h0m10 10h0m13 19h0m-84 4h0m41 21h0m-22-3h0m-139 11h0m35-2h0m39 9h0m18 3h0m22-5h0m11 6h0m-45 1h0m-60-2h0"/><path class="c3" d="M1239 671h0m-23 45h0m-17 20h0m-18 2h0m-19-5h0m-40 15h0m9-1h0m12 5h0m27 16h0m-139-10h0m2 16h0m77 1h0m2 0h0m22-3h0m0-2h0m15 1h0m3 3h0m-10 15h0m-65-5h0m-39-1h0m-24 3h0m17 11h0m15 1h0m44 1h0m-88 16h0m17 11h0m33 6h0"/><path class="c2" d="M1184 722h0m-139 41h0m74 28h0m-111 12h0m53-6h0m54 10h0"/><path class="c1" d="M1254 671h0m-28 11h0m-11 35h0m-3 1h0m-37 2h0m-22 30h0m6 3h0m38-3h0m-75 13h0m-4-7h0m-27 10h0m-13-7h0m-54 16h0m26 1h0m11-4h0m68 3h0m64-6h0m-64 21h0m-12-7h0m-68 4h0m-20-4h0m-29 7h0m15 4h0m45 15h0m-40 3h0m-1-7h0m6 14h0m20 3h0"/><path class="c5" d="M1182 736h0m-76 22h0m-9 1h0m9 32h0m-62 2h0m47 16h0m-35 21h0"/><path class="c0" d="M1253 663h0m-180 106h0m-54 53h0"/><path class="c4" d="M1216 712h0m-34 21h0m-52 21h0m-32 18h0m48 6h0m24 4h0m-93 8h0m-10 15h0m-5 2h0m-13 22h0m-25-1h0"/><path class="c3" d="M1228 680h0m-16 30h0m-10 7h0m-37 26h0m-18-6h0m-10 15h0m20-3h0m6 1h0m-8 12h0m-23 0h0m-62 0h0m-1 3h0m-19-4h0m17 8h0m41 7h0m34-3h0m20-2h0m3 1h0m10 3h0m-26 11h0m-84-1h0m-6 1h0m-44 12h0m25-3h0m45 7h0m1 3h0m-5 8h0m-28-6h0m-14 10h0m2 17h0"/><path class="c4" d="M1237 668h0m-44 75h0m-53-7h0m45 27h0m-120 10h0m7-1h0m26 4h0m-10 8h0m-37-4h0m-37 20h0m17-5h0m3 9h0m20-11h0m80 4h0m-62 18h0m-8-1h0m-12-1h0m-26 2h0m-20 2h0m10 2h0"/><path class="c3" d="M1220 695h0m-15 21h0m-37 7h0m42-2h0m1 6h0m-26 10h0m-5-1h0m-23 4h0m-23 0h0m-22 4h0m2 12h0m38-2h0m34-9h0m9 2h0m-8 10h0m-27 9h0m-33-4h0m-17-4h0m-2 10h0m-3-5h0m-9-5h0m-5 2h0m-57-1h0m9 18h0m2-3h0m1-6h0m10 4h0m13 8h0m13-2h0m83-1h0m-64 7h0m-1-4h0m3 24h0m0 0h0m-95 10h0m54 11h0"/><path class="c0" d="M1165 732h0m44-7h0m-98 40h0m-34 15h0m21 21h0m-40 27h0m-32 7h0"/><path class="c5" d="M1125 755h0m48 1h0m-91 9h0m-65 15h0m106 6h0m-68 1h0m-26 17h0m107-11h0"/><path class="c1" d="M1241 669h0m25 10h0m-61 30h0m-37 35h0m12 8h0m10 2h0m0 9h0m-92 1h0m-14-4h0m-46 5h0m-4-3h0m57 14h0m46 1h0m19 4h0m-34 1h0m-27 7h0m-51 14h0m28-2h0m47-6h0m-23 18h0m-8-8h0m-14 2h0m-12 3h0m-22 1h0m-31 0h0m-7-2h0m4 18h0m6-1h0m10-4h0m28 0h0"/><path class="c2" d="M1190 723h0m-59 22h0m-25 65h0m-88 5h0m23 8h0"/><path class="c0" d="M1202 768h0m-103 0h0m1 10h0m22 18h0"/><path class="c3" d="M1157 729h0m13-4h0m3-2h0m21 3h0m2-5h0m-45 15h0m-67 19h0m9-2h0m39 3h0m-101 11h0m24 10h0m61-8h0m1 8h0m4 1h0m25-9h0m12 2h0m6-2h0m6 2h0m-29 13h0m-36-2h0m-55 9h0m-51 11h0m49-9h0m6 10h0m24-3h0m12 3h0m26 0h0m12-8h0m2-1h0m-70 21h0m-25-5h0m18 8h0"/><path class="c1" d="M1212 703h0m-34 16h0m-5 16h0m-38 8h0m-28 11h0m6-5h0m27-4h0m-28 22h0m-85 10h0m76-5h0m64 5h0m-9 9h0m-44-3h0m0-3h0m-27 8h0m-6-2h0m-10 5h0m-4-9h0m-55 2h0m115 13h0m-37 18h0m-15-2h0m-2-5h0m-17-2h0m-13 3h0m-31 15h0m18-4h0m41 3h0m9 0h0m-59 14h0"/><path class="c4" d="M1258 666h0m1 8h0m-38 12h0m-5 8h0m-7 9h0m-19 13h0m-20 24h0m-102 13h0m74 2h0m36 4h0m-55 1h0m-23-1h0m-31-2h0m-3-1h0m-2 3h0m94 19h0m-114 6h0m-3-3h0m-43 22h0m88-9h0m-41 10h0m-45 15h0"/><path class="c5" d="M1214 706h0m-31 17h0m-106 46h0m33 5h0m26-2h0m4-3h0m-106 44h0"/><path class="c2" d="M1123 768h0m-35 6h0m45 6h0m11 0h0m-33 2h0m-107 10h0m33 6h0m48 24h0m-73 8h0"/><path class="c1" d="M1232 678h0m-33 37h0m-34 14h0m36 3h0m-49 1h0m-36 12h0m77 5h0m-13 14h0m-7-4h0m-92-4h0m-39 9h0m10 4h0m8 6h0m15-3h0m11 7h0m50 0h0m18-9h0m30 1h0m-122 17h0m-44 4h0m53 7h0m6 0h0m17-7h0m17 2h0m-105 17h0m20 20h0"/><path class="c0" d="M1188 719h0m6 11h0m3-2h0m-19 11h0m-15 14h0m-120 36h0m-7 0h0m-13-5h0m-2 5h0m-13-3h0m71 13h0m-42 25h0m20-6h0m8 3h0"/><path class="c3" d="M1261 672h0m-53 46h0m-14 20h0m-45-1h0m4 9h0m36 7h0m-4 7h0m-26 1h0m-12-2h0m-57 3h0m-14 2h0m-16-3h0m-8 2h0m-17 15h0m8-6h0m31 3h0m94 6h0m-69 9h0m-19 0h0m-41-4h0m-7-5h0m-3 7h0m-24 3h0m14 9h0m17 0h0m7 4h0m14-6h0m0-3h0m15 0h0m36 0h0m5 7h0m-19 3h0m-82 13h0m24 1h0m22 2h0m3 1h0m16 3h0m14-7h0m-45 12h0"/><path class="c2" d="M1211 707h0m-85 35h0m2 5h0m68-3h0m-30 20h0m-115 2h0m146 5h0m-80 22h0m6 10h0m-81 10h0m-19-1h0"/><path class="c4" d="M1235 674h0m-59 56h0m-11 8h0m-54 14h0m91 7h0m-36 0h0m-37 1h0m-75 5h0m7 15h0m116-11h0m-151 33h0"/><path class="c5" d="M1185 746h0m7 15h0m-40 3h0m-87 12h0m-69 19h0m19 33h0"/><path class="c3" d="M1203 709h0m-12 29h0m-23-2h0m-59 11h0m92 9h0m-44 10h0m-20-6h0m-9 6h0m-52-8h0m-12 9h0m14 5h0m3 7h0m1-9h0m1 3h0m11 1h0m25-1h0m9-1h0m47 2h0m-27 7h0m-22 5h0m-36-3h0m-35-1h0m0 7h0m-49 0h0m14 14h0m33-7h0m11-3h0m0 7h0m17 10h0m-31 1h0m-4 4h0m21 13h0m-18 6h0m-18 0h0"/><path class="c0" d="M1145 742h0m3 12h0m1-9h0m31 1h0m19 22h0m-29-4h0m-53 2h0m-78 34h0m60 4h0m-2 7h0m-95-4h0"/><path class="c5" d="M1136 763h0m-126 30h0m34 35h0"/><path class="c4" d="M1201 706h0m0 33h0m-35 7h0m-28 13h0m-38-2h0m77 19h0m-144 8h0m-19 25h0m19 17h0"/><path class="c2" d="M1161 756h0m-7 22h0m-20 6h0m-121 3h0m-15 11h0m4 0h0m24 11h0m-18-3h0m36 29h0"/><path class="c1" d="M1249 671h0m-5-2h0m-8 6h0m-25 41h0m-17 0h0m-1 2h0m-17 5h0m4 4h0m4 2h0m19-2h0m-1 15h0m-10-8h0m-32 9h0m0-7h0m0 4h0m-5-4h0m-67 18h0m34-2h0m3-1h0m17 1h0m3-4h0m4 7h0m19 0h0m7-5h0m2-2h0m20 7h0m7 2h0m-3 5h0m-25 1h0m-69-5h0m-11 6h0m-58 14h0m32-2h0m55 0h0m23 0h0m26-8h0m-23 12h0m-43 8h0m-14-7h0m-2 5h0m-3 1h0m-16-3h0m-3-1h0m-22-3h0m-2 9h0m-15-3h0m-21 15h0m14-3h0m25 3h0m11 1h0m7-4h0m10-4h0m18 4h0m2-4h0m4-1h0m7 10h0m11-6h0m-9 9h0m-9 5h0m-12 0h0m-66-6h0m-23 9h0m-2-4h0m5 12h0m7 0h0m12-2h0m47-1h0m13 0h0m-41 13h0"/><path class="c0" d="M1205 704h0m9-8h0m-32 31h0m-28 18h0m23 0h0m-142 24h0m3 3h0m2 24h0m-14 9h0m5 25h0m0 7h0m-7-6h0"/><path class="c2" d="M1142 741h0m-1 22h0m-113 15h0m153-6h0m-103 47h0m-40 14h0m-22 1h0"/><path class="c4" d="M1190 733h0m-52 7h0m37 17h0m-147 14h0m98 10h0m-27 2h0m-15 15h0m-5 7h0m-18 15h0"/><path class="c3" d="M1242 664h0m-24 26h0m-18 30h0m-17-3h0m3 10h0m19-4h0m3 6h0m-7 4h0m-37 2h0m-13 2h0m-61 19h0m30-7h0m19 0h0m17 7h0m26-1h0m7 5h0m-22-2h0m-35 10h0m-8-1h0m-38 0h0m-2-3h0m-12-5h0m-27 0h0m-7 9h0m14 3h0m34 7h0m15-10h0m57 2h0m5 9h0m25-11h0m-45 19h0m-110 2h0m-10-6h0m-5 1h0m8 14h0m8-4h0m32-2h0m45 16h0m-56 7h0m-16-1h0m15 13h0"/><path class="c5" d="M1148 749h0m35 2h0m21 14h0m-92 26h0m-2 5h0m-92 36h0"/><path class="c1" d="M1067 765h0m-46 15h0m7-4h0m23-7h0m5 0h0m9 0h0m-11 14h0m-11-1h0m-5 6h0m-15-5h0"/><path class="c0" d="M1073 767h0m-7-3h0m-45 15h0m8-7h0m1 2h0m1 4h0m2-8h0m1 0h0m3 5h0m3-2h0m1-1h0m13 3h0m3 4h0m0 1h0m8-9h0m0 1h0m3 2h0m1 5h0m2-4h0m-20 10h0m-1-4h0m-3 3h0m-5 6h0m-1 1h0m-1-9h0m0 7h0m-5-8h0m-8 10h0m-2-8h0m0 7h0m-1-8h0m-4 3h0m-3-1h0m9 11h0m4 0h0m93 7h0m11-3h0m-17 10h0m-4-2h0m-13 9h0m-5-1h0m-99-2h0m-1 1h0m9 7h0m76 5h0m8-7h0m-20 11h0m-4 1h0m-1 0h0m0 1h0m-5 1h0m-13 1h0m-7 3h0m-4 2h0m-3 0h0m-16-7h0m0 0h0m0-2h0m-8-1h0"/><path class="c1" d="M1063 692h0m-20 7h0m33-3h0m53 7h0m-3 7h0m0 9h0m-8-10h0m4 94h0m7-4h0m11-3h0m-19 11h0m-8 3h0m-7 4h0m-1-1h0m-1 2h0m-108 1h0m4 3h0m72 7h0m5-1h0m14-7h0m5 1h0m-31 9h0m-12 7h0m-11 1h0m-2 1h0m-6-1h0m-16-4h0m-3 2h0m0-2h0m-7-2h0"/><path class="c4" d="M1103 693h0m-48 2h0m-7-2h0m-3 8h0m10-2h0m1 0h0m4 7h0m91 8h0m-18 4h0m-4 2h0m-8-8h0m-2 2h0"/><path class="c2" d="M1098 684h0m6 1h0m-14 4h0m-25-1h0m-17 19h0m4-3h0m42-7h0m11 4h0m3 3h0m42 10h0m-2 5h0m-6-4h0m-18-6h0m-74 0h0m93 21h0m9-8h0"/><path class="c3" d="M1111 692h0m-2-8h0m-23 4h0m-7 8h0m41 6h0m3-5h0m23 19h0m-4-4h0m-14 8h0m22 9h0m1-2h0"/><path class="c0" d="M1089 684h0m10 6h0m-13-5h0m-1 9h0m-15-8h0m-6 20h0m14-7h0m41-1h0m20 20h0m-16 1h0m-71-8h0"/><path class="c4" d="M1107 685h0m-7 10h0m-4-10h0m-2 8h0m0 1h0m-27-2h0m-8 9h0m10 1h0m59 18h0m10 2h0"/><path class="c2" d="M1092 682h0m12 0h0m15 9h0m-12-4h0m-59 21h0m4-2h0m7-7h0m1 7h0m1 0h0m66 1h0m15 13h0"/><path class="c0" d="M1076 684h0m4 0h0m39 7h0m-26 0h0m-4 4h0m-44 9h0m33-5h0m75 16h0m-12-5h0"/><path class="c1" d="M1102 688h0m-43 2h0m8 15h0m58 3h0m10-3h0m9 8h0m-1-3h0m-28 1h0"/><path class="c5" d="M1074 682h0m55 18h0"/><path class="c3" d="M1116 691h0m-31 5h0m-11-1h0m0 1h0m39 11h0m5-11h0m25 20h0m-8-2h0"/><path class="c4" d="M1120 694h0m-9-3h0m-14-6h0m-36 5h0m-1-2h0m57 16h0m4-6h0m-1 16h0m9 7h0"/><path class="c3" d="M1114 694h0m-9-3h0m-12-2h0m-3-5h0m-5 3h0m-2-1h0m-13 8h0m-2-8h0m-9 4h0m2 16h0m36-6h0m5-3h0m30 17h0m10 12h0m7-3h0"/><path class="c2" d="M1123 694h0m-21-2h0m-11 4h0m31 4h0m4 1h0m-11 12h0m-66-3h0m79 14h0m22 6h0"/><path class="c5" d="M1063 697h0"/><path class="c0" d="M1112 695h0m-22-5h0m-3 3h0m-1-7h0m-23 2h0m-11 11h0m6 2h0m15-3h0m56 9h0m1-1h0m4 3h0m0 7h0m-19-3h0m32 10h0m0 7h0"/><path class="c1" d="M1093 695h0m-4-9h0m-17 6h0m-17 12h0m24-3h0m41 1h0m31 11h0m-96-1h0"/><path class="c0" d="M1071 694h0m-10 8h0m3 1h0m15 4h0m42 5h0m-3 7h0m-3-9h0m-9 5h0m-14 4h0m-10-10h0m-4 11h0m-4-3h0m-6 2h0m-4-7h0m-4 6h0m-2-7h0m12 18h0m9 2h0m6-10h0m3 8h0m2-1h0m7 4h0m6-6h0m1 4h0m1-9h0m3 5h0m13 2h0m2-6h0m2 6h0m1 1h0m-16 11h0m-19 1h0m0-7h0m-7-2h0m-2 3h0m-8 1h0m-6 0h0m-1-1h0"/><path class="c1" d="M1102 695h0m-11-1h0m-19 6h0m7-3h0m9 9h0m27-5h0m-3 14h0m-2 2h0m-3-8h0m-10 7h0m-5-4h0m-4-1h0m-8 3h0m-8-2h0m-6 7h0m-6-8h0m15 18h0m37-4h0m-3 10h0m0 4h0m-8 2h0m-20 5h0"/><path class="c3" d="M1098 698h0m5 6h0m10 4h0m-36 22h0m9 9h0"/><path class="c2" d="M1098 692h0m-18 4h0m3 8h0m8 2h0m16-1h0m-4 13h0m-5-8h0m-1 11h0m19 8h0m13 1h0m-38 6h0m-29 1h0m0-3h0"/><path class="c1" d="M1255 668h0m-10 3h0m0-10h0m-5 8h0m-3 0h0m-6 9h0m4-6h0m27 5h0m-35 11h0m-9 7h0m-3 2h0m3 1h0m-2 11h0m-5 3h0m-6 3h0m8 6h0"/><path class="c5" d="M1235 677h0m-29 29h0m14-6h0"/><path class="c2" d="M1260 670h0m-19-2h0m0 5h0m26 0h0m-49 23h0m4 2h0m-10 16h0"/><path class="c3" d="M1256 667h0m-13 0h0m-1-4h0m-2 8h0m-6 0h0m-4 3h0m7 0h0m0-1h0m15 0h0m8 1h0m7 0h0m-49 13h0m-3 23h0m-4 1h0m-1 1h0m-3 11h0m0-1h0m1 4h0"/><path class="c4" d="M1262 671h0m-27-1h0m-17 13h0m5 1h0m-9 36h0m-3 0h0"/><path class="c0" d="M1222 683h0"/><path class="c2" d="M1251 669h0m-14-6h0m0 5h0m-6 3h0m0 13h0m33-8h0m-39 15h0m-12 0h0m3 20h0m-5-1h0m-10 16h0"/><path class="c5" d="M1263 672h0m-11-8h0m0-1h0m-9 0h0"/><path class="c4" d="M1224 683h0m6-10h0m-26 41h0"/><path class="c0" d="M1235 672h0m0 3h0"/><path class="c1" d="M1252 662h0m-3-1h0m-20 8h0m24 5h0m-31 20h0m-1 1h0m-6-5h0m-4 16h0m-5 8h0m-2-1h0m-1 0h0"/><path class="c3" d="M1265 669h0m-3-3h0m-1 4h0m-24-9h0m-14 15h0m16-2h0m-20 17h0m-7 0h0m0 5h0m7 3h0m1 5h0m3-7h0m-11 12h0m-6 9h0m-1-9h0m-214 8h0m-6 1h0m-4-6h0m-4 0h0m-8 13h0m4 2h0m1 3h0m9-1h0m2-6h0m4 0h0m0 6h0m1-8h0m6 2h0m4 5h0m3-6h0m2 7h0m2-8h0m-14 17h0m-9-2h0m-6 2h0m-2 5h0m-3-9h0m-6 0h0m0 9h0m-13 6h0m5-3h0"/><path class="c4" d="M1000 718h0m-12-3h0m-7-1h0m16 11h0m4 2h0m-20 9h0m-2-4h0m-13 9h0m-4 6h0"/><path class="c0" d="M985 715h0m-3 4h0m-7-8h0m3 19h0m19 4h0m-10 4h0m-10 4h0m-4-3h0m-1 4h0m-4-5h0m-9-1h0m7 11h0"/><path class="c1" d="M1004 720h0m-25-2h0m-1-8h0m-9 18h0m8-4h0m1 6h0m14-3h0m1 4h0m-22 8h0m-7-3h0m-10 4h0m6 10h0m4-6h0m6 2h0"/><path class="c5" d="M994 725h0m7-1h0m-29 13h0"/><path class="c2" d="M992 719h0m-16-2h0m-1-7h0m-2 10h0m-1 2h0m4 4h0m5-4h0m1 5h0m5-2h0m6-1h0m3 5h0m10-2h0m-12 5h0m-5 2h0m-1-1h0m-2 6h0m-3-5h0m-1 5h0m-12-5h0m-9 5h0m0 5h0m-3-2h0m-1-3h0m-1 12h0m17-4h0"/><path class="c4" d="M965 727h0"/><path class="c0" d="M988 756h0m-40 2h0"/><path class="c1" d="M1003 742h0m7 6h0"/><path class="c0" d="M978 754h0m42-6h0m-54 35h0m15 19h0m-36 19h0"/><path class="c5" d="M1364 615h0m-6-3h0"/><path class="c3" d="M1358 612h0"/><path class="c0" d="M1357 609h0m5 2h0m7 10h0m0-3h0m-9-3h0m-6-3h0"/><path class="c4" d="M1362 612h0m8 4h0m-1-1h0m-2-2h0m-3 0h0"/><path class="c0" d="M1395 622h0m-5-6h0m-12 10h0m7 9h0m4-7h0m4 0h0"/><path class="c4" d="M1388 633h0"/><path class="c1" d="M1406 639h0"/><path class="c0" d="M1374 620h0"/><path class="c3" d="M1411 617h0m0 5h0m1 10h0m2-5h0"/><path class="c2" d="M1412 618h0m-8 6h0m-1-3h0m0-2h0m3 10h0m3 3h0m0-4h0m2-2h0m4-1h0"/><path class="c1" d="M1414 621h0m-6-6h0m0 3h0m-2 4h0m-1-5h0m-1 1h0m4 8h0"/><path class="c2" d="M1432 353h0m19 8h0m6 15h0m-17 10h0m15 9h0m5 4h0m10 11h0"/><path class="c3" d="M1452 357h0m-17 1h0m-1 4h0m27 9h0m21 31h0m-7-2h0m-10 5h0m0 14h0m4 0h0m21 18h0m-3 14h0m-11-1h0"/><path class="c1" d="M1449 353h0m-22 17h0m15 4h0m23 30h0m-14-8h0m24 18h0m10 29h0m4 5h0"/><path class="c5" d="M1438 380h0"/><path class="c4" d="M1486 432h0"/><path class="c0" d="M1453 360h0m-9 0h0m-5-4h0m4 6h0m4 10h0m-1 9h0m-15-6h0m14 14h0m8 0h0m10 7h0m0-10h0m20 32h0m4-4h0m-1 9h0m-1 3h0m-13 3h0m-1 5h0m11 9h0"/><path class="c3" d="M1425 368h0m26 12h0m-24-6h0m65 53h0"/><path class="c5" d="M1435 383h0"/><path class="c4" d="M1433 354h0m19 24h0m27 28h0m-7-8h0m-1 29h0m21 22h0"/><path class="c2" d="M1457 385h0m38 44h0m-12-6h0m-19 7h0m19 24h0m-12 2h0"/><path class="c1" d="M1448 356h0m-11 15h0m12-7h0m8 8h0m0 22h0m9 5h0m25 30h0m-2-9h0m-10 1h0m21 25h0m-10 4h0m-15 6h0"/><path class="c0" d="M1437 355h0m-13 9h0m20 6h0m2-8h0m8 13h0m0-2h0m5 12h0m7 4h0m11 13h0m-2 5h0m-20-8h0m15 13h0m6 16h0m-12 6h0m16-1h0m9 10h0m10 0h0m-18 10h0"/><path class="c5" d="M1444 351h0"/><path class="c4" d="M1460 376h0m32 47h0m-23-2h0"/><path class="c3" d="M1432 351h0m19 24h0m-2 1h0m-7 5h0m-9-8h0m3 12h0m12 6h0m38 14h0m-23 4h0m20 9h0m6 9h0m-14 4h0m13 1h0m4 3h0"/><path class="c2" d="M1457 382h0m-30-5h0m14 10h0m29 17h0m-6 13h0m24 12h0m-9 0h0"/><path class="c0" d="M1455 357h0m-7-7h0m-26 18h0m43 22h0m2 6h0m0 4h0m-6 1h0m12 8h0m7 8h0m6-9h0m-3 32h0m4 0h0m-8 10h0m-9 7h0"/><path class="c1" d="M1451 383h0m-12-5h0m-7-1h0m15 7h0m26 32h0"/><path class="c2" d="M1452 383h0m-17-5h0m24 32h0m21 4h0m7-2h0m10 30h0m-15 5h0"/><path class="c0" d="M1454 354h0m-21 16h0m1-6h0m3 3h0m1-7h0m11 9h0m6-6h0m10 46h0m7 3h0m19 5h0m-13 5h0m18 26h0m-19 10h0"/><path class="c3" d="M1451 352h0m-25 7h0m1 7h0m21 24h0m15 24h0m28 7h0m-26 8h0m10 3h0m8 3h0m3 1h0m5 4h0m-9 8h0"/><path class="c4" d="M1489 408h0m-11 2h0m-11 23h0"/><path class="c1" d="M1431 360h0m-10 12h0m14-9h0m18 0h0m-10 15h0m16 14h0m4-2h0m5 3h0m1 1h0m-4 22h0m11 4h0m-7 34h0"/><path class="c5" d="M1443 356h0"/><path class="c2" d="M1441 363h0m11 28h0m3 0h0m15 12h0m4 16h0m-9 3h0"/><path class="c1" d="M1441 353h0m-6 15h0m12 1h0m9 8h0m3 11h0m-1 14h0m24 28h0m-18-5h0m29 11h0"/><path class="c3" d="M1439 351h0m-8 6h0m-2 0h0m-6 14h0m6-2h0m14 0h0m15 0h0m9 38h0m-7-1h0m10 9h0m12-4h0m1 3h0m-2 13h0m20 14h0"/><path class="c0" d="M1448 354h0m-8 16h0m13-1h0m-6 4h0m-9 2h0m-7 10h0m12 1h0m32 18h0m21 28h0m-21-9h0m19 22h0m-1 7h0m-11-2h0m-5 4h0"/><path class="c4" d="M1468 426h0m7 22h0"/><path class="c0" d="M1438 394h0"/><path class="c1" d="M1461 439h0"/><path class="c2" d="M1553 689h0m-19 78h0m10 2h0m2 6h0"/><path class="c3" d="M1539 706h0m33 1h0m-37 3h0m-14 1h0m-32-2h0m66 21h0m26-2h0m-61 14h0m-2-1h0m-24 11h0m24-1h0m3-4h0m12 3h0m46 0h0m4 12h0m-41-6h0m0 11h0m-33-8h0m-20 0h0"/><path class="c5" d="M1558 704h0m-86 16h0m122 2h0m-66 20h0m-29-1h0m14 10h0m-8 9h0m65 10h0"/><path class="c4" d="M1582 714h0m-5 4h0m-24-6h0m5 13h0m44 19h0m-58-10h0m-20 12h0m61 5h0m10 0h0m-30 15h0"/><path class="c1" d="M1572 694h0m-10 0h0m-1-2h0m-8 0h0m-30 11h0m65 8h0m-45-1h0m-19 7h0m-10-5h0m-41-4h0m5 19h0m15-6h0m33 1h0m34-2h0m34 12h0m-13 7h0m-4 4h0m-18 1h0m-81-10h0m-5 5h0m-3-4h0m33 11h0m25 5h0m46-3h0m7 10h0m-3 8h0m-40-1h0m-33 1h0m39 13h0m3 0h0m6-10h0"/><path class="c0" d="M1548 694h0m25 26h0m-117 1h0m38 10h0m10-4h0m50-7h0m47 21h0m-20-9h0m-43 8h0m-45 3h0m1 12h0m-14 4h0m22 13h0"/><path class="c5" d="M1541 724h0m49 13h0m-53 13h0m34 15h0m-43-1h0"/><path class="c1" d="M1501 707h0m19-8h0m4 2h0m21 4h0m35 4h0m-68 7h0m-12 0h0m-34 2h0m28 11h0m3-1h0m11-3h0m60 6h0m1-11h0m31 14h0m-8 3h0m-12-1h0m-12-1h0m-2 6h0m-29-8h0m-18 9h0m-10-7h0m20 19h0m47 3h0m-40 0h0m-40 0h0m21 16h0"/><path class="c0" d="M1568 700h0m-1 9h0m-94 21h0m26-10h0m11 4h0m15 2h0m9 12h0m-36 3h0m7 5h0m56 6h0m2-5h0m21 1h0m6-2h0m-63 29h0"/><path class="c4" d="M1552 701h0m-48 9h0m-11 15h0m32 5h0m10-8h0m11 3h0m-62 9h0m68 13h0"/><path class="c2" d="M1505 698h0m14 20h0m68 12h0m9 5h0m-81 37h0"/><path class="c3" d="M1513 701h0m79 15h0m-112 10h0m17-4h0m10 7h0m15-7h0m70 7h0m6-2h0m-4 15h0m-10-4h0m-54-5h0m-19 3h0m-14 1h0m-15 6h0m20 12h0m16-1h0m26-10h0m57 9h0m-87 7h0"/><path class="c0" d="M1531 695h0m-29 9h0m74 1h0m8-7h0m-35 20h0m-26 1h0m-8-5h0m-51 2h0m103 13h0m-82 13h0m-3-2h0m-4 4h0m115 2h0m5 8h0"/><path class="c1" d="M1568 695h0m-54 8h0m12 3h0m19 2h0m2-8h0m3 3h0m5-2h0m4-2h0m25 8h0m-6 8h0m-11-5h0m-4 3h0m-28-5h0m-6 8h0m-1 2h0m-62 9h0m16 3h0m4-9h0m18 2h0m55 7h0m25 1h0m4-6h0m-46 19h0m30 11h0m18 4h0m-58 9h0m-9-4h0m-16-8h0m-2 13h0m2 0h0m5 7h0m34-6h0"/><path class="c3" d="M1542 700h0m4 16h0m-10 4h0m-41-10h0m-17-1h0m-7 7h0m-3 9h0m69-2h0m32 0h0m-13 17h0m-45-2h0m-7 0h0m-13-4h0m-7 14h0m5 4h0m77 2h0m-20 5h0m-67-3h0m48 16h0m9 3h0"/><path class="c2" d="M1478 710h0m66 23h0m-41 1h0m87 17h0m-59 22h0"/><path class="c5" d="M1592 711h0m-88-3h0m37 68h0"/><path class="c4" d="M1485 705h0m72 9h0m-76 5h0m8 4h0m51 5h0m41-5h0m23 19h0m-112-4h0m63 10h0m-23 10h0"/><path class="c2" d="M1486 727h0m11 3h0m3-6h0m102 29h0m-20 4h0m-81 5h0m-7 1h0"/><path class="c5" d="M1557 707h0m17-8h0m-15 17h0m-53-2h0m31 28h0m16 26h0"/><path class="c3" d="M1528 703h0m18-6h0m41 9h0m-47 8h0m-56 2h0m-24 2h0m15 4h0m11 9h0m81-9h0m40 19h0m-4-4h0m-29 6h0m-1-11h0m-20 2h0m-56 5h0m72 7h0m23-1h0m-23 13h0m-57 4h0m-17 5h0m43 12h0"/><path class="c4" d="M1485 710h0m-6 7h0m118 7h0m-49 19h0m14 1h0"/><path class="c1" d="M1493 704h0m48-7h0m32 8h0m-15 5h0m-17 10h0m-26-12h0m-23 5h0m-16 8h0m126 11h0m-21 9h0m-14-1h0m-4-2h0m-43-2h0m-31 7h0m-7 11h0m26-3h0m13 2h0m30 0h0m16-3h0m9 12h0m-9 5h0m-46-4h0m-2 5h0m4 5h0m3-5h0m32 2h0"/><path class="c0" d="M1528 707h0m6-10h0m41 19h0m-7 0h0m-51 12h0m34-6h0m20 14h0m-84 13h0m16 3h0m61 12h0m-17-8h0m-20 3h0"/><path class="c5" d="M1512 709h0m-28 15h0m71 5h0m-46 20h0m48 29h0"/><path class="c4" d="M1564 716h0m-15-6h0m-29-1h0m-29 12h0m41-1h0m35 6h0m18 8h0m-16 6h0m-33-4h0m3 12h0m18 16h0m-7-1h0m3 14h0"/><path class="c1" d="M1482 706h0m54-1h0m1-6h0m-70 12h0m-8-2h0m-1 1h0m5 13h0m44-2h0m23 7h0m46-3h0m-28 10h0m-15-2h0m-14 2h0m-48 5h0m59 5h0m27 8h0m9-5h0m13 11h0m-37 2h0m-26-3h0m-25 8h0m46 4h0m26 0h0"/><path class="c3" d="M1556 690h0m-31 4h0m-34 8h0m70 6h0m3-5h0m28 15h0m-121-6h0m-7-3h0m12 12h0m52 1h0m2 8h0m42-1h0m5-2h0m20 4h0m-6 9h0m3 13h0m-20 6h0m-16 8h0m-69-10h0m-2 2h0m59 23h0"/><path class="c2" d="M1551 708h0m25 30h0m-99 11h0m14-3h0m20 9h0m47 0h0m5 8h0"/><path class="c0" d="M1499 704h0m74 2h0m9-4h0m5 12h0m-4 5h0m-50-6h0m-18-2h0m-13 6h0m-50-5h0m37 17h0m11 3h0m12-5h0m46 1h0m2-6h0m25 1h0m-42 17h0m-19 1h0m-8-3h0m-3 3h0m-4 1h0m-7-1h0m-21 11h0m97 2h0m10-10h0m-29 16h0m-15 6h0m-36 8h0m2-2h0m56-2h0"/><path class="c3" d="M1559 697h0m-15 22h0m-4-10h0m-20 6h0m-22-5h0m-4 6h0m-7 1h0m-27-4h0m-4 0h0m-6-1h0m85 17h0m13 0h0m48-3h0m-51 7h0m-22 20h0m6-5h0m13 4h0m10 8h0m-10 4h0m-27-7h0"/><path class="c5" d="M1472 715h0m44 16h0m22 25h0"/><path class="c2" d="M1551 730h0m-25 5h0m-12 14h0m36 4h0m49-7h0m-14 15h0"/><path class="c4" d="M1496 700h0m57 5h0m23 31h0m-98 2h0m9 12h0m60 0h0m2-3h0m57 1h0m-85 10h0"/><path class="c1" d="M1546 692h0m-44 8h0m6 2h0m46-6h0m27 4h0m-10 12h0m-9 6h0m-36-5h0m-5 17h0m42 6h0m-53-4h0m-15 5h0m66 17h0m3 3h0m-15 5h0m-50-3h0m-11 5h0m-10-7h0m54 15h0m18-4h0"/><path class="c0" d="M1529 705h0m4-5h0m37-2h0m6 14h0m-25 4h0m-7 1h0m-66 15h0m75 12h0m-72-10h0m-8 11h0m3 7h0m98 1h0m4-7h0m-65 16h0m35 13h0"/><path class="c3" d="M1577 696h0m-70 15h0m-12 5h0m-35 0h0m-8 3h0m-3-5h0m23 12h0m41-3h0m10 4h0m42 2h0m-35 11h0m-57 2h0m71 4h0m60 3h0m-25 14h0m-10-1h0m-34 1h0m-28 0h0m-9 4h0"/><path class="c1" d="M1516 704h0m13-6h0m38 4h0m-32 14h0m-24 3h0m74 8h0m-34 11h0m-5 2h0m-51 9h0m2 7h0m1-7h0m35 4h0m2-7h0m47 6h0m8 4h0m-40 1h0m-54 8h0m18 4h0m6-1h0m34 6h0m5 0h0"/><path class="c5" d="M1491 706h0m4 0h0m93 15h0m-46 14h0m-56 6h0"/><path class="c4" d="M1538 702h0m42 4h0m-100 4h0m77 26h0m-2 15h0m-36 20h0"/><path class="c2" d="M1510 700h0m77 2h0m-42 6h0m0 19h0m51 14h0"/><path class="c1" d="M1539 693h0m-3 0h0m-1 2h0m-12-2h0m-50 15h0m8-3h0m17-3h0m8-5h0m7 1h0m1 0h0m9-1h0m-64 14h0"/><path class="c0" d="M1581 696h0m-6-1h0m-2 1h0m-6 0h0m-1-5h0m-8 3h0m-1-2h0m-1-1h0m-1-3h0m0 1h0m0-1h0m-1 4h0m0 1h0m-2-2h0m-1-2h0m-2 3h0m-4 1h0m-5 1h0m-4-4h0m0 1h0m-5 3h0m-1-1h0m-2-1h0m-1 0h0m0 3h0m-3-2h0m-3 1h0m-7 2h0m-54 10h0m3 2h0m5-3h0m1 1h0m1 1h0m1-2h0m4 2h0m6-5h0m0 3h0m2 1h0m2-4h0m0 2h0m3-4h0m2 4h0m3-4h0m4-1h0m1 2h0m8 0h0m1-3h0m6-2h0m9 1h0m48 0h0m0 0h0m6 3h0m4-1h0m3-1h0m1 0h0m2 3h0m2-4h0m-117 11h0m-6 2h0m0 0h0m-3 1h0m-11-2h0m-1 3h0m0-3h0"/><path class="c6" d="M1493 768h0m-9-9h0m-5 1h0m-2 7h0m-1-3h0m-12 11h0m20-7h0m1 4h0m-22 19h0m-6-4h0m6 8h0"/><path class="c5" d="M1464 772h0m11-2h0m0 18h0m-6 0h0m-3 4h0m-4-12h0m-4 11h0m-6 5h0m3-4h0"/><path class="c0" d="M1475 755h0m16 5h0m-3 1h0m-2 4h0m-3 0h0m-2-7h0m-1 9h0m-6-7h0m-1-2h0m-3 8h0m0-6h0m-1 3h0m-3 5h0m-7 11h0m2-2h0m8-1h0m5-2h0m4-4h0m1 3h0m3 6h0m3-4h0m3-1h0m1-2h0m3 3h0m-12 5h0m-4 2h0m0 2h0m-8-3h0m-8 4h0m-7 15h0m7-6h0m3 4h0"/><path class="c4" d="M1489 765h0m-2 1h0m-7-3h0m-4-6h0m-1 4h0m-10 5h0m-2 3h0m4 7h0m1-4h0m1 3h0m3 0h0m3 1h0m2 2h0m4-6h0m3 8h0m3-1h0m6-9h0m-21 17h0m0-6h0m-1 3h0m-5 0h0m-2 5h0m-2-2h0m-11 13h0m5 3h0m9-6h0"/><path class="c3" d="M1477 786h0m-8 5h0m-6-9h0m-5 2h0m-1 15h0m0-5h0"/><path class="c1" d="M1512 786h0m-7 2h0m-9 2h0m-10-4h0"/><path class="c3" d="M1490 796h0"/><path class="c1" d="M1485 804h0"/><path class="c4" d="M1474 788h0"/><path class="c0" d="M1492 778h0m8-2h0"/><path class="c3" d="M1391 786h0m-79 9h0m55 9h0m14-1h0m12 0h0m5-5h0m-29 12h0m-10-6h0m-13 11h0m26 7h0"/><path class="c2" d="M1314 775h0m73 6h0m-13 5h0m-28 11h0m2 26h0"/><path class="c0" d="M1310 779h0m58-1h0m25 5h0m-1 0h0m-27 8h0m-16-10h0m-40 15h0m51 13h0m-33 4h0m-10-9h0m42 12h0"/><path class="c4" d="M1320 760h0m17 43h0m18 0h0m36 12h0m-17 4h0"/><path class="c1" d="M1325 774h0m47 5h0m24-2h0m-24 4h0m-46 3h0m-2-4h0m-7 11h0m-15 1h0m3 5h0m11 5h0m4-9h0m30 8h0m3-5h0m6 0h0m3 7h0m14-2h0m18-1h0m-17 13h0m-13 2h0m-10-8h0m-24-3h0m-9 3h0m-18 10h0m21 10h0m9-11h0m8 9h0m9-1h0m7 2h0"/><path class="c4" d="M1315 765h0m25 6h0m59 13h0m-66-1h0m65 28h0m-57 7h0"/><path class="c0" d="M1311 769h0m23 7h0m16 16h0m-49-9h0m10 31h0m43 12h0"/><path class="c3" d="M1315 761h0m30 28h0m-32 1h0m25 4h0m46 1h0m8 11h0m-2-1h0m-60 18h0"/><path class="c2" d="M1345 819h0"/><path class="c1" d="M1376 782h0m-15 2h0m-59 11h0m29 6h0m17-8h0m8 1h0m1 8h0m21-9h0m9 22h0m-13 0h0m-9-6h0m-42 3h0m-7 2h0m-2-8h0m-6 11h0m46 6h0"/><path class="c2" d="M1333 771h0m11 2h0m19 11h0"/><path class="c1" d="M1317 767h0m18 7h0m68 5h0m0 3h0m-75-1h0m-2 9h0m-13-8h0m-4 7h0m10 11h0m15-5h0m4 8h0m34-9h0m10-1h0m-36 18h0m-14 1h0m-22-7h0m-7 6h0m20 10h0m4 5h0m4-7h0m37 1h0"/><path class="c4" d="M1319 770h0m47 12h0m-18 3h0m9 28h0m23 5h0"/><path class="c3" d="M1317 759h0m0 19h0m7-3h0m22 4h0m8 4h0m-15 29h0"/><path class="c0" d="M1331 769h0m5 21h0m13 12h0m22-5h0m0 11h0m-42 6h0m-4 5h0m9 0h0m32 4h0"/><path class="c4" d="M1344 778h0m12 37h0"/><path class="c2" d="M1379 811h0m-11 5h0m-49 4h0m14 3h0m17-4h0"/><path class="c3" d="M1330 767h0m38 20h0m-13 3h0m-3-4h0m40 11h0m-43 13h0m-12 4h0m-21 8h0m28-5h0"/><path class="c0" d="M1398 782h0m-66 17h0m36-5h0m20 0h0m-34 16h0m16 15h0"/><path class="c1" d="M1327 767h0m-9 6h0m81 4h0m-15 4h0m-42 3h0m-1 3h0m-7 4h0m-3-1h0m-8-1h0m-6-7h0m-6 19h0m13 2h0m22-3h0m26-1h0m-25 9h0m-33 2h0m-10-4h0m53 15h0m14-1h0"/><path class="c3" d="M1321 767h0m47 21h0m-7 0h0m-31-7h0m-20 4h0m12 12h0m60 3h0m-53 7h0"/><path class="c0" d="M1334 765h0m-23-2h0m2 15h0m18-3h0m-29 26h0m4 0h0m88 10h0m-6-5h0m-80 3h0m16 8h0m30 3h0"/><path class="c4" d="M1383 783h0m-22 0h0m7 26h0m-45 14h0m25 5h0"/><path class="c2" d="M1305 759h0m49 21h0m-51 29h0m7 14h0m5-4h0"/><path class="c1" d="M1323 764h0m-17-1h0m59 15h0m12 10h0m-63-2h0m-8 1h0m0 4h0m-2-8h0m-5 18h0m59-7h0m9 2h0m25 4h0m-28 13h0m-14 1h0m-39-1h0m28 11h0"/><path class="c4" d="M1334 779h0m56 9h0m-62 6h0m10 8h0m57 7h0m-33 10h0"/><path class="c2" d="M1297 798h0m28-5h0m-5 23h0"/><path class="c1" d="M1320 777h0m18 1h0m11-4h0m2 3h0m32 1h0m11 13h0m-1-4h0m-15 2h0m-48-3h0m-9 1h0m-20 1h0m13 15h0m12-6h0m23 1h0m26 0h0m25 10h0m-17-2h0m-49 5h0m-10-5h0m-10 19h0m17 1h0m12-4h0"/><path class="c0" d="M1313 760h0m18 15h0m10 16h0m20 10h0m9-2h0m28 1h0"/><path class="c3" d="M1315 768h0m8 3h0m17 3h0m43 15h0m-26-6h0m-9 6h0m18 12h0m19 10h0m-52-5h0m-26 8h0"/><path class="c4" d="M1299 794h0m39 4h0m50-1h0m-42 32h0"/><path class="c1" d="M1325 777h0m35 0h0m-17 4h0m-36 3h0m10 12h0m14 1h0m12 2h0m44 3h0m4-10h0m7 1h0m-17 22h0m-10-11h0m-30 5h0m20 14h0"/><path class="c2" d="M1356 778h0m16 10h0m-62 5h0m68 16h0m-42-2h0m-10-2h0m18 23h0"/><path class="c0" d="M1310 758h0m76 28h0m-7-1h0m-1-3h0m-20 7h0m-18-7h0m-22 7h0m5 12h0m38-6h0m-11 12h0"/><path class="c3" d="M1337 783h0m44 15h0m3 4h0m13 2h0m-10 7h0m-13-5h0m-8 6h0m-21-7h0m-28 5h0m-6-2h0m-11-2h0m20 16h0m58-6h0"/><path class="c1" d="M1419 776h0"/><path class="c0" d="M1302 756h0m100 34h0m-88 41h0"/><path class="c5" d="M1346 828h0m-2 3h0m-1-2h0m7 15h0m1 0h0m4 1h0m14 18h0m-1 0h0m-4-1h0m-2-3h0m-6-4h0m-3-2h0m8 13h0m5 4h0"/><path class="c4" d="M1361 862h0m0 2h0m9 2h0m6 13h0m-5 4h0"/><path class="c0" d="M1345 826h0m5 5h0m0-2h0m-1 5h0m-1 4h0m0-5h0m0 5h0m-1 1h0m-2-9h0m-19 6h0m24 7h0m2-1h0m2-2h0m2 3h0m0 3h0m0-4h0m1 9h0m1-5h0m1 2h0m0 0h0m7 10h0m-3-5h0m0 7h0m-2-7h0m-4 0h0m-1 10h0m-1-2h0m7 10h0m0-1h0m5 0h0m3 1h0m1 3h0m3 2h0m5 5h0m0-1h0m0 0h0m-2 0h0m-3 4h0m0 3h0m-3-3h0m-5-8h0m-1 0h0"/><path class="c5" d="M1330 851h0"/><path class="c0" d="M1332 844h0m4 18h0"/><path class="c3" d="M1477 882h0m50 6h0m-16 19h0m-41-1h0m-8 16h0m38-5h0m34 12h0m-5 14h0m-10 6h0m-5 9h0m-6-2h0m-7 0h0m-7 5h0m61 2h0m4 2h0m-66 13h0m37 14h0m-7 15h0"/><path class="c1" d="M1532 875h0m6-7h0m6 2h0m-63 29h0m2-3h0m6-3h0m29 0h0m5 6h0m6 11h0m-28 0h0m-38 3h0m27 7h0m4-5h0m20 3h0m12 0h0m3 8h0m-11 6h0m-17 1h0m-22-3h0m-18 3h0m-8 0h0m0 4h0m8 2h0m11-2h0m33 7h0m48 9h0m-4 1h0m-43 3h0m12 14h0m29-6h0m2 6h0m9-3h0m-32 15h0m-46-4h0m-1 2h0m27 12h0m8-4h0m21-4h0m-25 13h0m-7-1h0m-3 1h0m-21 5h0"/><path class="c4" d="M1493 968h0"/><path class="c0" d="M1526 883h0m-44 20h0m16 54h0m2 9h0m5 6h0m-24 1h0"/><path class="c1" d="M1502 883h0m-22-2h0m-3 5h0m20 6h0m5 0h0m5-3h0m6 1h0m-25 16h0m-2-4h0m-10 1h0m-7-1h0m-4 11h0m11 1h0m32 9h0m5-2h0m6-4h0m-29 19h0m-18-4h0m10 7h0m14 3h0m17-4h0m33-1h0m13 16h0m-32 1h0m-40-5h0m-4 17h0m21-5h0m39 16h0m-23 0h0m-4 2h0m-36 5h0m5 4h0m9 7h0m4-1h0m6-5h0m17-4h0m8-1h0m-13 23h0m-14-2h0m-12 1h0m-1-5h0m-8 7h0"/><path class="c0" d="M1509 878h0m2 18h0m-21 5h0m19 43h0m-21 9h0"/><path class="c2" d="M1507 877h0m34 54h0"/><path class="c3" d="M1500 881h0m-3-3h0m-19 17h0m12-6h0m8 7h0m8 14h0m-34-10h0m9 24h0m23-7h0m14 7h0m19 10h0m-62-5h0m18 11h0m20 0h0m30 3h0m-1 9h0m-45 2h0m23 12h0m7 0h0m-35 8h0m-17 21h0m41 3h0m-8 4h0m-5 3h0"/><path class="c4" d="M1522 887h0m10 6h0m-54 25h0m54 15h0m-4-1h0m-33 33h0m14 20h0m29 0h0"/><path class="c3" d="M1505 886h0m-15-5h0m-8 4h0m15 24h0m44 21h0m-14 1h0m-16 3h0m-20 1h0m-32-9h0m2 14h0m42 27h0m10 8h0m-14 0h0m-12 24h0"/><path class="c2" d="M1493 881h0m31 53h0"/><path class="c1" d="M1520 874h0m11 0h0m12-2h0m-10 12h0m-4-2h0m-13 6h0m-30-4h0m13 7h0m2 7h0m23 12h0m-16-2h0m-9-1h0m-15 9h0m0 4h0m8 2h0m19-5h0m13 8h0m-1 5h0m-12-4h0m-23 3h0m4 15h0m5 3h0m1-10h0m22 8h0m25-6h0m4-2h0m1 6h0m5 14h0m-3 1h0m-10-7h0m-6 2h0m-20 2h0m-5 7h0m14 3h0m14-1h0m11-3h0m-18 16h0m-14 18h0m5-2h0m4-1h0m-53 9h0m22 7h0m2 5h0m16 2h0"/><path class="c0" d="M1504 905h0m-36 4h0m-4 22h0m26 13h0m10 6h0m28 33h0"/><path class="c4" d="M1488 909h0m9 11h0m28 0h0"/><path class="c0" d="M1542 876h0m-24 34h0m-44-1h0m49 13h0m20 35h0m-4 1h0m-2 1h0m-3-9h0m-36 10h0m46 3h0m-65 31h0m19-10h0m5 11h0m-10 2h0m-12 3h0"/><path class="c2" d="M1512 940h0"/><path class="c1" d="M1528 887h0m-10-6h0m-26 12h0m28-4h0m0 15h0m-52 16h0m13 2h0m48-1h0m-26 14h0m-19-5h0m-21 10h0m14-3h0m18 1h0m10 9h0m3-10h0m8 8h0m12 2h0m6-1h0m5-8h0m11 4h0m9 14h0m-37 4h0m-36 4h0m64 1h0m4 1h0m-21 7h0m-24 1h0m-2 2h0m-15 7h0m-5-3h0m21 10h0m16 16h0m-4-6h0m-4-1h0m-3 5h0m-4 1h0"/><path class="c3" d="M1539 872h0m-4 8h0m-35 4h0m8 13h0m7 3h0m1-1h0m-7 2h0m-26 3h0m29 10h0m21 13h0m-1 1h0m-25 3h0m-10-3h0m-19 7h0m-15-2h0m16 7h0m6 5h0m31 23h0m11 3h0m-4 9h0m-12 0h0m-29-3h0m3 15h0m5 2h0m5 5h0m-19-3h0"/><path class="c4" d="M1511 884h0m15 19h0m-9 0h0m-22-1h0m13 11h0m9 9h0m-45 19h0m46 17h0m-12-6h0m26 18h0m-37 18h0m-8 17h0"/><path class="c3" d="M1492 891h0m-15 19h0m21 4h0m-2 10h0m49 25h0m-35 0h0m-24 20h0m42-7h0m4 3h0m4 6h0m19-2h0m-11 10h0m-28-4h0m-39 12h0m51 15h0m-5-6h0"/><path class="c0" d="M1494 897h0m12-2h0m8 13h0m-22 8h0m10 7h0m34 13h0m8 18h0m-53-4h0m-4 11h0m29 5h0m-27 17h0m34 4h0m15 2h0"/><path class="c2" d="M1518 907h0m-38 37h0m82 16h0"/><path class="c1" d="M1535 873h0m-12 7h0m-4-3h0m-5 8h0m-23 2h0m-6-5h0m-11 6h0m27 1h0m11 6h0m12 7h0m-6 10h0m-15-1h0m-27-9h0m-12 7h0m6 5h0m0 9h0m77 11h0m-42-1h0m-1-3h0m-4-5h0m-45 1h0m82 16h0m20 7h0m-32 10h0m-13-8h0m-29-2h0m14 22h0m12-8h0m21-3h0m8 11h0m7 12h0m-21-5h0m-52 14h0m12-6h0m49 4h0m-35 10h0m-5 7h0"/><path class="c4" d="M1513 883h0m-30 5h0m46 58h0m2-8h0m-39 49h0"/><path class="c0" d="M1473 892h0m9 1h0m42 13h0m-45 0h0m7 25h0m-16-5h0m69 21h0m-35 17h0m13-2h0m1 15h0m-3 7h0m-5 8h0m-24 8h0m16 9h0m7 3h0"/><path class="c1" d="M1487 879h0m1 18h0m18 8h0m-37 13h0m4-1h0m12-3h0m27 10h0m9-11h0m3 5h0m-10 15h0m-2-5h0m-1 15h0m39 5h0m-16 11h0m-6 0h0m-38-2h0m16 13h0m3-10h0m5 8h0m6 0h0m37-8h0m-10 13h0m-9 7h0m-39 2h0m-5-10h0m-21 18h0m47-1h0m-7 19h0m-21 5h0m10-1h0m4 0h0m2-2h0"/><path class="c2" d="M1515 930h0"/><path class="c3" d="M1516 875h0m-17 2h0m-27 22h0m-7 25h0m14-10h0m13 15h0m-10 5h0m-12 0h0m47 6h0m28 15h0m-9-5h0m-21-1h0m25 15h0m0 9h0m-12 1h0m-32 7h0m-13 7h0m47 0h0m-33 18h0m-11 5h0"/><path class="c4" d="M1487 923h0m15 16h0m25 6h0m6-5h0m-32 31h0m-25 12h0m26 19h0"/><path class="c1" d="M1545 871h0m-8 6h0m-8 0h0m-4 2h0m-16 1h0m-11 3h0m-18 4h0m43 6h0m-18 8h0m-12 4h0m-10 4h0m-17 10h0m20-4h0m11 4h0m-4 8h0m-14 0h0m-8 1h0m-9 2h0m-5 0h0m7 7h0m34 7h0m8-4h0m16-3h0m2 4h0m16 1h0m12 3h0m-51 7h0m37 9h0m4 10h0m-10 9h0m-12 2h0m-16-6h0m-20 1h0m9 9h0m36 15h0m-11 2h0m-44-6h0m9 12h0m7-1h0m25 4h0"/><path class="c0" d="M1518 884h0m-10 8h0m24 5h0m-5 18h0m-30 16h0m31 7h0m-36 15h0m0 12h0m49 13h0m-6-1h0m-12-3h0m-17 8h0m-4 7h0m26 9h0"/><path class="c2" d="M1529 893h0m-52 29h0m-2 21h0m9-5h0m6 40h0m-7 28h0"/><path class="c3" d="M1516 876h0m-26 1h0m-13 19h0m23 4h0m27-2h0m3-9h0m-38 22h0m-2 1h0m17 14h0m-33-1h0m8 16h0m42 7h0m5 7h0m-41 3h0m58 10h0m6 5h0m-63 1h0m5 20h0m7-7h0m11 0h0m8 9h0m-8 4h0m-28-3h0m41 13h0"/><path class="c4" d="M1510 881h0m-23 59h0m29-1h0m5 13h0m-30 16h0"/><path class="c1" d="M1512 876h0m9 0h0m4-2h0m7-2h0m-9 6h0m-1-1h0m0 3h0m-4-3h0m0 3h0m-1-4h0m-7 3h0m-2 1h0m-2-3h0m-6 4h0m-3-1h0m-3 3h0m-4-2h0m-4 3h0m-3 1h0m-1-4h0m0 1h0m-3 4h0"/><path class="c3" d="M1517 876h0m2 0h0m14-2h0m-7 5h0m-4 1h0m-19-2h0m-13 1h0m-2 1h0m0 3h0"/><path class="c4" d="M1407 894h0m19 2h0m53 13h0m-5-5h0m-52 6h0m-28-8h0m91 37h0"/><path class="c2" d="M1385 880h0m14 8h0m73 22h0m-46 5h0m15 11h0m38 15h0"/><path class="c5" d="M1423 887h0m-39 1h0m24 9h0m23-6h0m27 12h0m-22 1h0m6 14h0m9-2h0"/><path class="c0" d="M1384 875h0m22 11h0m-10 2h0m-1-9h0m-5-1h0m-9 11h0m9 10h0m7-3h0m3-2h0m10-6h0m36 11h0m14-3h0m16 9h0m-11 4h0m-35 5h0m10 3h0m8 3h0m28 13h0m-22 3h0m-11-2h0m-1-8h0"/><path class="c3" d="M1404 885h0m3 11h0m4 3h0m17-5h0m17 2h0m17 6h0m-57 1h0m-1 3h0m41 10h0m21 8h0"/><path class="c4" d="M1463 896h0m-35 24h0m14 3h0m41 11h0"/><path class="c0" d="M1419 888h0m-17-4h0m-6 0h0m-10-3h0m-4 5h0m6 8h0m3 6h0m0-6h0m16-6h0m11 10h0m4 0h0m26-2h0m21 5h0m-4 0h0m-12 8h0m-8-1h0m-17-4h0m-2 7h0m-1-2h0m-7-5h0m-17-2h0m19 14h0m33 5h0m8 2h0m23 3h0m-3-1h0m-3 4h0m0-5h0m-4 4h0"/><path class="c2" d="M1466 911h0m-6 14h0"/><path class="c5" d="M1455 930h0"/><path class="c3" d="M1421 889h0m35 21h0m-7-10h0m-3 10h0m-4-8h0m-3 2h0m-18 5h0m-3 5h0m70 16h0m-16 3h0m-19 1h0m34 3h0"/><path class="c0" d="M1399 879h0m-6 10h0m41 3h0m1 5h0m1-4h0m14-2h0m14 3h0m-13 17h0m-21-9h0m-21 1h0m-2 5h0m-10-4h0m15 9h0m18 4h0m10-1h0m32 5h0m6-1h0m10 3h0m0 3h0m-18 3h0m-7 4h0m-13-6h0m-17-2h0"/><path class="c3" d="M1401 888h0m0 9h0m17-8h0m3 6h0m21-4h0m8 3h0m-6 12h0m-13 0h0m-29-5h0m50 18h0m13-1h0m5 2h0m2-6h0m-9 12h0m-5 4h0m-12 0h0m4 7h0"/><path class="c2" d="M1407 901h0m62 36h0"/><path class="c4" d="M1383 879h0m7 12h0m15 3h0m28 6h0m18 6h0m-12 5h0m17 3h0m18 6h0m-6 8h0m8 9h0m4-1h0"/><path class="c5" d="M1393 881h0m67 29h0m-17-3h0m-13-4h0m-9 14h0m16 5h0m47 10h0m-37-6h0"/><path class="c0" d="M1392 885h0m23 9h0m7 6h0m3-6h0m10-3h0m3 6h0m17-2h0m14 3h0m-11 9h0m-4-5h0m-18 5h0m-7 0h0m-6-7h0m-1 6h0m-20-1h0m32 17h0m22-4h0m3 4h0m2-8h0m5 1h0m7 6h0m17 3h0m-23 9h0m0-9h0m-10 9h0m-7-3h0m-12 1h0m23 6h0"/><path class="c5" d="M1410 909h0m25 11h0m36 5h0"/><path class="c4" d="M1397 882h0m18 7h0m62 22h0m-42 1h0m-18 1h0m12 10h0m8-7h0m14 7h0m28-4h0m9 14h0m-20 9h0"/><path class="c3" d="M1389 882h0m-11-2h0m75 18h0m14 12h0m-12-6h0m-42 0h0m-13 4h0m82 8h0m-16 19h0"/><path class="c2" d="M1394 877h0m-13 6h0m12 15h0m51-4h0m26 15h0m-7-3h0m-14-2h0m-35 5h0m-1 3h0m64 11h0m-21 14h0"/><path class="c3" d="M1468 904h0m7 10h0m2 1h0m5 6h0m-35 13h0"/><path class="c0" d="M1389 875h0m-3 10h0m27 14h0m2 1h0m12-12h0m4 10h0m6 1h0m3-8h0m36 17h0m-2-8h0m-16 1h0m-15 9h0m-50-10h0m69 17h0m20 11h0m-19 1h0m-2 3h0m-4-6h0m-14 2h0m-11-1h0m31 12h0m11 3h0m2-2h0m8-2h0"/><path class="c4" d="M1391 873h0m5 22h0m16-1h0m30-1h0m15 5h0m6 7h0m-33 6h0m4 5h0m11 6h0"/><path class="c5" d="M1457 894h0m-6 9h0m3 11h0"/><path class="c0" d="M1397 924h0m7 0h0m6 5h0m-7 0h0m-12-1h0m-1 3h0m-5 0h0m-2 0h0m-1 3h0"/><path class="c5" d="M1416 932h0m-4-4h0m-3 0h0m-2 2h0m-3-6h0m-25 5h0"/><path class="c4" d="M1419 928h0m-2-3h0m-12 2h0m-8-1h0m-3 5h0m-5-5h0m-6 2h0m-6 3h0m0 1h0"/><path class="c0" d="M1324 845h0m1-2h0m4 4h0m0-3h0m2 1h0m2-5h0m0 7h0m1 0h0m0 2h0m2 0h0m0 2h0m1-9h0m1 9h0m0-5h0m1 5h0m5-2h0m6 2h0m7 13h0m-1-6h0m0 2h0m-1-3h0m-1 3h0m-1-4h0m0 6h0m-1-2h0m-2-6h0m-1-1h0m-3 0h0m-3 1h0m12 10h0m10 8h0m1 3h0m2-8h0m1 0h0m2 1h0m0 0h0m1 0h0m0 1h0m1 2h0"/><path class="c5" d="M1338 844h0m4 7h0m17 7h0m-5 4h0m1 3h0m8 0h0m3 3h0m4 8h0"/><path class="c4" d="M1366 902h0"/><path class="c0" d="M1408 872h0m10 1h0m-37 27h0m-8 10h0m-11 2h0"/><path class="c1" d="M1464 986h0"/><path class="c0" d="M1564 958h0m-100 34h0m10 0h0"/><path class="c1" d="M922 1033h0m-60 68h0m74 14h0m36 34h0"/><path class="c0" d="M882 1019h0m42 8h0m-37-6h0m-35 19h0m7-4h0m9 5h0m5-1h0m8-4h0m49 13h0m-4-1h0m-10 0h0m-4-3h0m-2-1h0m-3 9h0m-10-3h0m-35-4h0m-18 13h0m11 0h0m4 5h0m66-5h0m17 16h0m-33 3h0m-6-8h0m-12 4h0m-9-3h0m-1 4h0m-24-4h0m-2 9h0m-17-3h0m-1 4h0m13 9h0m27-5h0m4 6h0m24-8h0m10 2h0m8 0h0m8 4h0m2-7h0m9 10h0m4-4h0m11 2h0m8 11h0m-28-1h0m-12-7h0m-10 6h0m-29-6h0m-11 3h0m-23 11h0m5 0h0m9 7h0m9 2h0m19-8h0m12-2h0m2 4h0m17 4h0m7-1h0m26-8h0m8 15h0m-7 7h0m-42-1h0m-9-10h0m-10 7h0m-25-5h0m20 17h0m5 2h0m3-6h0m5 2h0m58-1h0m-5 11h0m-1 3h0m-11 4h0m-9-6h0m-19-4h0"/><path class="c4" d="M878 1021h0m10 13h0m35 10h0m-56 14h0m27-1h0m13 17h0m67 29h0m-67-7h0m-60 2h0m48 9h0m5 0h0m34 24h0m27 3h0m-26 11h0"/><path class="c5" d="M880 1029h0m-2 16h0m-3 12h0m-25 14h0m2 11h0m37 5h0m7 9h0m78 11h0m-77 19h0m10 11h0m44 7h0"/><path class="c3" d="M934 1030h0m-34 12h0m30 24h0m-53 2h0m-24 1h0m80 21h0m26-10h0m-13 13h0m-76 3h0m-26-2h0m76 14h0m44-1h0m-43 16h0m-32-5h0m-11 5h0m-9-5h0m104 24h0"/><path class="c5" d="M923 1038h0m-51 14h0m8 6h0m27 31h0m65 49h0"/><path class="c0" d="M903 1019h0m7-1h0m2 7h0m-5-5h0m-8 8h0m-4-5h0m-11 9h0m-9 0h0m-4-1h0m-4-2h0m20 7h0m5 4h0m20-2h0m2-3h0m14 2h0m-63 14h0m-13-5h0m17 12h0m2 6h0m26-6h0m6 1h0m14 5h0m2-1h0m6-1h0m5-5h0m6 13h0m-13 8h0m-17 0h0m-10 1h0m-7-8h0m-12 7h0m-17-5h0m-16-1h0m-5 0h0m29 10h0m1 9h0m3-5h0m9 0h0m18 5h0m0-4h0m72 9h0m-11 1h0m-1 4h0m-4 0h0m-1-5h0m-3 4h0m-12-4h0m-11-3h0m-25 3h0m-8-2h0m-12 1h0m-3 4h0m-9 3h0m-4-1h0m-19-9h0m5 13h0m32 2h0m21 8h0m22-8h0m7 2h0m5-2h0m4 6h0m24 11h0m-1 4h0m-14-6h0m-10 0h0m-21-2h0m-7 6h0m-25 2h0m14 9h0m12 0h0m12-4h0m44-3h0m-8 10h0m-11 0h0m-1 8h0m9 6h0"/><path class="c6" d="M914 1058h0"/><path class="c4" d="M932 1045h0m-13 7h0m-57 5h0m48 1h0m44 19h0m-105 9h0m31-5h0m15 4h0m53 2h0m15-6h0m5 19h0m-26 1h0m-70 7h0m103 1h0m-67 24h0m45 3h0m14 19h0"/><path class="c1" d="M895 1015h0m-42 19h0"/><path class="c0" d="M887 1018h0m7-1h0m9 5h0m-5-1h0m-3 8h0m-6-9h0m-6 3h0m-29 10h0m2 9h0m11-6h0m10-1h0m28 7h0m21 12h0m-13-6h0m-13-1h0m-29-2h0m-12 10h0m-9-7h0m-7 11h0m4-2h0m2 3h0m6-3h0m13 2h0m18 6h0m14-3h0m15-2h0m8 2h0m10-6h0m-16 17h0m-6-3h0m-5 10h0m-2-8h0m-19 6h0m-3-5h0m-25 3h0m-11 9h0m41-1h0m33 4h0m18-5h0m10 0h0m3-1h0m9 10h0m8-11h0m2 5h0m-2 6h0m-37 3h0m-11 3h0m-73 6h0m-7-5h0m10 9h0m24-4h0m4 5h0m6-4h0m3 1h0m2 4h0m11 3h0m13-4h0m12 7h0m22-3h0m26-8h0m-3 13h0m-5 6h0m-4-2h0m-15 3h0m-8 2h0m0-5h0m-9-2h0m-22 2h0m-24 6h0m-1-9h0m-8 4h0m47 14h0m1-4h0m2 5h0m28-7h0m-14 16h0"/><path class="c1" d="M951 1104h0m14 32h0"/><path class="c3" d="M893 1037h0m-7 25h0m72 15h0m-107-4h0m41 7h0m69 8h0m-103 14h0m41 7h0m23 2h0m-15 29h0m52 8h0"/><path class="c4" d="M923 1028h0m-59-2h0m39 25h0m21 15h0m-39 4h0m-22 8h0m-20-3h0m22 6h0m79 5h0m21-1h0m-108 11h0m-4 16h0m11 4h0m26-4h0m68 8h0m-60 1h0m30 15h0m4-4h0m17 15h0"/><path class="c5" d="M966 1147h0"/><path class="c4" d="M898 1015h0m-14 12h0m-4 16h0m4 12h0m-18 29h0m22-2h0m65 7h0m2 36h0m-11 13h0m-2 2h0"/><path class="c6" d="M851 1066h0"/><path class="c3" d="M926 1031h0m-47 42h0m-17 9h0m69 1h0m39 28h0m-12 6h0m13 27h0"/><path class="c5" d="M925 1033h0m-70 53h0m112 17h0m-57 17h0"/><path class="c0" d="M908 1027h0m-29 0h0m-4 1h0m-4-2h0m-6 6h0m15 2h0m0 7h0m25-7h0m5 8h0m28-3h0m-8 14h0m-8 2h0m-9-3h0m-19-3h0m-9 7h0m-7-5h0m-22-2h0m-4 7h0m-6-7h0m12 12h0m45 0h0m2-3h0m3 8h0m22-4h0m2 3h0m19 12h0m-22-3h0m0-5h0m-4 6h0m-8-6h0m-5-1h0m-37 12h0m-20-3h0m-13-8h0m17 16h0m3 3h0m22 1h0m19-1h0m8 1h0m55 1h0m-2 5h0m-49 8h0m-13 0h0m-10-3h0m0-4h0m-26-2h0m-9 0h0m-7 3h0m-11-3h0m17 19h0m6 2h0m2-10h0m6 1h0m7-1h0m61 6h0m27 6h0m-12 11h0m-4-9h0m0 8h0m-16-9h0m-26 8h0m-1 0h0m-5-4h0m-13-1h0m10 10h0m49 9h0m-2 11h0m-2-1h0m-17-8h0m35 14h0m5 1h0m5 0h0m2-4h0"/><path class="c1" d="M894 1052h0m-38 14h0m27 46h0m36 4h0"/><path class="c6" d="M885 1049h0m57 42h0"/><path class="c3" d="M914 1040h0m47 46h0m-5 9h0m-46 19h0m46 2h0m-65 5h0m49 15h0"/><path class="c0" d="M917 1025h0m-16-1h0m-11 1h0m-1 5h0m-25 0h0m-10 6h0m34 4h0m4-1h0m7 4h0m4-8h0m1 9h0m1-6h0m5 0h0m7-2h0m4 6h0m9-10h0m4 1h0m0 10h0m3 0h0m3-11h0m-20 13h0m-16 7h0m-15 2h0m-14-3h0m-9-6h0m-8 0h0m-3 7h0m-12 12h0m19 3h0m1-7h0m12 5h0m19 1h0m6-2h0m7-1h0m12-4h0m28 18h0m-26-6h0m-10 2h0m-22 4h0m-39-2h0m-3-1h0m-10 11h0m19 2h0m9 2h0m18-9h0m25 6h0m11-5h0m7 8h0m6-3h0m38 2h0m-19 7h0m-2 4h0m-3 0h0m-1-3h0m-8-2h0m-26 0h0m-1 9h0m-6-3h0m-10 2h0m-11-2h0m-21 3h0m-1-9h0m-13 8h0m46 13h0m9-6h0m23-2h0m2 2h0m5-3h0m11 0h0m2 0h0m5 7h0m4-1h0m8-5h0m2 8h0m7 12h0m-36-8h0m-2 6h0m-33-6h0m-8 9h0m-4 4h0m11-2h0m17 0h0m0 3h0m7 7h0m30-8h0m19 2h0m-8 18h0m-3-6h0"/><path class="c4" d="M907 1018h0m-31 8h0m-10 17h0m72 2h0m-18 3h0m-52 6h0m11 12h0m-41 19h0m70 15h0m-24 2h0m38 14h0m-26 3h0m-10 0h0m26 17h0m32-7h0m25 20h0"/><path class="c5" d="M928 1040h0m-65 14h0m19 10h0m-35 27h0m91-7h0m36 10h0m-92 13h0"/><path class="c3" d="M847 1054h0m6 39h0m30 27h0m66 19h0"/><path class="c4" d="M880 1059h0m19 12h0m-42 0h0m56 26h0m-57 7h0m-12-8h0m-11-3h0m100 15h0m38 14h0m-21 4h0m-14 9h0m-7 11h0"/><path class="c0" d="M919 1028h0m0-4h0m-6-4h0m-4 10h0m-6-2h0m-58 16h0m3-5h0m0 1h0m21-7h0m14 9h0m1 2h0m10-11h0m15 0h0m22 3h0m10 0h0m-42 18h0m-9-5h0m-1-3h0m-1 10h0m-17-8h0m-23-1h0m-3 16h0m22 2h0m5-4h0m39 4h0m54 13h0m-34-9h0m-14 7h0m-17 1h0m-28 0h0m-2-4h0m-1-2h0m-4 4h0m-20 7h0m28 7h0m17-2h0m3 1h0m7-7h0m15 11h0m1-4h0m3-2h0m9 1h0m27-1h0m19-2h0m-20 10h0m-30 4h0m-6 4h0m-1-9h0m-4 9h0m-27-6h0m-25 1h0m-25-1h0m28 14h0m7 3h0m1 0h0m24-6h0m1 5h0m23 0h0m9 1h0m12-4h0m5 2h0m3-2h0m6-1h0m3 0h0m2 5h0m11-2h0m-10 16h0m-11-9h0m-23 9h0m-1-1h0m0-6h0m-11-2h0m-2 9h0m-31-4h0m58 8h0m21 6h0m7-2h0m-11 16h0m-1-1h0m-13-7h0m-19 1h0"/><path class="c4" d="M859 1032h0m77 39h0m-8 8h0m-4 0h0m-28-4h0m-13 18h0m-17 5h0m80 18h0m-39 14h0m23-1h0"/><path class="c3" d="M860 1043h0m16 19h0m18 8h0m49 15h0m-10 8h0m26 35h0m-19-1h0m10 8h0m-19 6h0"/><path class="c0" d="M913 1030h0m-14-3h0m-1 5h0m-5-7h0m-7 4h0m-15-6h0m-7 16h0m9-2h0m27 2h0m25 3h0m3 2h0m-22 5h0m-25 4h0m0-5h0m-36 4h0m-1-4h0m-3 15h0m2 5h0m28 0h0m21-7h0m3-1h0m2 3h0m22-4h0m16 16h0m-4 1h0m-12-1h0m-24 1h0m-9-4h0m-11 1h0m-9 3h0m-27 12h0m2 2h0m1-9h0m21 6h0m49-4h0m4-1h0m21 9h0m6-9h0m29-1h0m-7 17h0m-30-2h0m-2 4h0m-8 0h0m-2 0h0m-17-8h0m-8 0h0m-6 2h0m-14 8h0m-2-8h0m-6 0h0m-17 7h0m-8 0h0m23 10h0m9 4h0m38-2h0m5-8h0m19 10h0m-1 8h0m-23-3h0m-12-1h0m-12 4h0m-6 2h0m-6-5h0m34 19h0m1-4h0m8-6h0m14 4h0m0 7h0m10-6h0m12 3h0m12 3h0m4-1h0m-54 4h0"/><path class="c6" d="M968 1144h0"/><path class="c5" d="M895 1044h0m-36 4h0"/><path class="c1" d="M914 1076h0"/><path class="c4" d="M1021 1047h0m-22 31h0m41 7h0m7 27h0m14 5h0m-7 10h0m3 25h0m-17 1h0m167 15h0m-34-1h0m-6 17h0m0 46h0"/><path class="c0" d="M1021 1042h0m12-9h0m4 18h0m-11-5h0m0 10h0m0 3h0m23 18h0m-62-1h0m6 6h0m18 0h0m6 1h0m33 5h0m0 16h0m-1-8h0m-50 0h0m-11 19h0m27-4h0m27 0h0m32 2h0m11 9h0m-21 3h0m-1 2h0m-40-6h0m8 11h0m13 1h0m56 5h0m9-1h0m6 13h0m-19-7h0m-15-3h0m-2 7h0m-8-2h0m-48-2h0m-24 4h0m-7 15h0m15-8h0m48 4h0m62 6h0m6-11h0m36 7h0m26 4h0m29-7h0m1 9h0m-22 1h0m-2 7h0m-104 0h0m-79-5h0m37 16h0m35-5h0m3 0h0m34 4h0m8-1h0m62 16h0m-26-1h0m-15-8h0m-14 3h0m-7-2h0m-18 7h0m-9-6h0m-11 3h0m-25 1h0m-24 10h0m69-4h0m16 3h0m25-5h0m14 2h0m22 10h0m-20 11h0m-7-3h0m-19-4h0m-20 4h0m-14 0h0m-10-7h0m59 14h0m22-3h0"/><path class="c3" d="M1065 1099h0m-4 1h0m-42-3h0m-25 23h0m-14-2h0m17 20h0m5 2h0m43-3h0m44 1h0m-75 12h0m84 10h0m10-6h0m32 3h0m82 6h0m-17 7h0m-72-2h0m-22 3h0m-106 9h0m29-2h0m26 0h0m51 8h0m11-8h0m7 0h0m26 16h0m-74-6h0m-12 6h0m-2 1h0m-41 5h0m89 6h0"/><path class="c1" d="M1004 1062h0m15 2h0m2-5h0m9-1h0m10 7h0m-21 4h0m-19 3h0m-9 17h0m15-2h0m16-4h0m9 0h0m23-1h0m2 3h0m9 10h0m-9 8h0m-24 0h0m-29-4h0m-14-3h0m27 20h0m8-11h0m-47 13h0m49 16h0m60 7h0m-21 9h0m-16-4h0m-1-5h0m-52 2h0m-9-1h0m-10 12h0m3-1h0m19 5h0m3-4h0m29 7h0m2-5h0m8 5h0m31 0h0m3-5h0m19 0h0m50 2h0m4 3h0m24 2h0m8-4h0m17 3h0m6-1h0m-3 12h0m-3 2h0m-5-4h0m-35 2h0m-17-1h0m-52-2h0m-45-2h0m-9 1h0m-22 1h0m7 10h0m32-2h0m24 0h0m24 0h0m63 3h0m7 6h0m0-9h0m4 3h0m-17 16h0m-12-6h0m-3 3h0m-2-5h0m-21 10h0m-12-9h0m-20 1h0m-3 5h0m-7-8h0m-21 4h0m-2 2h0m-15-1h0m-3 4h0m-7 5h0m17 1h0m34 4h0m7-5h0m7 6h0m76 11h0m-13-5h0m-4 3h0m-9-5h0m-29 9h0m-1-6h0m-27 5h0"/><path class="c3" d="M1040 1044h0m-7 23h0m20 5h0m-8 7h0m18 42h0m-9 11h0m143 20h0m-69-1h0m-20-7h0m-42 1h0m-26-3h0m7 18h0m14 3h0m71-9h0m12 9h0m69-3h0m-38 11h0m-14 1h0m-14-6h0m-15 9h0m-16-6h0m-82 6h0m146 16h0m-60 2h0m-102-3h0m109 17h0m13-2h0m35 4h0m-53 7h0m-30-3h0"/><path class="c4" d="M1033 1092h0m18-1h0m-34 12h0m51 6h0m-48 53h0m-8 24h0m38-3h0m86-3h0m31 33h0"/><path class="c0" d="M1018 1038h0m7 4h0m-18 13h0m-4 3h0m3 9h0m6-3h0m26 3h0m-19 13h0m-23-1h0m27 7h0m37 4h0m7 1h0m-12 3h0m-25 6h0m-38-2h0m-8 11h0m14-2h0m42 0h0m2 7h0m7-2h0m25 15h0m-4-10h0m-42 8h0m-7-2h0m-32 2h0m-4 1h0m44 2h0m30 0h0m69 18h0m-25-3h0m-20 9h0m-5-2h0m-14-8h0m-31-2h0m-58 4h0m69 9h0m88 10h0m65-2h0m-57 6h0m-112 0h0m-14 0h0m-4 17h0m41-8h0m5 11h0m15 1h0m17-5h0m3-7h0m34 4h0m52-3h0m6 19h0m-24-4h0m-3 0h0m-28-1h0m-49 0h0m-20 16h0m15-2h0m5-4h0m4 7h0m1 1h0m3 0h0m2-7h0m19-2h0m6 3h0m5 3h0m19-5h0m5 3h0m7-2h0m3-1h0m11 11h0m16-8h0m-15 15h0m-21 3h0m-15-9h0m-18 7h0m-2 3h0m-5-8h0m-3 8h0m-3-5h0m10 9h0m12 2h0m12-4h0"/><path class="c1" d="M1022 1031h0m-7 9h0m7-1h0m13 11h0m0-3h0m-5 3h0m-4 0h0m-8-3h0m-4 6h0m-12 2h0m-4 7h0m3 5h0m6-9h0m1 4h0m6-5h0m12 5h0m5 0h0m16 4h0m7 10h0m-5 3h0m-11-3h0m-6 3h0m-7-3h0m-17-6h0m-21 14h0m6 6h0m15-10h0m16 11h0m3-2h0m8-1h0m10-5h0m13 8h0m1-3h0m2 7h0m-15 2h0m-13-1h0m-18 3h0m-4-6h0m-1 2h0m-3 3h0m-2-6h0m0 4h0m-20 5h0m-4 4h0m1 7h0m18-1h0m1-3h0m3-4h0m19 12h0m36-11h0m10 2h0m14 14h0m-11 2h0m-3-5h0m-6 4h0m-19 5h0m-14-8h0m-4 5h0m-11-3h0m-9 3h0m-23-7h0m-5 6h0m7 9h0m7 0h0m4-2h0m6 0h0m16 4h0m4 1h0m21 0h0m18 0h0m40 0h0m26 9h0m-2-1h0m-13 6h0m-22-7h0m-5 7h0m-15 3h0m-3-12h0m-12 2h0m-8 3h0m-9-3h0m-10 10h0m-8-9h0m-12 4h0m-4 5h0m0-9h0m-6-1h0m-11 5h0m-4 0h0m-2 0h0m2 10h0m15-3h0m0-2h0m12 3h0m4 3h0m10-3h0m4 9h0m30-8h0m26 7h0m6-4h0m10 4h0m20-2h0m24-5h0m8 6h0m7 1h0m36-10h0m11 6h0m13-2h0m-6 13h0m-39 5h0m-63-9h0m-5-2h0m-7 7h0m-15-3h0m-28 0h0m-4 4h0m-22-5h0m-2 6h0m-4-9h0m-15 0h0m10 12h0m11 11h0m65-1h0m0-8h0m7 0h0m3 6h0m2-6h0m4-1h0m51 0h0m23 3h0m4-2h0m-2 14h0m-5-1h0m-6 3h0m-1 4h0m-10 2h0m-24-1h0m-21-3h0m-39-1h0m-19 5h0m-21-7h0m-7-5h0m-13 9h0m12 7h0m25 1h0m5 5h0m26 1h0m6-9h0m36 0h0m12 5h0m7 0h0m4 5h0m19 0h0m2-4h0m7 4h0m-4 8h0m-4-4h0m-4-3h0m-11 0h0m-9 2h0m-2-3h0m0 2h0m0 6h0m-5-1h0m0-6h0m-10-1h0m-1 10h0m-9-3h0m-14-3h0m-34 0h0m28 10h0m22 5h0m0-5h0m15-1h0m6 8h0m16-4h0"/><path class="c4" d="M1033 1076h0m-28 7h0m37-2h0m-44 53h0m37-1h0m32-4h0m-28 12h0m-9 13h0m115 16h0m-27-3h0m-65 33h0m106 3h0"/><path class="c0" d="M1020 1034h0m11 6h0m-20 9h0m24 15h0m9-7h0m4 2h0m-11 14h0m-25 1h0m0-4h0m-5 18h0m5-2h0m6 2h0m19 3h0m12 9h0m-5 0h0m-10 0h0m-38 3h0m-18-5h0m0 7h0m12 0h0m19 8h0m21-1h0m24 0h0m27-2h0m-4 14h0m-33-5h0m-44 1h0m-14-1h0m-9 9h0m39 3h0m55-2h0m23 4h0m17 5h0m3 4h0m-31 0h0m-7-2h0m-22 9h0m-20-1h0m-12 2h0m-10-9h0m-22 19h0m62 4h0m14-8h0m44 3h0m25-5h0m0 9h0m43 1h0m32-7h0m-23 15h0m-87-3h0m-20 0h0m-31-4h0m-2 6h0m-26 2h0m2 3h0m2 10h0m16-10h0m6 3h0m35-3h0m53 9h0m52 9h0m-3-6h0m-33 2h0m-18 6h0m-9 1h0m-11-6h0m-13 7h0m-51-5h0m-11 7h0m3 4h0m34 8h0m36-6h0m55 5h0m-48 12h0m-22-5h0m-14-5h0m47 16h0"/><path class="c3" d="M1047 1084h0m-33 11h0m-2 19h0m13-7h0m31 15h0m-79 14h0m6 3h0m29 0h0m38-4h0m28-5h0m-37 19h0m-50-2h0m-4 10h0m135-4h0m90 13h0m-43 5h0m-74-3h0m-1 3h0m-102-5h0m101 16h0m73 13h0m-121 4h0m15 1h0m5 2h0"/><path class="c4" d="M984 1080h0m76 1h0m-72 26h0m95 8h0m24 19h0m-21 26h0m34 54h0"/><path class="c0" d="M1044 1060h0m-14 14h0m-29 0h0m-15-1h0m-10 9h0m21 9h0m2-5h0m32 0h0m5 9h0m-45 12h0m15 6h0m4-6h0m18-1h0m8 7h0m13 13h0m-1-10h0m-10 3h0m-38 10h0m39 0h0m47 6h0m7 2h0m11 1h0m33 14h0m-8-6h0m-11 0h0m-21 2h0m-47 3h0m-11-4h0m-11 1h0m-39 7h0m15 6h0m87 1h0m58-2h0m20 0h0m4-2h0m33-5h0m-51 12h0m-26 3h0m-70-1h0m-12 8h0m-22-3h0m-21 2h0m-4-5h0m3 9h0m24 6h0m32 1h0m25-3h0m35-4h0m25 7h0m15-3h0m24-5h0m6 10h0m-54 9h0m-19 3h0m-46-8h0m-42 2h0m19 9h0m27 7h0m48 1h0m20 10h0m-37 4h0m11 3h0m17 6h0"/><path class="c1" d="M1029 1037h0m-31 29h0m25 1h0m-42 11h0m-2 6h0m5 5h0m2 14h0m12 13h0m36-8h0m6 7h0m23-9h0m-24 17h0m-33 3h0m-4-2h0m10 6h0m7 9h0m46-6h0m10 1h0m7 2h0m41 10h0m-34 5h0m-2-8h0m-27-1h0m-3 4h0m-29-4h0m-4 6h0m-7 2h0m-4-1h0m-31-5h0m-5-3h0m0 9h0m25 12h0m112-5h0m6 2h0m71 3h0m10-1h0m27 0h0m-59 5h0m-35 5h0m-26 2h0m-36-8h0m-11 8h0m-23-9h0m-15 3h0m-18 0h0m43 21h0m5-4h0m16-2h0m3-4h0m39 2h0m18 2h0m16-2h0m39-4h0m-9 16h0m-4 6h0m-28-2h0m-36 1h0m-4-4h0m-11 0h0m-16 1h0m-56 2h0m26 11h0m21 2h0m40 3h0m10-1h0m15-5h0m-21 6h0m-24 2h0m60 11h0m4 7h0"/><path class="c3" d="M1028 1042h0m9 17h0m-56 27h0m41 4h0m63 36h0m-12-5h0m-80 18h0m66-9h0m33 21h0m-90-3h0m-7 11h0m55-1h0m61 5h0m67 3h0m-25 3h0m-50 2h0m-52-2h0m-32 13h0m135-2h0m-39 16h0m-5-4h0m-64-1h0m91 15h0m-3 15h0m-4-1h0m-3 4h0m10 2h0"/><path class="c1" d="M1036 1037h0m15 35h0m-28 7h0m-47 2h0m1 9h0m39 1h0m40 7h0m-12 6h0m-15-10h0m-8 2h0m-8 7h0m-4-2h0m-25 11h0m67-6h0m24 1h0m7 17h0m-25-7h0m-7 2h0m-34 3h0m-14-5h0m-9 8h0m-4 3h0m-10-2h0m36 13h0m9 0h0m8-9h0m35 2h0m14-3h0m3 3h0m58 20h0m-38-3h0m-72 1h0m-12-3h0m-44 7h0m13-1h0m54 1h0m32 10h0m1-6h0m12-2h0m13 4h0m3-4h0m11 2h0m38 0h0m49 8h0m-20 4h0m-34 5h0m-9-9h0m-16 6h0m-34-6h0m-14 7h0m-4-1h0m-3 1h0m-3-5h0m-51 5h0m-4 5h0m5 8h0m23-8h0m57 6h0m7 2h0m36-1h0m26 3h0m7-6h0m2 0h0m1 5h0m-12 9h0m-28 4h0m-2-12h0m-51 3h0m-17-1h0m-23 9h0m-9 0h0m30 5h0m43 3h0m22-4h0m28-1h0m4 9h0m11 10h0m-33 1h0m-29-2h0m-3-8h0m38 20h0m0-6h0m23-1h0"/><path class="c3" d="M1026 1031h0m5 38h0m-44 30h0m0-5h0m48 20h0m30-5h0m13 19h0m-34-4h0m61 20h0m-9 9h0m-10 18h0m-17-4h0m-68 2h0m-14-3h0m38 12h0m12 8h0m18-9h0m10 1h0m75 34h0m41-6h0"/><path class="c4" d="M1023 1030h0m-25 95h0m-9 5h0m6 5h0m30-5h0m48 21h0m-2 25h0m-21 32h0m112 14h0"/><path class="c0" d="M1010 1042h0m6 0h0m22-2h0m1 15h0m-18-4h0m-5 3h0m-3-5h0m-1 11h0m18-3h0m19 7h0m-7 9h0m-4 5h0m-25 1h0m-10 0h0m-5-3h0m-5-3h0m0 4h0m-3-4h0m-15 13h0m23-2h0m25 0h0m24 4h0m10-8h0m10 9h0m6 13h0m-1-2h0m-3 2h0m-5 1h0m-24-8h0m-21 2h0m-22 4h0m-20-5h0m-1 13h0m18 0h0m23 2h0m5 1h0m16-7h0m10 1h0m6 8h0m1-6h0m3 2h0m23 7h0m-43 10h0m-20 0h0m-8-7h0m-5-3h0m-29 16h0m6 4h0m31-1h0m17-2h0m7-4h0m12 2h0m6 2h0m2 4h0m5-5h0m17 3h0m54 14h0m-14 1h0m-13-1h0m-18-5h0m-40-3h0m-19-2h0m-19 1h0m-15 8h0m-1 5h0m13-1h0m15 1h0m4 4h0m11 0h0m12-3h0m3-1h0m11 1h0m7 4h0m0-4h0m9 7h0m6-8h0m15-2h0m45 1h0m45 2h0m9 0h0m3 1h0m1 7h0m5 0h0m4-1h0m13-3h0m-29 6h0m-27 9h0m-19-5h0m-32 6h0m-3-5h0m-56 5h0m-12-7h0m-9 3h0m-21-5h0m-9-1h0m1 11h0m3 0h0m11 7h0m30 2h0m4-5h0m5 4h0m3-7h0m7 7h0m14 3h0m30-11h0m16 7h0m7-6h0m7 7h0m4-3h0m5 2h0m4-5h0m18 8h0m1 11h0m-12-7h0m-14-1h0m-13 0h0m-25 7h0m-22-1h0m-2 2h0m-2 2h0m-9 1h0m-9-1h0m-39-8h0m-10 1h0m-4 2h0m-4-3h0m28 16h0m12-5h0m13 7h0m7-7h0m7 8h0m22-7h0m19-1h0m5 8h0m2-9h0m1 11h0m7-11h0m19 5h0m7 0h0m4-2h0m16-4h0m1 5h0m-3 13h0m-24 5h0m-31-4h0m-12 9h0m45-2h0"/><path class="c1" d="M1022 1055h0m-31 12h0m24 0h0m39 1h0m-8 2h0m-3-1h0m-15 10h0m-26 3h0m52 6h0m-3 11h0m-22-6h0m-2 8h0m-25-9h0m-4 11h0m-16-9h0m40 20h0m20-9h0m28 8h0m4 3h0m-46 0h0m-5 12h0m-36 11h0m17-5h0m49 4h0m22-9h0m43 11h0m-7 8h0m-2 1h0m-32-6h0m0 3h0m-10-2h0m-86 13h0m37 2h0m43 1h0m3 0h0m20 0h0m54 4h0m27-2h0m0-1h0m20-4h0m31 3h0m-84 10h0m-4 0h0m-27 5h0m-23 1h0m-5-7h0m-16 1h0m-31 3h0m-11 9h0m20-5h0m8 6h0m0-5h0m47 2h0m14-3h0m8 7h0m4 3h0m36-4h0m8 3h0m23-2h0m-9 11h0m-5-5h0m-67 2h0m-74 0h0m90 12h0m33 17h0m-29 2h0m-45-10h0m42 17h0m29 3h0m23-5h0"/><path class="c4" d="M1028 1043h0m-24 28h0m-19 52h0m109 25h0m56 22h0m1 6h0m-24 19h0m-28-2h0m34 21h0"/><path class="c3" d="M1013 1066h0m9-1h0m6 5h0m-41 17h0m-10 21h0m90 9h0m-74 0h0m-3 3h0m53 26h0m-56 3h0m130 5h0m92 15h0m-14 1h0m-52 5h0m-15 0h0m-23-7h0m-62 2h0m-53-6h0m27 14h0m80-2h0m82 0h0m-137 17h0m128 13h0m2 13h0m-56 11h0"/><path class="c0" d="M1038 1054h0m-27-4h0m22 11h0m13 2h0m-15 8h0m-9 2h0m-5-1h0m-9 2h0m-26 8h0m12 7h0m46-1h0m23 0h0m5 8h0m-25-3h0m-6 6h0m-13 0h0m-15 3h0m-32 10h0m11 1h0m53-4h0m35 3h0m4-6h0m-3 15h0m-29 3h0m-7-5h0m-8 5h0m-25 2h0m-15 3h0m79 11h0m23-6h0m2-1h0m11 7h0m-45 7h0m-26 3h0m-21 5h0m5 4h0m47 3h0m34 0h0m85-1h0m-6 4h0m-17 3h0m-8 8h0m-75-4h0m-14 3h0m-32-6h0m-36 4h0m43 14h0m20-1h0m4 0h0m12-2h0m12 3h0m7 0h0m12-2h0m5-2h0m12 5h0m17-5h0m36 1h0m1 2h0m-29 9h0m-31-7h0m-48 11h0m0-9h0m-16 6h0m15 16h0m29 0h0m48-5h0m-12 26h0m19-1h0"/><path class="c1" d="M1022 1029h0m18 17h0m-7 1h0m-27 4h0m38 24h0m-25-1h0m-3 0h0m-25 7h0m43 4h0m15 6h0m-56 5h0m-6-3h0m29 14h0m6 2h0m6 4h0m27 7h0m-4 4h0m-33-5h0m-5 8h0m-1-3h0m-35-7h0m1 13h0m8 6h0m3-1h0m18-1h0m15-2h0m10-3h0m12 10h0m16 0h0m34 1h0m-24 8h0m-11 3h0m-29-6h0m-15 0h0m-23-3h0m-15 18h0m21 2h0m10-2h0m26 3h0m22 0h0m24-10h0m15 9h0m5-8h0m5 6h0m19-1h0m1-6h0m11 5h0m32 6h0m15-6h0m11 2h0m25 4h0m-14 10h0m-18-7h0m-4-1h0m-11 4h0m-6 5h0m-4-6h0m-70-4h0m-82 4h0m-14 4h0m-1-5h0m35 15h0m0-6h0m5 6h0m64 0h0m23-6h0m18 3h0m48-3h0m0 6h0m6-5h0m-46 11h0m-51 9h0m-16 0h0m-31-9h0m-13 4h0m-14 3h0m-2-7h0m47 20h0m27-3h0m2-2h0m68 4h0m5-5h0m8 0h0m1 11h0m-34 9h0m-55-5h0"/><path class="c4" d="M1044 1052h0m-18 66h0m-20 3h0m92 93h0"/><path class="c3" d="M1026 1037h0m6 7h0m-18 17h0m-6 47h0m53 11h0m-54 12h0m61 5h0m53 6h0m-114-1h0m36 21h0m83-1h0m2-2h0m4 0h0m-8 8h0m-107-3h0m138 34h0m-96-5h0m-9 7h0m5 6h0m46 1h0m-1 9h0m-5 6h0"/><path class="c0" d="M1131 1007h0m46 4h0m52 3h0m33 11h0m-224 3h0m221 13h0m26-2h0m-236 14h0m172 10h0m93-2h0m3-2h0m6 20h0m-76-5h0m-138 5h0m-21-7h0m211 16h0m25 2h0m-52 29h0"/><path class="c1" d="M1181 978h0m-8 6h0m-75-5h0m-4 0h0m14 8h0m36 2h0m12 4h0m27-2h0m47 11h0m-24 4h0m-9-8h0m-5-1h0m-21-1h0m-22 12h0m-26-7h0m-56 4h0m-11-2h0m-9 16h0m15-2h0m63 0h0m53-2h0m23-6h0m8 6h0m11 0h0m39 7h0m-8 8h0m-18-1h0m-3-1h0m-13-4h0m-5-2h0m-14 2h0m-9 6h0m-4 0h0m-5 1h0m-1-9h0m-4-1h0m-61 2h0m-8 6h0m-19 1h0m-1-10h0m-28 0h0m-9 5h0m-11 5h0m33 13h0m10-2h0m13-4h0m10 1h0m16 0h0m8-4h0m56-2h0m18 1h0m16 7h0m34 1h0m68 5h0m-77 0h0m-15 9h0m-97-5h0m-83 1h0m17 15h0m15 2h0m49-9h0m4 1h0m45 2h0m39 4h0m10-7h0m14 2h0m36 1h0m44 4h0m3-6h0m4 3h0m-8 13h0m-7-1h0m-22 3h0m-5-8h0m-34 7h0m-43-3h0m-22-6h0m-31 5h0m-2-4h0m-7 9h0m-56-7h0m18 14h0m20-2h0m63-1h0m10 0h0m12-1h0m54 3h0m10 0h0m31 3h0m-39 7h0m-10 1h0m-51 0h0m-28 6h0m-2 2h0m-20-3h0m-24 10h0m22-1h0m55 7h0m17-7h0m14 5h0m15-7h0m9 5h0m28 9h0m-24 1h0m-64-1h0m-43-1h0m-31 1h0m-1 5h0m-24 8h0m6-1h0m8 5h0m44 1h0m16-3h0m56 0h0m-48 6h0m-17 10h0m-1-12h0m-10 9h0m-38-8h0"/><path class="c5" d="M1075 1023h0m211 21h0m-78 4h0m-100 38h0m98 15h0"/><path class="c3" d="M1119 967h0m37 3h0m2-9h0m12 4h0m4 14h0m-11 3h0m-23-1h0m-20-7h0m-16 2h0m-1 7h0m107 8h0m15 11h0m-39-5h0m-3 7h0m-14-2h0m-6 0h0m-10-1h0m-16 2h0m-39-5h0m-2 6h0m-32-8h0m6 17h0m8 1h0m25 5h0m5-3h0m62-7h0m15-1h0m63 14h0m-9 0h0m-3 4h0m-60 2h0m-12 4h0m-46-8h0m-71 10h0m22 5h0m8-6h0m6 6h0m25-1h0m82 2h0m26 4h0m53-3h0m38 8h0m-40 2h0m-16 3h0m-13-7h0m-11 5h0m-8-5h0m-115 3h0m-10 5h0m-19-6h0m-21 14h0m37 4h0m20-6h0m58 0h0m37 6h0m8-7h0m16 6h0m46-10h0m53 11h0m-30 7h0m-11-4h0m-12 6h0m-7 0h0m-4-4h0m-21-2h0m-29 0h0m-5 0h0m-6 7h0m-8-8h0m-6 9h0m-3-3h0m-3 1h0m-10 4h0m-83 8h0m60-3h0m40 6h0m26-2h0m14 0h0m1-7h0m95-1h0m-1 19h0m-18-8h0m-14 7h0m-46 4h0m-78 0h0m-18 8h0m12 2h0m7 2h0m12 0h0m17-1h0m0 2h0m21-9h0m46-2h0m14 3h0m10 11h0m-34 0h0m-8-1h0m-9 10h0m-4-7h0m-3 2h0m-16 0h0m-77 8h0m29 0h0m85-2h0m5 6h0m-11 10h0m-113 2h0m-2-3h0m30 14h0m68 2h0"/><path class="c4" d="M1117 970h0m35-5h0m18 15h0m-70 14h0m20-7h0m123 21h0m-78-2h0m49 8h0m60 17h0m-51-6h0m-130-2h0m-38 15h0m5-2h0m165 6h0m-42 9h0m-22-4h0m-31 19h0m171 3h0m-14 7h0m-216-6h0m8 20h0m57-9h0m26 7h0m102 8h0m-50 6h0m53 21h0m-95 2h0m-38-9h0m41 14h0m54-2h0"/><path class="c5" d="M1164 977h0m-62 11h0m-27 16h0m264 73h0m-7-2h0m-111 2h0m-7 12h0m26 14h0m-17 9h0m-42 39h0"/><path class="c4" d="M1118 995h0m46-11h0m48 3h0m-128 37h0m-34 16h0m164-2h0m15 9h0m-163-1h0m-15 12h0m52 9h0m75 11h0m-29-5h0m-24 6h0m-27-6h0m133 12h0m25 21h0m-126 24h0m61 14h0"/><path class="c3" d="M1179 981h0m-39 3h0m-29-6h0m-20 7h0m21 3h0m7 6h0m7 0h0m10-5h0m13 4h0m71 9h0m-21-2h0m-14 2h0m-7-4h0m-4 2h0m-22-2h0m-17 2h0m-50 2h0m-25 6h0m41 1h0m26-1h0m10 11h0m31-2h0m19-2h0m9-6h0m7 3h0m9 7h0m57 10h0m-125 1h0m-72 0h0m-1-6h0m-28 14h0m31 0h0m44 4h0m46-10h0m106 8h0m61 12h0m-45-6h0m-26 7h0m-27-5h0m-24 3h0m-55-2h0m-14-2h0m-66-1h0m-6 3h0m49 8h0m41 9h0m23 2h0m5-10h0m21-1h0m77 21h0m-39-1h0m-14-4h0m-7-4h0m-24 0h0m-53 5h0m-87-1h0m17 13h0m12-4h0m6-1h0m48 9h0m111-5h0m85-2h0m-18 10h0m-3 6h0m-11-1h0m-6-5h0m-22-1h0m-67 8h0m-27 0h0m-19 1h0m-15 4h0m38-1h0m24 3h0m35 6h0m69-1h0m-18 9h0m-6 6h0m-10 0h0m-61-8h0m-5 7h0m-1-7h0m-14 6h0m-21-7h0m-77 12h0m6-1h0m35 6h0m43 0h0m22-6h0m3 3h0m8-1h0m44 4h0m7-4h0m-22 13h0m-1 5h0m-9-6h0m-25 7h0m-57-9h0m-13 4h0m7 8h0m62 1h0m8 0h0"/><path class="c0" d="M1139 971h0m26 0h0m-9 10h0m-44-3h0m-53 20h0m196 15h0m-218 16h0m48 5h0m25 9h0m39-7h0m38 10h0m-119 10h0m142 10h0m43-2h0m40 1h0m12-1h0m-98 20h0m26 51h0m-72 8h0"/><path class="c1" d="M1142 962h0m19 9h0m-10 2h0m-19-1h0m-43 9h0m-23 13h0m16-5h0m45 1h0m14 2h0m29-5h0m65 20h0m-103 0h0m-33-6h0m-24-3h0m-5 2h0m-17-2h0m-5 8h0m4 13h0m13-9h0m22 2h0m24 0h0m53 5h0m35 0h0m34-7h0m21 7h0m11 15h0m-91-4h0m-12-7h0m-4 6h0m-4-7h0m-23 11h0m-18-3h0m-12-6h0m-44 19h0m3-1h0m8-5h0m23 9h0m20-11h0m12 10h0m17-5h0m5-3h0m9-1h0m25 1h0m13 6h0m88-1h0m44 6h0m-23 0h0m-12 6h0m-9-4h0m-32 1h0m-19 1h0m-10 6h0m-36-1h0m-2-7h0m-3 1h0m-7 1h0m-6-2h0m-8 8h0m-6-12h0m-31 1h0m-6 6h0m-3 2h0m0-8h0m-26 11h0m-24-11h0m-8 5h0m-8-3h0m45 18h0m6 1h0m122-7h0m13-2h0m26 6h0m7-6h0m4 10h0m5 0h0m0-6h0m11 2h0m51-3h0m-54 17h0m-20 0h0m-12-3h0m-56 0h0m-3-6h0m-8 2h0m-3 7h0m-84-2h0m-20-2h0m-3 7h0m-11-6h0m91 14h0m2-1h0m22-2h0m4 1h0m77-3h0m33 5h0m12-5h0m18 2h0m-70 12h0m-21-5h0m0 11h0m-7-11h0m-27 10h0m-10 2h0m-26-7h0m14 7h0m4 11h0m14-5h0m16-4h0m25 5h0m5-6h0m2 5h0m30-1h0m19 0h0m32-4h0m-39 11h0m-36 7h0m-14-4h0m-37-1h0m-35 6h0m-14 1h0m-30-4h0m31 15h0m49 9h0m-4 5h0m-15-10h0"/><path class="c5" d="M1191 987h0m30 19h0m-156 13h0m102 16h0m-41 32h0m52 5h0m-54 63h0"/><path class="c1" d="M1140 968h0m3 0h0m45 11h0m-22-3h0m-28 4h0m-42 13h0m72 0h0m55 1h0m-4 13h0m-13-6h0m-9-2h0m-66 1h0m-24 5h0m-4-1h0m-48 10h0m2-5h0m0 10h0m32-1h0m5-5h0m2-1h0m6 4h0m6-6h0m8 10h0m2-6h0m6-3h0m18-3h0m48 1h0m6 9h0m3 2h0m13-12h0m4 8h0m4-6h0m33 5h0m4 15h0m-55-1h0m-15-4h0m-5-4h0m-51 1h0m-2 6h0m-28-2h0m-3 3h0m-27-6h0m-12 6h0m-15 14h0m120 0h0m4 0h0m11-5h0m0 3h0m16-1h0m3 3h0m8-7h0m6 5h0m25-1h0m11 2h0m2-2h0m69 10h0m-4 2h0m-2-7h0m-37 6h0m-4 4h0m-6-10h0m-42 11h0m-3-11h0m-17-1h0m-35 8h0m-18 1h0m-26-4h0m-27-4h0m-19 12h0m17 2h0m5 7h0m5-4h0m12 4h0m12-10h0m10 2h0m20 5h0m33-3h0m14 5h0m12-1h0m27-1h0m30 4h0m5-6h0m22-1h0m19-3h0m2 5h0m12 2h0m-3 9h0m-9 3h0m-10-6h0m-18 3h0m-25-1h0m-37-3h0m-60 6h0m-27-5h0m-4 4h0m-7 1h0m-17 0h0m-37 1h0m-20-7h0m10 16h0m73 3h0m6-8h0m25 11h0m16-2h0m45-3h0m20 1h0m5 2h0m10-7h0m15 1h0m3 8h0m6-5h0m18-6h0m5 9h0m10-4h0m-24 16h0m-33-8h0m-4 7h0m-66 4h0m-18-12h0m-13 9h0m-86-6h0m0 11h0m102 4h0m12-2h0m6 4h0m20-5h0m21 2h0m16 1h0m12 3h0m45-2h0m-56 14h0m-7-1h0m-30-5h0m-74-2h0m-2 5h0m-15-1h0m-9 11h0m31 0h0m24 6h0m6 0h0m10-5h0m26 0h0m39 6h0m14-6h0m-55 14h0m-14-6h0m-4 1h0m13 12h0"/><path class="c0" d="M1126 964h0m-38 76h0m10-1h0m123-5h0m15-1h0m63 8h0m29 14h0m-56-9h0m-157-2h0m161 16h0m50 9h0m-47 1h0m-14 7h0m-10-5h0m-5 0h0m-52 3h0m-60-4h0m-36 16h0m83 3h0m5 10h0m-1-3h0m-8 17h0m96 13h0m-108-7h0m62 28h0"/><path class="c3" d="M1192 976h0m-16 2h0m-17 1h0m-31-5h0m-34 15h0m36-1h0m46 6h0m8-4h0m18 2h0m18 3h0m-28 11h0m-3-10h0m-49 7h0m-1-4h0m-27 3h0m-18-3h0m-16 1h0m-37 12h0m6-3h0m70 8h0m28-4h0m2 5h0m11-1h0m17-1h0m40-7h0m4 10h0m49 6h0m-18-2h0m-9 5h0m-44 0h0m-28-3h0m-56 6h0m-38-5h0m26 7h0m18 4h0m24 6h0m16-7h0m44 1h0m25 7h0m16-2h0m16-4h0m22 4h0m43 8h0m-32 2h0m-77 1h0m-70-7h0m-25 6h0m-22 0h0m-10 1h0m-10 1h0m6 5h0m60 6h0m29 3h0m5-1h0m34-4h0m37 4h0m2-6h0m79 18h0m-110-6h0m-78-2h0m-32-1h0m-7 4h0m-39 5h0m71 9h0m12-2h0m37-2h0m5 3h0m8-6h0m27 3h0m12-2h0m16 10h0m25-2h0m30-4h0m16-2h0m-65 9h0m-29 9h0m-10 1h0m-37-6h0m-30 14h0m161-5h0m-8 14h0m-52 0h0m-12 6h0m-54-2h0m-19 0h0m-6 2h0m0-9h0m-10 5h0m-9 16h0m49-9h0m3 11h0m74-2h0m14-10h0m-56 21h0"/><path class="c4" d="M1131 967h0m-7 11h0m2 7h0m48 2h0m3-2h0m-115 28h0m78-3h0m19-1h0m41 4h0m7-2h0m57 11h0m-29 9h0m33 3h0m-210 27h0m54-4h0m93 3h0m88-1h0m-52 17h0m-31 9h0m52 15h0m-5 2h0m-32-3h0m-50-1h0m21 15h0m85 0h0m6 12h0m-114-2h0m-6-4h0m-19 31h0m-21-8h0"/><path class="c0" d="M1130 985h0m12 5h0m-66 18h0m46 7h0m96-1h0m43 16h0m-219 6h0m179 6h0m111 12h0m-62 11h0m36 8h0m-47-1h0m-182 3h0m-8 2h0m56 7h0m170-4h0m0 22h0m-62-4h0m-6-1h0m26 31h0m-131-5h0"/><path class="c5" d="M1144 971h0m-73 62h0m195 4h0m29 29h0m-4 39h0m-150 31h0m32 1h0"/><path class="c1" d="M1130 965h0m46 5h0m2-2h0m-55 10h0m-47 10h0m2-2h0m4 8h0m14-6h0m17-4h0m44 4h0m83 15h0m-41 3h0m-40-1h0m-5-8h0m-34 11h0m-33-1h0m-8-10h0m-11 2h0m7 20h0m94-8h0m36 6h0m33 8h0m-21-2h0m-47-1h0m-18 5h0m-55-1h0m-44-1h0m-2-5h0m53 21h0m23-3h0m75 5h0m31-1h0m8-6h0m4 3h0m68 5h0m7 12h0m-11-11h0m-24 11h0m-4-1h0m-27-5h0m-56 1h0m-51 4h0m-16-8h0m-4 7h0m-20 1h0m-41-1h0m-11-9h0m15 22h0m1-8h0m1 3h0m4-2h0m66-3h0m48 7h0m47 0h0m2 2h0m1-5h0m18-2h0m23 9h0m1-10h0m35 21h0m-10-2h0m-4 2h0m-14-10h0m-62 10h0m-11-6h0m-2 4h0m-98 1h0m-31 14h0m57-11h0m13 1h0m1 4h0m15 1h0m101-6h0m10 0h0m33 6h0m17 8h0m-21-2h0m-9 3h0m-23-1h0m-38 2h0m-30 1h0m-4-5h0m-13 1h0m0 2h0m-46-2h0m-18 18h0m33-7h0m30 0h0m40 11h0m7 0h0m45-1h0m14-9h0m9 13h0m-45 0h0m-11 3h0m-4 4h0m-20-1h0m-7 0h0m-26-4h0m-48-3h0m-3 0h0m-39 9h0m44 11h0m16-4h0m63 5h0m47-7h0m-108 22h0m3 1h0"/><path class="c3" d="M1109 983h0m-13 0h0m18 12h0m29-10h0m17 3h0m26 6h0m19 1h0m5-9h0m18 21h0m-14-4h0m-24-3h0m-12 0h0m-41-2h0m-79 16h0m31-4h0m65 2h0m72 7h0m8-1h0m3 1h0m4-5h0m4 0h0m4 2h0m2-6h0m9 9h0m-8 5h0m-6 6h0m-32-2h0m-10-1h0m-13-2h0m-18-1h0m-21-3h0m-43 0h0m-30 9h0m-16-2h0m-7-7h0m-25 6h0m82 8h0m42 2h0m53 2h0m114 16h0m-17-7h0m-24 3h0m-33 4h0m-8-5h0m-26-4h0m-12 8h0m-16-2h0m-16 2h0m-6 2h0m-60 2h0m19 0h0m28 5h0m6 1h0m25-3h0m15-5h0m6 6h0m55-5h0m78 9h0m1 12h0m-99-7h0m-13 3h0m-38-1h0m-21 2h0m-3-2h0m-7 3h0m-52 9h0m89-1h0m27-4h0m27 8h0m34 6h0m-32 0h0m-28 2h0m-18 4h0m-41 8h0m54 5h0m18-7h0m1 3h0m20 0h0m39 5h0m-13 8h0m-43 4h0m-125-1h0m10 4h0m51 5h0m41 2h0m1-7h0m5 10h0m14-9h0m31 7h0m-95 10h0m-8-1h0m-19-2h0"/><path class="c4" d="M1196 993h0m5-4h0m-60 11h0m-47 9h0m46 6h0m-110 8h0m21 10h0m24 9h0m189 22h0m33-5h0m9-3h0m-123 24h0m-19 10h0m7-6h0m-15 31h0m72-3h0m59-7h0m9 1h0m0 5h0m10-6h0m-147 16h0m-1-3h0m-32 8h0m-7 7h0m63 8h0m-43 2h0m88 12h0"/><path class="c5" d="M1202 1006h0m-13 1h0m-88 8h0m44 23h0m-81 26h0m184-4h0m-166 22h0m-9 11h0m68 18h0m96 1h0m75 4h0m-87 7h0m-64 24h0m-5 8h0"/><path class="c1" d="M1165 964h0m6 4h0m9 3h0m17 11h0m-52-3h0m-16-4h0m-4 6h0m-37 6h0m16 9h0m50-12h0m55 11h0m1-5h0m25 12h0m-1-4h0m-10-2h0m-75 11h0m-33 0h0m-50-3h0m6 13h0m88-5h0m73 3h0m9 4h0m-13 13h0m-10-4h0m-2 3h0m-7-9h0m-54 6h0m-53-3h0m-8 19h0m6-1h0m20-7h0m9 7h0m4 1h0m50-6h0m3-5h0m3 3h0m8-2h0m0 6h0m49-5h0m18-1h0m11 0h0m3 10h0m16 4h0m-4 7h0m-16-4h0m-15-6h0m-4 2h0m-11 3h0m-9 4h0m-63-8h0m-15 3h0m-23 1h0m-28-2h0m-4-2h0m-2 8h0m-13-1h0m-9-5h0m-9 0h0m-7 11h0m22 9h0m42-5h0m8 2h0m75-7h0m18 4h0m5 0h0m29 0h0m5-3h0m22 5h0m6-8h0m23 8h0m12 9h0m-21-2h0m-34 3h0m-55-5h0m-49 4h0m-12-3h0m-14-1h0m-18 3h0m-22 2h0m-28-6h0m-9 8h0m10 15h0m35-6h0m7 1h0m121-3h0m24-1h0m9 6h0m21 1h0m20 2h0m5 6h0m-7-1h0m-39 5h0m-28-7h0m-9 1h0m-2-2h0m-15 4h0m-10-4h0m-12 3h0m-18-1h0m-20 9h0m-75-1h0m-3-9h0m48 22h0m66-6h0m97 0h0m8-1h0m-25 7h0m-3 7h0m-12-2h0m-4 6h0m-33-3h0m-12-4h0m-6-2h0m-16 8h0m-11 2h0m-40-1h0m-31 0h0m23 8h0m4-4h0m5 2h0m10-4h0m60 10h0m9-3h0m60-7h0m-69 14h0m-70 3h0m26 11h0m44-5h0m22 2h0"/><path class="c3" d="M1149 967h0m5 2h0m6-4h0m5 3h0m33 15h0m-48-7h0m-49 7h0m-24 12h0m8 0h0m36-9h0m43 8h0m44-1h0m6 6h0m-38 7h0m-17-3h0m-36-6h0m-11 4h0m-19 4h0m-25-3h0m-22 4h0m82 11h0m2-5h0m2 7h0m10 0h0m10-11h0m58 21h0m-8-6h0m-7-3h0m-14 5h0m-32 2h0m-56 4h0m-52-4h0m39 13h0m54-6h0m30 6h0m22 1h0m141 5h0m-18 3h0m-138 0h0m-77 14h0m6-3h0m34 6h0m27 1h0m24-3h0m51-4h0m27 7h0m67-7h0m-28 15h0m-55 3h0m-4 1h0m-129-3h0m-44 12h0m12-3h0m3-1h0m68 8h0m6-1h0m5-8h0m9 6h0m26 0h0m5-2h0m5 2h0m27-6h0m4 7h0m21-9h0m5 6h0m17 3h0m50-3h0m1 6h0m-11 2h0m-82 9h0m-37-6h0m-55 12h0m7-4h0m18 10h0m33-8h0m15-2h0m27 0h0m11 9h0m11 11h0m-28-5h0m-97 0h0m-1 9h0m60 10h0m83-11h0m-47 21h0m-17 1h0m-37-8h0m-21 6h0m0-5h0m-10 7h0m-9-8h0m40 9h0"/><path class="c4" d="M1112 971h0m45 6h0m-54 14h0m30 4h0m12 0h0m-53 7h0m-41-1h0m12 19h0m158 1h0m-155 21h0m110-4h0m98 11h0m-153 5h0m-2-5h0m-34 0h0m221 20h0m-83 10h0m-50-7h0m33 10h0m119 9h0m-169 6h0m50 16h0m4-3h0m82 5h0m-115 6h0m58 25h0m-83-2h0"/><path class="c0" d="M1141 1026h0m41 16h0m-27 8h0m9 11h0m176 10h0m-67 0h0m-188 3h0m-4 15h0m15-6h0m131 10h0m42 18h0m16 12h0m-83-3h0m-48 11h0m36 2h0m57-1h0m5 15h0"/><path class="c1" d="M1135 966h0m49 4h0m10 8h0m-7 5h0m-57-5h0m-13 3h0m-4-4h0m4 10h0m27 8h0m49-5h0m7-5h0m19 9h0m-5 7h0m-46 3h0m-4-8h0m-39 2h0m-36 7h0m-8 0h0m-3 2h0m-17-4h0m-5 4h0m-19 11h0m6-5h0m43 4h0m9-1h0m12-6h0m2 3h0m58 2h0m8-3h0m56 11h0m-65-3h0m-27 2h0m-1 0h0m-3 5h0m-55-6h0m0 3h0m-30 6h0m63 10h0m25-6h0m19 7h0m2-4h0m73-3h0m23 2h0m8 6h0m50 12h0m-23-9h0m-25 4h0m-20-1h0m-7-4h0m-16 5h0m-22 1h0m-5-4h0m-8 9h0m-1-7h0m-38 2h0m-4 3h0m-49-4h0m-45-3h0m8 20h0m19-3h0m14-3h0m7-3h0m50 9h0m10-5h0m11-4h0m62 0h0m54 4h0m23 2h0m4 3h0m20-2h0m-72 5h0m-10 11h0m-17-3h0m-70-3h0m-3 4h0m-20-2h0m-1-7h0m-6 2h0m-3 7h0m-7-2h0m-23 0h0m-10-2h0m-13-2h0m91 10h0m14 5h0m69 0h0m35 4h0m26-8h0m23 2h0m-13 16h0m-28 0h0m-42-1h0m-13-6h0m-5 6h0m-36 3h0m-34-5h0m-38 14h0m13-4h0m34 3h0m14 4h0m74-10h0m14 4h0m33 3h0m-20 10h0m-3-4h0m-87 3h0m-12-3h0m-3 3h0m-63 6h0m-12 4h0m27 3h0m54-2h0m9-1h0m33-2h0m14 0h0m30 3h0m-54 17h0m-77 1h0m95 3h0"/><path class="c3" d="M1145 965h0m17 1h0m-53 12h0m-5 4h0m-13 9h0m22 2h0m79 0h0m-14 14h0m-17-11h0m-13 10h0m-53-7h0m-54 19h0m74-7h0m71 8h0m37-10h0m7 1h0m0 8h0m-37 12h0m-32 2h0m-9-1h0m-14-6h0m-72 5h0m-29 5h0m9 6h0m5 0h0m39-7h0m14-2h0m46 7h0m74-4h0m17-1h0m1-1h0m65 10h0m1 11h0m-5-5h0m-50-3h0m-48 4h0m-46 3h0m-9-9h0m0 2h0m-13 4h0m-1-5h0m-81 16h0m20-5h0m24 6h0m12-2h0m3 0h0m2 6h0m26-2h0m24-3h0m133 3h0m8-6h0m28 17h0m-11-2h0m-121 2h0m-137-5h0m1 14h0m2-3h0m95 11h0m63-4h0m22-3h0m63 17h0m-4 1h0m-13-11h0m-4 6h0m-10 3h0m-7-3h0m-113 3h0m-79-2h0m99 12h0m93-6h0m5 6h0m25 4h0m-100 13h0m-26-2h0m-19 2h0m-8-3h0m-24 12h0m6 0h0m113-5h0m12 7h0m3-8h0m4-2h0m-8 12h0m-5 0h0m-54 6h0m-45-7h0m82 17h0m5-4h0"/><path class="c0" d="M1126 968h0m29-3h0m42 23h0m-112 24h0m5 14h0m169 23h0m-143 14h0m34-6h0m79 15h0m-111-1h0m138 10h0m71 14h0"/><path class="c4" d="M1116 970h0m41 13h0m-13-5h0m-40-5h0m-33 19h0m102 3h0m-66 4h0m7 19h0m68-1h0m57-8h0m-92 13h0m-25-1h0m-18 8h0m-61 2h0m-1-9h0m98 19h0m153 1h0m-25 12h0m-104-2h0m-72-7h0m-10 5h0m-15 12h0m136-3h0m41 1h0m57 12h0m-199-1h0m43 12h0m112 15h0m-45 28h0m-22-6h0"/><path class="c5" d="M1109 994h0m19 10h0m33 5h0m-42 21h0m136 6h0m-168 8h0m87 19h0m70 3h0m-44 4h0m-79 1h0m182 29h0m-27-1h0m-32 17h0"/><path class="c4" d="M1137 963h0m16 28h0m37-6h0m-103 13h0m-27 7h0m133 14h0m1-4h0m33 7h0m-59 8h0m10 24h0m-51-9h0m-56 5h0m-4 9h0m53 21h0m15 3h0m60 2h0m113-3h0m-131 20h0m-40 14h0m21-3h0m-5 21h0m1 2h0m10-6h0m5 7h0m50-2h0m-35 19h0"/><path class="c5" d="M1185 1013h0m-124 31h0m254 25h0m-147 0h0m50 16h0m82 12h0m-56 2h0m-76-6h0m-32 20h0m164 2h0m-33 12h0m-86-2h0m-3 8h0"/><path class="c0" d="M1169 970h0m-21 15h0m34 0h0m-29 33h0m17 20h0m63 11h0m-149 14h0m47-1h0m41-5h0m130 59h0m-79 6h0m-26 17h0m36 11h0"/><path class="c1" d="M1106 971h0m31 0h0m68 12h0m-16-9h0m-4 1h0m-11 3h0m-37-2h0m-5-1h0m-47 8h0m47 1h0m33 4h0m50 6h0m29 13h0m-10-2h0m-5-8h0m-19 2h0m-54 6h0m-8-6h0m-27 6h0m-15-9h0m-27 7h0m-9 7h0m58 4h0m9-1h0m14 2h0m21 0h0m10-6h0m78 15h0m-4 0h0m-13 2h0m-34 1h0m-8 0h0m-11-5h0m-27 2h0m-21 5h0m-8 2h0m-7-9h0m-1 9h0m-3-3h0m-41-6h0m-11 7h0m-15 1h0m-9-10h0m-13 1h0m22 15h0m8 2h0m30-5h0m32 2h0m6 3h0m3 0h0m91 2h0m31-7h0m16 9h0m4-2h0m23 2h0m-1 7h0m-58 4h0m-28 1h0m-9-9h0m-7 3h0m-7 1h0m-48 5h0m-59-9h0m-24 7h0m-6 1h0m50 9h0m16-5h0m3 5h0m55-1h0m16 2h0m5-1h0m114-1h0m7 9h0m-3 7h0m-18 1h0m-5-9h0m-16 11h0m-9-1h0m-38-3h0m-36-6h0m-43 4h0m-22 1h0m-20-6h0m-26 4h0m-3 8h0m8 7h0m3-5h0m5-2h0m16-1h0m112 8h0m47-1h0m11-3h0m10 1h0m37 3h0m-65 4h0m-46 11h0m-18-9h0m-28-2h0m-27 19h0m28-2h0m2 1h0m36 4h0m34-8h0m6 6h0m5 0h0m23-7h0m26 6h0m5 0h0m-12 6h0m-31 1h0m-15-1h0m-19 9h0m-37-1h0m-49 2h0m-5-6h0m-17-1h0m-1-3h0m-9 11h0m86 5h0m4 3h0m6-3h0m19 1h0m38-2h0m-25 16h0m-14-1h0m-74 4h0m6 3h0m84-2h0"/><path class="c3" d="M1124 971h0m32 0h0m37 9h0m-8 1h0m-17 2h0m-14-5h0m-5 3h0m-21 11h0m23-2h0m30 0h0m0 10h0m-6-2h0m-39 8h0m-6-10h0m-10 5h0m-6 4h0m-32-8h0m-28 11h0m-5 5h0m25-2h0m6-2h0m0 7h0m90 3h0m66-7h0m6 8h0m6 6h0m-25 3h0m-101-4h0m-12-1h0m-12-2h0m-15 7h0m-17-2h0m-10-2h0m24 11h0m93 6h0m1-8h0m37 2h0m5 0h0m6 2h0m12 1h0m40-3h0m-79 20h0m-19-2h0m-40 1h0m-47-9h0m-28 4h0m-1 5h0m94 5h0m41 1h0m58 5h0m48-10h0m-8 20h0m-90-5h0m-38 7h0m-56-2h0m-37 14h0m29-10h0m1 2h0m36 4h0m30-3h0m13 5h0m20-3h0m13 0h0m31-2h0m59 4h0m11-5h0m14 10h0m-40 10h0m-3-7h0m-17 2h0m-22 2h0m-33-6h0m-45 3h0m-90-1h0m66 19h0m24-5h0m45-4h0m34 2h0m23-3h0m45 9h0m0-4h0m-111 17h0m-15-7h0m-60 7h0m6 12h0m28-6h0m20-1h0m1 7h0m29-9h0m27 7h0m15 9h0m-53 0h0m-7-3h0m-21 9h0m-21-5h0"/><path class="c0" d="M1101 971h0m-11 11h0m-28 12h0m0-1h0m2-5h0m12-1h0m-22 17h0m0-6h0m-1-1h0m-3 2h0m-4 8h0m-22 13h0m6-3h0m5-6h0m5 9h0m-19 9h0m-5 0h0m-11 10h0m11-2h0m5-1h0m-13 17h0m0-5h0m-22 15h0m5-1h0m4 4h0m4-5h0m1 4h0"/><path class="c3" d="M1090 987h0m-61 29h0m-33 54h0"/><path class="c1" d="M1104 981h0m-14-1h0m-12 4h0m-16 11h0m6-4h0m1 2h0m16-1h0m7-7h0m-25 13h0m-6 1h0m-3 7h0m-30 7h0m6-4h0m1 1h0m4 5h0m9-2h0m-37 18h0m6 5h0m0-3h0m5 3h0m-13 9h0m-2 5h0m-20 14h0m3-7h0m4 0h0m2 13h0"/><path class="c2" d="M1089 990h0m-25 7h0m-38 28h0m-4 2h0m-27 30h0m5 5h0"/><path class="c3" d="M1068 999h0m-9 0h0m-11 8h0m3 2h0"/><path class="c0" d="M1102 971h0m2-2h0m4 7h0m-3 2h0m-1-5h0m-7 2h0m-26 19h0m0-1h0m5-4h0m1-5h0m1 3h0m3 2h0m7-5h0m2 7h0m-20 9h0m-11 2h0m-4-4h0m-2 2h0m-28 19h0m9-10h0m-3 18h0m-4-1h0m-4-5h0m-1 5h0m-9 10h0m1 4h0m2-3h0m2-2h0m-15 11h0m-6 8h0"/><path class="c1" d="M1109 974h0m-9-2h0m-1 10h0m-3-6h0m-8 1h0m-30 15h0m3 2h0m3-5h0m11 3h0m16-6h0m3 3h0m4-2h0m4-2h0m-58 21h0m-8 10h0m10-7h0m1 3h0m-17 18h0m-10-5h0m-12 16h0m15-6h0m-8 12h0m-4 2h0m-10 4h0m-10 3h0m5 9h0m4-4h0"/><path class="c2" d="M1069 987h0m-32 20h0m-2 6h0m5-2h0m-37 32h0m4 9h0m-8 1h0m-9 6h0"/><path class="c1" d="M1096 1100h0"/><path class="c0" d="M1106 1106h0"/><path class="c1" d="M1124 1100h0m-10-1h0"/><path class="c0" d="M1101 1117h0"/><path class="c1" d="M1097 1122h0"/><path class="c3" d="M1092 1112h0"/><path class="c0" d="M1139 1099h0"/><path class="c3" d="M1132 1104h0"/><path class="c0" d="M828 1056h0m362 154h0"/><path class="c6" d="M1148 959h0"/><path class="c2" d="M1100 979h0m78 12h0"/><path class="c1" d="M1186 952h0m-25 4h0m35 20h0m-40 4h0"/><path class="c3" d="M1197 956h0m-23 0h0m-16-1h0m-9 10h0m14 3h0m4-2h0m26 0h0m34 4h0m-8 10h0m-55 6h0m44 1h0m6-3h0m19 11h0"/><path class="c4" d="M1115 968h0m20 1h0m11-6h0m15-3h0m15 4h0m10 8h0m31-6h0m15 6h0m-2 7h0m-12-4h0m-66 6h0m-18-6h0m-29-3h0m46 15h0m23 0h0m38 4h0m15 4h0m7-7h0m-8 10h0"/><path class="c5" d="M1185 953h0m-63 17h0m22 1h0m64-4h0m-19 17h0m0-4h0m-70-3h0m-13 2h0m95 7h0m27 5h0"/><path class="c0" d="M1170 958h0m22 17h0m-6 4h0m-10-5h0m55 23h0m-9 3h0"/><path class="c3" d="M1164 959h0m-34 2h0m9 2h0m12 0h0m3 8h0m38-10h0m19 7h0m8-5h0m10 14h0m-31 5h0m-36-6h0m-6-3h0m-17 5h0m-16 4h0m31 4h0m24 2h0"/><path class="c0" d="M1189 959h0m-34 17h0m-6 0h0m-17 4h0m-20-7h0m112 19h0"/><path class="c1" d="M1199 959h0m-75 4h0m50 6h0m30-7h0m7 19h0m-38 1h0m-9-8h0"/><path class="c5" d="M1203 960h0m-27-3h0m46 7h0m-29 11h0m-13 5h0m-22 3h0m5 2h0m41 2h0m29-2h0"/><path class="c4" d="M1110 969h0m47 0h0m28-8h0m30 7h0m-45 12h0m-2-7h0m-23 2h0m-34 6h0m-3-2h0m33 6h0"/><path class="c2" d="M1125 965h0m52 2h0m34 11h0m-25 0h0m-56-2h0m-3 1h0m29 9h0m29-2h0m29 10h0"/><path class="c4" d="M1172 958h0m-18 1h0m15 1h0m40 24h0m-9-8h0m0-4h0m-51 2h0m-37 3h0"/><path class="c3" d="M1172 955h0m-25 9h0m2 4h0m32-1h0m32 7h0m-8 4h0m-9 2h0m-60-7h0m0 10h0m-33-1h0m83 7h0m7 1h0m7 2h0m20 2h0m-1 4h0"/><path class="c6" d="M1183 960h0m-48 2h0m92 24h0"/><path class="c5" d="M1185 957h0m-57 10h0m99 0h0m-47 10h0m-8 6h0m-53-9h0m92 23h0"/><path class="c1" d="M1165 967h0m37 4h0m24 2h0m-11-1h0m-37 12h0"/><path class="c5" d="M1195 960h0m-28-5h0m-2 7h0m12 0h0m32-1h0m13 23h0m-5-3h0m-52-3h0m-5-5h0m-21 6h0m42 8h0"/><path class="c3" d="M1118 965h0m16 1h0m54-3h0m4 6h0m15 11h0m-38 10h0m31-2h0m28 0h0"/><path class="c1" d="M1140 971h0m17-6h0m30 4h0m11-9h0m25 16h0m-17 15h0m15-4h0"/><path class="c0" d="M1180 971h0m51 0h0m-58 12h0m-1-10h0"/><path class="c4" d="M1152 956h0m-49 16h0m56-6h0m37 4h0m9 1h0m6-7h0m-4 10h0m-37 2h0m-46-2h0m68 11h0"/><path class="c6" d="M1122 978h0m-8-4h0"/><path class="c2" d="M1187 953h0m-9 3h0m-46 15h0m10-6h0m43 1h0m16-4h0m17 8h0m14 7h0m-12-4h0m-40 0h0m-35 6h0m-4 0h0m9 6h0m13 2h0m48 1h0m13 1h0"/><path class="c0" d="M1183 968h0m14-1h0m27 15h0m-95-2h0m-9 1h0"/><path class="c4" d="M1128 969h0m9-4h0m35 0h0m43 10h0m-39 5h0m-46-7h0m-26 6h0"/><path class="c3" d="M1159 959h0m37 13h0m29-1h0m-21 9h0m-19-1h0m-20 1h0m-12-2h0m-37 5h0m74 4h0m26 10h0"/><path class="c2" d="M1211 959h0m-63 2h0m7 2h0m12 8h0m21-5h0m16 0h0m3 17h0m-3-11h0m-62 3h0"/><path class="c5" d="M1117 971h0m55-3h0m59 7h0m-54 2h0m-32 5h0m71 5h0m1-2h0m16 7h0"/><path class="c1" d="M1146 983h0m-12-7h0"/><path class="c6" d="M1233 979h0m-36 7h0m25 9h0"/><path class="c3" d="M1252 946h0m-5 25h0m57-8h0m-48 12h0m12 10h0"/><path class="c1" d="M1198 906h0m0 6h0"/><path class="c4" d="M1215 905h0m46 38h0m66-1h0m-48 9h0m-27 0h0m-22-1h0m64 21h0m1-9h0m-39 21h0m37 6h0m-35 11h0m-8 13h0"/><path class="c7" d="M1229 969h0m78 4h0m-35 29h0"/><path class="c5" d="M1220 913h0m3 5h0m28 10h0m-25-3h0m98 20h0m17-5h0m3 12h0m-12 6h0m-29 0h0m-2-9h0m-9 7h0m-53-3h0m65 11h0m8 30h0m-41 4h0m-17 2h0"/><path class="c0" d="M1202 896h0m21-1h0m-11 5h0m0 10h0m-1-8h0m27 19h0m18 1h0m-10 7h0m4 17h0m61-4h0m23-5h0m8 2h0m0 18h0m-5 0h0m-14 2h0m-2-7h0m-47-2h0m-18 9h0m-4-6h0m-17 0h0m-3 13h0m12 3h0m2-2h0m7-6h0m24 9h0m4-1h0m41-3h0m6-5h0m14 11h0m-19 3h0m-3-1h0m-11-1h0m-5 5h0m-9 3h0m-60-5h0m4 13h0m12 0h0m47 5h0m1-8h0m-46 23h0"/><path class="c6" d="M1184 907h0m46 24h0m39 8h0m68 7h0m-75 37h0m-21 11h0m35-2h0"/><path class="c0" d="M1216 897h0m19 9h0m-25-6h0m-5 7h0m-16 4h0m15 3h0m59 16h0m-15-6h0m-15 11h0m2 3h0m14-1h0m9 2h0m12-1h0m35 7h0m1 1h0m6 1h0m5-3h0m3 3h0m11 0h0m14-5h0m8-4h0m-65 21h0m-58 0h0m32 4h0m17 2h0m36 1h0m22 18h0m-14-4h0m-12-2h0m-41 1h0m-3 0h0m-1 9h0m13 7h0m5-1h0m7 0h0m10-8h0m3 3h0m14 4h0m3-5h0m2 0h0m10-3h0m-62 21h0m-7 6h0"/><path class="c5" d="M1202 902h0m70 44h0m-10 4h0m-17 2h0m-14 3h0m6 10h0m76 31h0"/><path class="c4" d="M1337 933h0m-81 2h0m-19-2h0m-11 10h0m43 22h0m67 12h0m-61 3h0m-33 3h0m37 4h0"/><path class="c6" d="M1239 930h0m-23 4h0m77 22h0m42 14h0m-8 17h0"/><path class="c7" d="M1261 996h0m18 0h0"/><path class="c1" d="M1230 903h0m-26 15h0m106 37h0m-38 11h0m49 25h0"/><path class="c3" d="M1244 922h0m-36 3h0m135 20h0m-14 6h0m-82 3h0m-13 2h0m90 36h0"/><path class="c0" d="M1207 893h0m9 0h0m5 5h0m5 7h0m-4 2h0m-2 3h0m-2-1h0m-10-2h0m-9 7h0m36 4h0m110 14h0m-122 15h0m9-10h0m11 2h0m78-2h0m11 6h0m14 6h0m-34 0h0m-65 0h0m-22-1h0m9 21h0m34-7h0m31 1h0m3 6h0m4-7h0m4 3h0m2-4h0m20 13h0m-10 3h0m-5 4h0m-18-5h0m-20 3h0m-2-2h0m-4 0h0m-23 7h0m-13 1h0m18 1h0m37-1h0m3 4h0m7 9h0m-12-2h0m-7 3h0m-42-3h0"/><path class="c6" d="M1191 906h0m163 36h0m-50 7h0m-60 14h0m15 48h0"/><path class="c3" d="M1192 912h0m126 58h0m15-4h0m1 14h0m-13 6h0m-77 19h0"/><path class="c4" d="M1227 897h0m9 6h0m-1 1h0m-13 15h0m28-1h0m1 24h0m65 0h0m28-6h0m-40 19h0m-15-2h0m-30 3h0m-6 3h0m75 8h0m4 11h0m-85-5h0m-4 3h0m3 14h0m26-1h0m6-5h0m8 2h0m-12 17h0m-19-6h0"/><path class="c5" d="M1231 893h0m-22 27h0m144 16h0m-112-3h0m-13-2h0m-14 0h0m84 26h0m-20 1h0m-5 4h0m15 9h0m25 11h0"/><path class="c1" d="M1339 932h0m8 23h0m-2 3h0m-45 12h0"/><path class="c7" d="M1249 915h0m3 8h0m54 30h0m-2 41h0"/><path class="c3" d="M1248 995h0m40-5h0m-29 30h0"/><path class="c5" d="M1222 892h0m-7 23h0m22 16h0m-8 5h0m100 17h0m-22 17h0m32-2h0m-78 12h0m-9 1h0m66 5h0"/><path class="c6" d="M1215 919h0m47 13h0m-36 16h0m66 27h0m-5 2h0m-33 5h0"/><path class="c0" d="M1210 895h0m4 15h0m-9-1h0m60 25h0m-14 1h0m-16-10h0m-26-1h0m8 16h0m13 2h0m10 5h0m5 0h0m16 1h0m2-10h0m3 9h0m85-3h0m-8 4h0m-20 0h0m-69 2h0m-7 8h0m-19 3h0m20 1h0m27 1h0m18 2h0m8 7h0m40-7h0m1-2h0m-27 11h0m-9 8h0m-68 0h0m31 5h0m3-1h0m1 6h0m36-5h0m4 3h0m-27 7h0m-7 5h0m-31 5h0m7 7h0"/><path class="c4" d="M1241 911h0m-1-4h0m-8 1h0m8 8h0m6-1h0m106 17h0m-139-4h0m11 9h0m94 0h0m-7 21h0m-12-5h0m-55 12h0m63 29h0m-35 3h0m-24 15h0"/><path class="c1" d="M1225 916h0m32 11h0m-30 10h0m100 38h0m2 13h0m-85 24h0"/><path class="c3" d="M1215 922h0m26 34h0m45 23h0m-19 15h0"/><path class="c5" d="M1226 897h0m1 25h0m1-2h0m2-6h0m4 9h0m28 47h0m2-6h0m30 15h0m-15-4h0m-5-1h0m-22 0h0"/><path class="c4" d="M1215 893h0m-10 9h0m-10 7h0m24 14h0m28-3h0m73 38h0m-50-10h0m-11 6h0m-1 9h0m9 8h0m31-4h0m-52 27h0m48 0h0m37-4h0m-70 25h0"/><path class="c0" d="M1233 886h0m-27 9h0m5-6h0m19 0h0m5 9h0m-6 12h0m-5 0h0m-6 4h0m19 6h0m97 13h0m-8 0h0m-110-2h0m-1-3h0m4 14h0m13 1h0m7-4h0m9 4h0m7 0h0m75-6h0m6 7h0m14 1h0m-12 5h0m-2 10h0m-19-9h0m0 5h0m-51 0h0m-40 3h0m1 6h0m12-4h0m46 4h0m28 5h0m17 0h0m10 8h0m-30 3h0m-24-9h0m-33 7h0m-13-4h0m13 18h0m1-4h0m5 2h0m32-6h0m21 2h0m7 13h0m-9-2h0m-43 2h0m-13 3h0m-6 2h0m-4 2h0m14 2h0"/><path class="c7" d="M1213 909h0m53 101h0"/><path class="c6" d="M1233 898h0m94 57h0m-28 4h0m-17-4h0m24 31h0"/><path class="c1" d="M1196 913h0m26 20h0m65 23h0"/><path class="c4" d="M1203 909h0m-5-7h0m34 19h0m0-8h0m9 6h0m-21 10h0m40 17h0m79 7h0m-3 3h0m-63-3h0m-32-3h0m-1 22h0m19-2h0m-7 25h0m10 8h0m-19-1h0"/><path class="c5" d="M1190 902h0m48 11h0m-8 15h0m8 20h0m13 17h0m4-1h0m17 5h0m15-4h0m6 18h0m-44-1h0"/><path class="c3" d="M1226 934h0m-7-9h0m105 13h0m-61 11h0m18 12h0m38 2h0m17 2h0m-48 13h0m35 17h0m-82 7h0m17 10h0"/><path class="c0" d="M1195 899h0m30-6h0m-4 11h0m-16-4h0m142 28h0m-90 3h0m-10-2h0m-6-3h0m-25 18h0m21-3h0m7 3h0m27-1h0m57 15h0m-12-10h0m-81 14h0m6 7h0m13 2h0m8-4h0m25-4h0m15 3h0m20 2h0m2 0h0m14 11h0m-1-5h0m-58 3h0m-16-5h0m-31 1h0m5 22h0m5-6h0m7 3h0m33-3h0m37 7h0m-54 9h0m-17-4h0m14 8h0"/><path class="c6" d="M1318 948h0"/><path class="c3" d="M1222 897h0m126 33h0m-89 88h0"/><path class="c4" d="M1233 895h0m13 39h0m-10-6h0m98 21h0m-61 9h0m-6-3h0m58 8h0m-29 11h0m-63 7h0m24 11h0m25 4h0m49-11h0m-24 11h0m-45 3h0m-12 4h0m6 15h0"/><path class="c0" d="M1201 899h0m5-8h0m13 7h0m7 10h0m-35 5h0m16 3h0m14 7h0m16-10h0m115 20h0m-107-8h0m-16 21h0m6 0h0m18-8h0m24 8h0m46-3h0m13 4h0m4-9h0m-26 19h0m-30-1h0m-8-1h0m-7 5h0m-6-7h0m-29-3h0m-10 5h0m-5-6h0m12 13h0m57 0h0m30 0h0m2 4h0m20-4h0m-11 17h0m-2-2h0m-20 1h0m-5 2h0m-39 3h0m-2-5h0m0-4h0m-2 3h0m-11 2h0m-6-6h0m-1 14h0m23 7h0m16-9h0m18 10h0m3-6h0m-50 30h0"/><path class="c5" d="M1194 901h0m11 17h0m48 14h0m11 11h0m84-3h0m-112 20h0m48 10h0m33 9h0m-35 3h0m-1-10h0m-32 44h0"/><path class="c7" d="M1269 973h0m-25 13h0"/><path class="c6" d="M1227 956h0m39 39h0m10 7h0"/><path class="c0" d="M1248 880h0m-49 43h0m70 3h0m-77 6h0m3 7h0"/><path class="c4" d="M1276 928h0"/><path class="c0" d="M1329 932h0m41 20h0m-15 7h0m-57 50h0m-12 13h0"/><path class="c3" d="M1309 1009h0"/><path class="c4" d="M1365 902h0"/><path class="c0" d="M1207 890h0m174 12h0m-166-2h0m0 0h0m11 13h0m3 8h0m19 27h0m124-6h0m-114 25h0m2-6h0m3 5h0m6-3h0"/><path class="c7" d="M1208 897h0m14 14h0m5 3h0"/><path class="c5" d="M1205 899h0m3-2h0m16 12h0m-8-3h0m-2 1h0m-2 4h0m-2-7h0m-2-3h0m10 16h0m8-2h0m7 17h0m-1 2h0m-3-3h0m0-2h0m-2 6h0m0-8h0m6 16h0m0-5h0m5 7h0m3 1h0m13 10h0m-2-7h0m-1 4h0m-8-4h0m4 12h0m17 5h0m1-3h0m0-1h0m2 5h0"/><path class="c4" d="M1221 911h0m-3-10h0m-5 3h0m-3-3h0m6 16h0m0-3h0m4 1h0m2 4h0m6-4h0m10 16h0m-6 2h0m-6-7h0m-1 2h0m0 0h0m18 10h0m11 12h0m-3-2h0m-3 5h0m-1-3h0m-3 2h0m17 14h0m2 4h0"/><path class="c6" d="M1203 902h0m12 10h0m19 31h0m1 4h0m13-1h0m12 14h0m8 6h0"/><path class="c3" d="M1215 904h0m-2 5h0m-3-5h0m24 25h0m-4-4h0m-6 2h0m12 19h0m3-6h0m7 5h0m0 4h0m-5 3h0m11 12h0m7-3h0m0 1h0m8 2h0"/><path class="c4" d="M1327 940h0m2 18h0m-4-5h0m-1 4h0m-6-1h0m-6 3h0m-43 10h0m23-6h0m18 1h0m18 0h0m-21 15h0m-12 3h0m-26-7h0m-2 3h0"/><path class="c0" d="M1338 932h0m-3 22h0m-1 4h0m-5-7h0m-10-1h0m-2-2h0m-27 18h0m16-5h0m0 10h0m-10 6h0"/><path class="c5" d="M1332 946h0m3 13h0m-1-3h0m-19-4h0m0 7h0m-4-4h0m-44 17h0m54-6h0m-24 6h0m-5 10h0m-13-8h0m-9 8h0m-9-8h0m-1 3h0"/><path class="c3" d="M1342 939h0m-27 32h0m-43 8h0m-13 0h0m27 8h0"/><path class="c6" d="M1336 954h0m-42 16h0m15-4h0m-13 13h0m-15-6h0m-17 6h0m-1 1h0"/><path class="c7" d="M1344 940h0m-67 27h0m1 4h0m23-2h0m-41 8h0"/><path class="c4" d="M1328 941h0m5 0h0m11 2h0m-2 9h0m-3 5h0m-1 2h0m-7-8h0m-6-1h0m-49 21h0m8 1h0m7-9h0m12-1h0m5 4h0m5-1h0m11 2h0m-38 9h0m-12 1h0m16 8h0"/><path class="c0" d="M1313 952h0m-47 18h0m28-8h0m9 2h0"/><path class="c3" d="M1310 970h0m1-3h0m-16 14h0m-11-4h0m-16-5h0m-1 6h0m15 7h0"/><path class="c6" d="M1338 934h0m-15 10h0m8 3h0m19-1h0m-1 3h0m-30 0h0m-21 22h0m-1 2h0m-11 1h0m-17 2h0m-7 8h0m-1-4h0"/><path class="c5" d="M1337 959h0m-11-2h0m-1 0h0m-3 0h0m-63 15h0m74-11h0m-42 13h0m-19 1h0m-8 15h0"/><path class="c4" d="M1330 942h0m-5 10h0m-57 19h0m41 0h0m7-5h0m6 3h0m0-8h0m-33 23h0m-1-1h0m-14-4h0m-15 3h0"/><path class="c6" d="M1341 947h0m-2 6h0m-21 3h0m-26 12h0m10 12h0m-34-5h0"/><path class="c7" d="M1348 945h0m-54 20h0m11 2h0m12-1h0"/><path class="c0" d="M1318 948h0m-18 19h0m33-6h0"/><path class="c3" d="M1327 944h0m13-7h0"/><path class="c5" d="M1332 940h0m1 2h0m14 9h0m-65 19h0m7 0h0m19 0h0m0 6h0m-20 3h0m-1-7h0m-4 7h0m-1-2h0m-8-4h0m-3 15h0"/><path class="c4" d="M928 840h0m-18-1h0m-9 1h0m24 7h0m1-6h0m-7 12h0m-3 1h0m-5-1h0m-7 7h0m-12-7h0m-6-1h0m-1 6h0m30 12h0"/><path class="c3" d="M925 844h0m-4 21h0m-4 15h0"/><path class="c5" d="M897 844h0m5 6h0m4 0h0m14 8h0m-1 6h0m-32-9h0m28 25h0"/><path class="c0" d="M929 837h0m-8 2h0m-6 0h0m-26 8h0m2 3h0m2-4h0m1-1h0m0 4h0m4 1h0m3-7h0m2-3h0m2 6h0m1-3h0m3 4h0m7 5h0m5-8h0m-5 18h0m-3-5h0m-1 4h0m-3-3h0m-2-1h0m-1 6h0m-11 1h0m-11-8h0m8 13h0m7-4h0m0 7h0m1-4h0m1 3h0m2-6h0m6 0h0m10 3h0m2 3h0m0 7h0m-2-1h0m-4 8h0m-1-9h0m-8 3h0m-3 1h0m19 20h0"/><path class="c5" d="M910 846h0m0 6h0m-17 6h0m28 24h0m-2 16h0"/><path class="c0" d="M926 838h0m-3-1h0m-23 11h0m7-6h0m3 3h0m11 3h0m1 3h0m3-1h0m-4 8h0m-8 6h0m-5-11h0m0 8h0m-3-8h0m-4 9h0m0-3h0m-2-4h0m-2 7h0m-2-10h0m-4 10h0m0-4h0m-1 5h0m-1-2h0m7 8h0m1 4h0m3 2h0m4-1h0m1-1h0m4-2h0m0-2h0m3 5h0m1-5h0m6 3h0m1 3h0m-2 9h0m-6-4h0m-2 6h0m0-5h0m-4 5h0m-3-5h0m8 7h0m3 4h0m3-3h0m5 2h0m2 5h0"/><path class="c3" d="M915 851h0"/><path class="c4" d="M913 845h0m2 1h0m2-4h0m1 21h0m-21-5h0m-2-3h0m9 12h0m5 8h0m6-3h0m-4 6h0m-2 11h0m8 4h0m2 2h0m2-6h0"/><path class="c0" d="M921 899h0m37 2h0m-2 5h0m-2-1h0m-2-4h0m-6-1h0m0 1h0m-1-1h0m-4 3h0m-2 0h0m-1-3h0m-6 4h0m-3 0h0m-5-2h0m-1-1h0"/><path class="c5" d="M810 888h0m1 7h0m13 1h0m11-5h0m5-2h0m3 8h0m-34 14h0"/><path class="c0" d="M832 884h0m-7-1h0m-30 1h0m2 5h0m34 3h0m3 15h0"/><path class="c3" d="M823 876h0m4-12h0m31 20h0m-7-2h0m-17-4h0m-9 1h0m0 6h0m-15-4h0m-13 2h0m-5 11h0m3 2h0m25-7h0m20 20h0m-36 1h0m23 2h0"/><path class="c2" d="M862 880h0m-64 14h0m13 6h0m6-8h0m6 2h0m8 2h0m14-3h0m-2 7h0m-14 4h0m-24 3h0"/><path class="c1" d="M817 877h0m-14 10h0m-11 4h0m26 9h0m23 4h0m7 9h0"/><path class="c4" d="M826 873h0m32 7h0m-10 8h0m-49 8h0m44 10h0m-10-4h0m-17 10h0m-3-1h0m27 7h0"/><path class="c0" d="M823 869h0m32 15h0m-38 3h0m-12-1h0m31 4h0m-21 12h0m-11 1h0"/><path class="c1" d="M838 879h0m-28 7h0m8 9h0m7 10h0m-30 0h0m-1-5h0"/><path class="c4" d="M819 873h0m4-3h0m11 12h0m-3-4h0m-37 14h0m12 3h0m24 10h0m-17 2h0"/><path class="c5" d="M815 900h0m16-2h0m-8 13h0m-1 0h0"/><path class="c3" d="M850 885h0m0-4h0m-7 7h0m-12 0h0m-4-6h0m-28 5h0m0 3h0m6 1h0m19 0h0m2 3h0m11 0h0m-1 9h0m-11-1h0m-3 3h0m-20-4h0m-1 2h0m-2 5h0m-1-7h0m46 17h0"/><path class="c6" d="M827 891h0"/><path class="c2" d="M821 874h0m1 4h0m-10 8h0m-5 9h0m6-3h0m3-2h0m5 6h0m-11 11h0"/><path class="c1" d="M873 880h0m-30 7h0m-5-1h0m-29 5h0m-3 12h0m17 10h0m8 1h0"/><path class="c5" d="M837 914h0"/><path class="c3" d="M820 868h0m50 9h0m-5 3h0m-35 6h0m-16-3h0m-11 6h0m1 2h0m5-1h0m32 3h0m3 16h0m-15 0h0m15 4h0"/><path class="c0" d="M829 896h0m8 1h0m-16 5h0m-3 3h0m-5-2h0"/><path class="c4" d="M823 866h0m10 20h0m-11 13h0m4 1h0m7-1h0m5-1h0m3-2h0m4 11h0m-13 2h0m-25-9h0"/><path class="c2" d="M869 881h0m-4 1h0m-5 2h0m-3-1h0m-12 2h0m-23 1h0m-1-5h0m23 22h0m-7 4h0m-2 3h0m-34-2h0"/><path class="c6" d="M840 882h0m-34-1h0m4 32h0"/><path class="c0" d="M791 868h0m75 2h0m-72 6h0"/><path class="c1" d="M852 897h0"/><path class="c3" d="M652 960h0m-12-2h0m-10 2h0m0-11h0m-4 1h0m5 16h0m-7 12h0m-3-2h0"/><path class="c0" d="M636 950h0m0 6h0m-18 9h0m12 4h0m19-8h0m-27 13h0"/><path class="c7" d="M647 959h0m-36-7h0m24 9h0"/><path class="c5" d="M660 955h0m-1-2h0m-5 5h0m-4-6h0m-2 3h0m-13-2h0m-1-3h0m-7 0h0m0 4h0m-3 3h0m-2 2h0m-2-1h0m-3-3h0m0 7h0m1 6h0m2-8h0m0 10h0m2-6h0m4 0h0m2-1h0m3 2h0m12-3h0m-20 17h0m-4-1h0"/><path class="c4" d="M653 955h0m-6-1h0m-3 4h0m-4-7h0m-1 2h0m-5 5h0m-4-3h0m-1 1h0m-8-6h0m-3 5h0m-5-2h0m10 14h0m3 4h0m0-10h0m1 5h0m12-6h0m6 1h0"/><path class="c6" d="M659 956h0m-8 2h0m-8-3h0m-20 0h0m-5-3h0m-2 5h0m4 17h0"/><path class="c0" d="M624 936h0"/><path class="c4" d="M603 957h0"/><path class="c0" d="M634 969h0"/><path class="c5" d="M966 946h0m5 6h0m-6 6h0m13 7h0"/><path class="c1" d="M982 923h0m-14 22h0m4 2h0m3-6h0m1-3h0m1 3h0m-3 16h0m-5-4h0m-1 1h0m-3-3h0m-6 3h0m-2 1h0m0 8h0m19 2h0m2-5h0m-19 13h0m-2 5h0m0-4h0"/><path class="c3" d="M982 929h0m-3 7h0m-1 18h0m-7 3h0m-2 0h0m-3-9h0m-2 8h0m-2-4h0m-5 8h0m0 10h0m2-8h0m3 4h0m2-2h0m6-3h0"/><path class="c4" d="M979 920h0m5 5h0m-2 2h0m-2-1h0m0 28h0m0 3h0m-18 3h0m-5-1h0m-2 12h0m5 1h0m1-4h0m1-4h0m4-3h0m7-1h0"/><path class="c0" d="M978 934h0m0-3h0m-1 2h0m-8 8h0m2 2h0m1-3h0m3 8h0m5 5h0m-6 2h0m0-3h0m-2-3h0m-1 7h0m-7-7h0m-7 18h0m16-3h0"/><path class="c6" d="M982 921h0m-9 16h0m3 10h0m-14 12h0m5 5h0"/><path class="c4" d="M1717 897h0m7 11h0m12 8h0m0-1h0m1-2h0m-776 70h0"/><path class="c3" d="M1708 893h0m1 7h0m5-5h0m7 4h0m11 8h0m-1-1h0m-7 0h0m-1 4h0m-1-3h0m-1 2h0m-2-4h0m0 1h0m-4-4h0m0 1h0m-1 0h0m14 14h0m1-3h0m3-2h0m2 9h0m0-7h0m0 8h0m2-9h0"/><path class="c0" d="M1705 899h0m9-4h0m2 0h0m15 13h0m-7 0h0m-2-4h0m-5 0h0m9 10h0m10 0h0"/><path class="c5" d="M1710 896h0m23 12h0m-14-7h0m12 16h0"/><path class="c1" d="M1706 893h0m5 3h0m1 0h0m8 1h0m9 11h0m-13-4h0m-1-4h0m-9 0h0m26 13h0m9 6h0"/><path class="c0" d="M1696 898h0m33 2h0m-26 2h0m-6 9h0m45 6h0"/></g>
<rect x="220" y="143" width="4.6" height="1161.7" fill="#000"/>
<rect x="220" y="1300.1" width="1609" height="4.6" fill="#000"/>
<rect x="208.6" y="449.3" width="12" height="4.6" fill="#000"/>
<text transform="translate(194 469.9) scale(1 1.03)" font-size="50" text-anchor="end">10</text>
<rect x="208.6" y="812.1" width="12" height="4.6" fill="#000"/>
<text transform="translate(194 832.7) scale(1 1.03)" font-size="50" text-anchor="end">0</text>
<rect x="208.6" y="1174.8" width="12" height="4.6" fill="#000"/>
<text transform="translate(194 1195.4) scale(1 1.03)" font-size="50" text-anchor="end">-10</text>
<rect x="657.9" y="1304" width="4.6" height="12.5" fill="#000"/>
<text transform="translate(660.2 1366) scale(1 1.03)" font-size="50" text-anchor="middle">0</text>
<rect x="1113.7" y="1304" width="4.6" height="12.5" fill="#000"/>
<text transform="translate(1116.0 1366) scale(1 1.03)" font-size="50" text-anchor="middle">10</text>
<rect x="1569.5" y="1304" width="4.6" height="12.5" fill="#000"/>
<text transform="translate(1571.8 1366) scale(1 1.03)" font-size="50" text-anchor="middle">20</text>
<text transform="translate(1026 1435.5) scale(1 1.06)" font-size="58.33" text-anchor="middle">UMAP_1</text>
<text transform="translate(95.1 722.4) rotate(-90) scale(1 1.06)" font-size="58.33" text-anchor="middle">UMAP_2</text>
<text transform="translate(1023.6 100.9) scale(1 1.06)" font-size="66.7" font-weight="bold" text-anchor="middle">SELENOH</text>
<rect x="1885" y="578.2" width="63.8" height="319.7" fill="url(#mg)"/>
<rect x="1885" y="896.8" width="13" height="1.6" fill="#fff"/>
<rect x="1935.8" y="896.8" width="13" height="1.6" fill="#fff"/>
<text transform="translate(1979 915.9) scale(1 1.03)" font-size="50">0.0</text>
<rect x="1885" y="830.3" width="13" height="1.6" fill="#fff"/>
<rect x="1935.8" y="830.3" width="13" height="1.6" fill="#fff"/>
<text transform="translate(1979 849.4) scale(1 1.03)" font-size="50">0.5</text>
<rect x="1885" y="763.8" width="13" height="1.6" fill="#fff"/>
<rect x="1935.8" y="763.8" width="13" height="1.6" fill="#fff"/>
<text transform="translate(1979 782.9) scale(1 1.03)" font-size="50">1.0</text>
<rect x="1885" y="697.3" width="13" height="1.6" fill="#fff"/>
<rect x="1935.8" y="697.3" width="13" height="1.6" fill="#fff"/>
<text transform="translate(1979 716.4) scale(1 1.03)" font-size="50">1.5</text>
<rect x="1885" y="630.8" width="13" height="1.6" fill="#fff"/>
<rect x="1935.8" y="630.8" width="13" height="1.6" fill="#fff"/>
<text transform="translate(1979 649.9) scale(1 1.03)" font-size="50">2.0</text>
</svg></body></html>
